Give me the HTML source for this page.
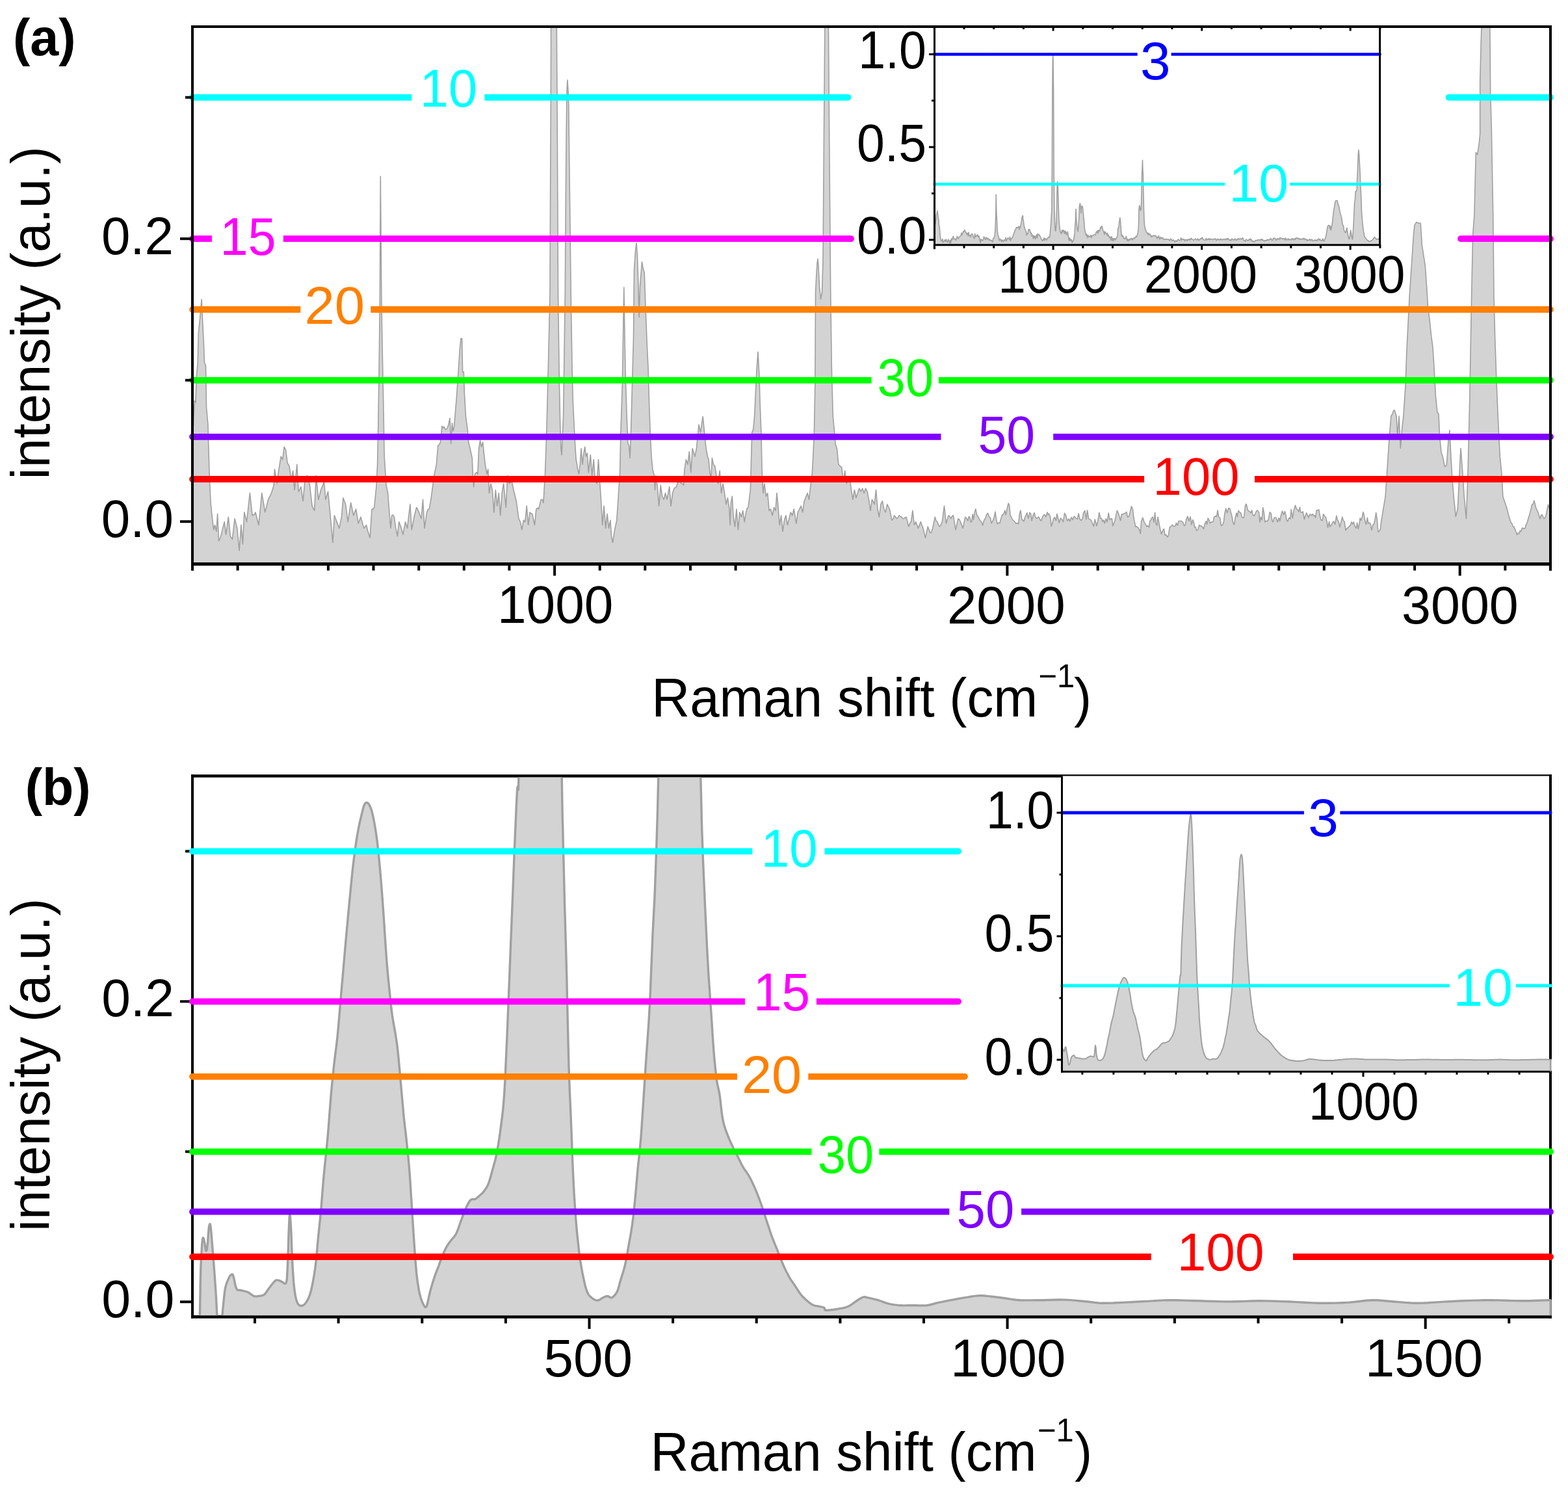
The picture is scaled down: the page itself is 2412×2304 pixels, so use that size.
<!DOCTYPE html>
<html><head><meta charset="utf-8"><title>Raman spectra</title>
<style>html,body{margin:0;padding:0;background:#fff;overflow:hidden;width:2412px;height:2304px;}svg{display:block;}</style>
</head><body>
<svg width="2412" height="2304" viewBox="0 0 2412 2304" font-family='"Liberation Sans", Arial, sans-serif'>
<defs>
<clipPath id="ca"><rect x="298" y="43" width="2085" height="822.5"/></clipPath>
<clipPath id="cai"><rect x="1439" y="42.5" width="682" height="332.8"/></clipPath>
<clipPath id="cb"><rect x="298" y="1195.5" width="2092" height="827.7"/></clipPath>
<clipPath id="cbi"><rect x="1635" y="1195.5" width="752" height="451.3"/></clipPath>
</defs>
<rect width="2412" height="2304" fill="#fff"/>
<g clip-path="url(#ca)"><path d="M297.4 655.4 L299.3 616.2 L301 618.7 L302.3 579.4 L304.2 557.3 L305.2 513.2 L307.2 493.6 L310.1 460.5 L311.6 493.6 L313.3 525.5 L314.5 557.3 L316.5 562.2 L317.5 626 L319.9 653 L320.9 689.8 L322.4 738.8 L324.3 775.6 L326.3 795.2 L328.7 814.8 L330.5 807.5 L332.9 817.3 L334.6 790.3 L336.6 832 L339 827.1 L342.7 812.4 L345.2 802.6 L347.6 822.2 L351.3 795.2 L354.3 824.7 L355.8 826.9 L357.4 829.6 L361.1 797.7 L364.8 812.4 L368 846.7 L370.9 807.5 L373.4 836.9 L375.8 787.9 L379.5 802.6 L384.4 758.4 L388.1 792.8 L389.7 791.5 L391.4 791.7 L393 787.9 L397.9 807.5 L402.8 758.4 L407.7 787.9 L412.6 768.3 L414.3 764.8 L415.9 761.8 L417.5 758.4 L421.2 746.2 L422.4 721.7 L426.1 743.7 L428.6 724.1 L432.2 702 L434.7 706.9 L437.1 687.3 L439.6 692.2 L442.1 711.8 L445 716.8 L448.2 738.8 L450.6 724.1 L453.1 753.5 L456.8 714.3 L459.2 756 L461.1 752.8 L462.9 748.6 L466.1 770.7 L469 738.8 L470.9 733.5 L472.7 731.5 L476.4 746.2 L480.1 778.1 L481.9 781.8 L483.7 785.4 L486.2 731.5 L489.9 768.3 L493.6 753.5 L498.5 741.3 L500.9 768.3 L504.6 756 L508.3 795.2 L511.9 834.5 L514.4 792.8 L518.1 802.6 L521.8 812.4 L525.4 795.2 L527.9 765.8 L531.6 775.6 L535.2 802.6 L539.7 773.2 L543.8 792.8 L547.5 783 L551.2 805 L554.9 795.2 L559.8 812.4 L561.6 810.6 L563.5 807.5 L565.9 817.3 L569.1 827.1 L572 783 L573.9 783.3 L575.7 780.5 L578.9 748.6 L580.6 714.3 L581.8 653 L583.1 567.1 L584.3 469 L585.3 271.4 L586.8 456.8 L588 530.4 L589.7 616.2 L591.2 702 L594.1 746.2 L596.6 758.4 L598.5 783 L601 812.4 L602.7 792.8 L604.5 791.9 L606.4 795.2 L608.8 812.4 L611.3 824.7 L613.7 802.6 L617.4 812.4 L619.9 822.2 L623.5 802.6 L626.5 812.4 L630.9 775.6 L633.3 814.8 L637 795.2 L640.7 780.5 L642.5 783.2 L644.4 787.9 L648.1 797.7 L650.5 768.3 L653 812.4 L656.6 787.9 L658.5 783.3 L660.3 783 L662.8 768.3 L665.2 751.1 L667.7 731.5 L671.4 714.3 L673.8 684.9 L675.7 684 L677.5 680 L679.9 655.4 L681.6 658.1 L683.2 656.3 L684.8 660.3 L686.6 660.4 L688.3 657.9 L690 653 L692 643.2 L693.7 682.4 L695.4 650.5 L696.9 662.8 L698.6 655.4 L700.3 635.8 L702.3 611.3 L704.7 577 L707.2 537.7 L709.1 520.6 L710.6 520.6 L711.6 572.1 L713.3 572.1 L714.5 606.4 L716.5 640.7 L718.2 653 L719.4 662.8 L720.7 680 L723.1 689.8 L726.3 704.5 L727.3 729 L728.7 748.6 L730.5 729 L732.9 726.6 L734.9 729 L736.6 689.8 L738.6 677.5 L740.5 687.3 L742.7 680 L744.4 697.1 L746.4 714.3 L748.9 729 L750.8 721.7 L752.5 758.4 L755 743.7 L757.4 753.5 L759.9 787.9 L762.3 753.5 L764.8 778.1 L767.3 758.4 L769.7 792.8 L772.2 758.4 L774.6 743.7 L778.3 780.5 L780.7 731.5 L783.2 743.7 L785 742.1 L786.9 738.8 L790.6 756 L794.2 770.7 L797.9 797.7 L800.4 802.6 L802.8 814.8 L805.3 800.1 L807.7 802.6 L810.2 778.1 L812.6 807.5 L815.1 787.9 L816.9 789.7 L818.8 790.3 L822.4 807.5 L824.9 783 L826.7 781.2 L828.6 783 L832.2 768.3 L834.1 768.2 L835.9 773.2 L838.4 731.5 L840.8 665.2 L843.3 567.1 L845 493.6 L846 450 L846.6 300 L847.3 150 L847.6 41 L848.2 -285.2 L849.2 -937.8 L851 -1307.5 L851.7 -1361.9 L852.7 -1307.5 L854.5 -937.8 L855.8 -285.2 L856.3 41 L857 150 L857.8 300 L858.5 450 L860.4 591.7 L861.7 653 L862.9 689.8 L864.1 699.6 L865.4 665.2 L866.6 640.7 L869.3 450 L870.3 300 L871.2 200 L872 140 L872.9 123 L874 140 L874.8 160 L875.8 250 L877 350 L878.2 450 L880.1 567.1 L881.3 616.2 L883.7 665.2 L885 689.8 L886.2 706.9 L888.7 721.7 L890.6 729 L892.3 714.3 L894 689.8 L896 714.3 L898 697.1 L899.7 687.3 L901.4 702 L903.4 697.1 L905.3 726.6 L908.3 699.6 L910.7 731.5 L913.2 706.9 L915.6 738.8 L918.1 743.7 L920.5 706.9 L922.5 738.8 L924.2 763.3 L926.7 807.5 L929.1 778.1 L931.6 812.4 L934 790.3 L936.5 812.4 L938.9 800.1 L940.6 824.7 L942.6 834.5 L945.1 817.3 L948.7 800.1 L951.2 763.3 L953.6 726.6 L954.9 665.2 L957.3 591.7 L958.5 518.1 L959.8 442.1 L961 518.1 L962.2 579.4 L964.2 640.7 L965.9 682.4 L967.6 684.9 L969.1 704.5 L970.8 655.4 L972.5 591.7 L974.5 518.1 L975.5 415 L977.5 385 L979 373.8 L980.5 395 L982 440 L983.1 488 L984.5 440 L987.5 402.9 L989 412 L991.3 420.8 L992.9 469 L995.3 530.4 L997.1 567.1 L998.5 616.2 L1000.2 665.2 L1002 702 L1003.9 721.7 L1006.4 731.5 L1007.6 753.5 L1008.8 731.5 L1011.3 748.6 L1013.7 778.1 L1016.2 746.2 L1018.6 763.3 L1021.1 768.3 L1023.5 758.4 L1026 768.3 L1029.7 748.6 L1032.1 778.1 L1034.6 758.4 L1037 751.1 L1038.9 750 L1040.7 748.6 L1042.5 742.7 L1044.4 741.3 L1046.2 740.9 L1048.1 743.7 L1049.9 743.6 L1051.7 746.2 L1053 721.7 L1055.4 706.9 L1057.9 714.3 L1060.3 694.7 L1062.8 726.6 L1065.2 689.8 L1068.9 702 L1071.4 689.8 L1075 653 L1077.5 665.2 L1081.2 640.7 L1083.6 665.2 L1086.1 689.8 L1088.5 702 L1090 706.9 L1092 726.6 L1093.7 738.8 L1095.4 704.5 L1097.4 714.3 L1099.8 716.8 L1102.3 733.9 L1104.7 743.7 L1107.2 724.1 L1109.6 758.4 L1112.1 743.7 L1114.5 758.4 L1117 775.6 L1119.4 765.8 L1121.9 783 L1123.1 807.5 L1124.3 773.2 L1126.3 763.3 L1128 792.8 L1130.5 809.9 L1132.9 783 L1135.4 814.8 L1137.8 787.9 L1140.3 795.2 L1142.7 785.4 L1145.2 802.6 L1147.6 787.9 L1149.2 781.8 L1150.8 780.5 L1152.5 768.3 L1154.3 753.5 L1155.7 702 L1156.7 665.2 L1158.7 660.3 L1160.6 640.7 L1162.3 603.9 L1164.1 567.1 L1166 541.4 L1168 579.4 L1169 616.2 L1170.9 665.2 L1172.2 726.6 L1173.9 758.4 L1175.8 743.7 L1178.3 763.3 L1180.7 758.4 L1183.2 785.4 L1185.6 783 L1188.1 792.8 L1190.6 780.5 L1193 785.4 L1195 758.4 L1196.7 775.6 L1199.1 807.5 L1201.6 792.8 L1204 817.3 L1206.5 800.1 L1208.9 792.8 L1211.4 807.5 L1213.9 797.7 L1216.3 787.9 L1218.8 792.8 L1221.2 783 L1224.9 805 L1227.3 787.9 L1229.8 783 L1232.2 778.1 L1234.7 787.9 L1237.1 770.7 L1240.1 763.3 L1242.1 758.4 L1244.5 768.3 L1247 746.2 L1249.4 726.6 L1250.6 704.5 L1252.4 665.2 L1253.8 591.7 L1254.5 450 L1256 420 L1257 405 L1258 398 L1259 410 L1260.5 440 L1262.5 460 L1264.5 450 L1266 400 L1267.5 200 L1268.8 41 L1270.2 -24.2 L1271.6 -133 L1273 -24.2 L1274.4 41 L1275.6 200 L1277.7 450 L1279.3 567.1 L1281.3 640.7 L1283.7 665.2 L1285 682.4 L1287.4 689.8 L1289.9 714.3 L1292.3 716.8 L1294.8 719.2 L1297.2 741.3 L1299.7 724.1 L1302.1 743.7 L1304.6 738.8 L1307 733.9 L1309.5 753.5 L1311.9 768.3 L1314.4 753.5 L1316.9 765.8 L1319.3 758.4 L1321.8 751.1 L1324.2 756 L1326.7 751.1 L1329.1 758.4 L1331.6 751.1 L1334 756 L1336.5 768.3 L1338.9 785.4 L1341.4 768.3 L1343.2 771.7 L1345.1 775.6 L1347.5 753.5 L1350 783 L1352.4 795.2 L1354.9 775.6 L1357.3 770.7 L1359.8 783 L1362.2 787.9 L1364.7 775.6 L1366.5 779 L1368.4 783 L1372 800.1 L1373.9 798.2 L1375.7 792.8 L1377.6 795.3 L1379.4 797.7 L1381.2 796 L1383.1 792.8 L1384.9 794 L1386.8 795.2 L1388.6 797.3 L1390.4 797.7 L1392.3 796.2 L1394.1 795.2 L1397.8 809.9 L1399.6 805.1 L1401.5 802.6 L1403.9 785.4 L1406.4 807.5 L1408.8 802.6 L1412.5 812.4 L1416.2 802.6 L1419.9 812.4 L1423.5 827.1 L1427.2 809.9 L1430.9 819.8 L1432.7 818.7 L1434.6 812.4 L1438.3 795.2 L1440.1 801.5 L1441.9 802.6 L1443.8 808 L1445.6 809.9 L1447.4 807.3 L1449.3 802.6 L1452.5 778.1 L1455.4 805 L1459.1 792.8 L1460.9 794.3 L1462.8 797.7 L1464.6 793.8 L1466.5 792.8 L1470.1 814.8 L1473.8 797.7 L1475.7 799 L1477.5 802.6 L1481.2 812.4 L1484.8 795.2 L1487 797.4 L1488.9 801.1 L1490.3 794.5 L1491.6 795.2 L1493.4 803 L1494.7 802.5 L1496.1 790.8 L1497.5 799.4 L1499 788.9 L1500.8 782.7 L1502.5 791.6 L1504.6 794.4 L1506.1 798 L1507.7 800.5 L1509.7 802.8 L1511.6 807.9 L1513.2 801.4 L1514.6 799.3 L1516.1 796 L1517.7 791.2 L1519.5 789.3 L1521.5 794.6 L1523.4 796.3 L1525.2 804.8 L1527.3 800.9 L1529.5 794.5 L1530.9 787.1 L1532.3 796.8 L1534.1 805.7 L1536.1 804.1 L1537.9 804.8 L1539.8 797.7 L1541.6 791.7 L1543.7 791 L1545.8 785 L1547.2 791.8 L1549.1 782.8 L1551.2 774 L1552.7 777.6 L1554 792.1 L1555.8 795.6 L1557.1 798.7 L1559.1 800.8 L1560.8 802.1 L1562.8 805.2 L1564.6 804.4 L1566.7 805.7 L1568.3 790.5 L1569.9 785.1 L1572.1 799.6 L1573.5 799.8 L1575.1 801.9 L1576.8 795.1 L1578.1 792.8 L1579.8 788.7 L1581.9 797.4 L1583.9 788.2 L1585.8 790.5 L1587.1 801 L1589.2 792.2 L1591.2 788.7 L1592.6 795.3 L1594.5 797.1 L1596 796.9 L1597.4 794.8 L1598.7 796.4 L1600.2 800.1 L1601.5 801 L1603.6 795.4 L1605.1 792.7 L1606.7 791.3 L1608.8 794.9 L1611 787.7 L1612.3 792 L1613.7 790.2 L1615.8 795.7 L1617.2 809.4 L1619 804.4 L1620.4 798.1 L1622.2 795.6 L1624.4 800.6 L1625.9 790.3 L1627.5 796.7 L1629.3 804 L1631.3 797 L1633.4 798.8 L1635.5 802.6 L1637.6 789.4 L1639.5 791.9 L1641.2 799.3 L1642.5 801 L1644 797.9 L1645.9 801.6 L1648.1 795.6 L1650.3 799.4 L1651.8 794.5 L1653.3 794.6 L1655.1 797.1 L1657.3 798.3 L1659.1 789.7 L1661.2 798.6 L1663.3 800.5 L1665.3 797.2 L1666.7 788.6 L1668.8 785.5 L1670.9 798.7 L1672.6 784.8 L1674.5 797.6 L1676 798.7 L1678.1 799.5 L1680.1 804.4 L1682.3 809.4 L1684.2 798.9 L1685.6 803.7 L1686.9 808.9 L1688.7 801.7 L1690.9 788.4 L1692.9 797.3 L1694.4 797.2 L1695.9 802.2 L1697.7 799.7 L1699.1 805 L1701.3 797.7 L1703.1 803 L1705.2 789 L1707 799.5 L1708.7 797.8 L1710.4 797.9 L1711.9 808.9 L1713.4 804.5 L1715.1 800.8 L1716.7 792.4 L1718.4 785.5 L1719.8 788 L1721.6 793.1 L1723.6 800.8 L1725.4 790.9 L1727.5 791 L1729.2 789.6 L1731 789.6 L1732.9 787.3 L1734.6 795.3 L1736.8 793.8 L1738.9 785.2 L1740.5 778.8 L1742.5 783.5 L1743.9 796 L1745.3 802.8 L1746.8 810 L1748.8 810.1 L1750.9 811.6 L1752.8 815 L1754.3 820.7 L1755.7 801.6 L1757.9 796.3 L1760.1 803.1 L1762.1 806.1 L1763.9 809.9 L1765.5 808.4 L1767.5 811 L1768.8 801.4 L1770.1 800.2 L1771.7 796.7 L1773.1 795 L1775.2 803.1 L1776.6 788.2 L1778.2 805.8 L1779.7 808.1 L1781.1 795.2 L1783.2 806.2 L1784.7 814 L1786.5 821.4 L1788.4 816.5 L1790.4 813.3 L1792.1 823.3 L1793.9 822.5 L1795.9 826.1 L1797.3 823.8 L1799.4 810.6 L1801.2 809.9 L1803.3 807.2 L1805.1 809.1 L1806.6 809.5 L1807.9 809.1 L1809.4 804.4 L1811.4 808.1 L1813 801.5 L1814.6 801.4 L1815.9 801.2 L1817.9 801.7 L1819.7 803.6 L1821.8 808.6 L1823.2 807.7 L1824.9 798.7 L1827 794 L1828.9 801.4 L1831.1 794.8 L1833 806.9 L1834.9 799.5 L1836.3 803.1 L1837.7 810.9 L1839.2 810.5 L1840.6 816 L1842.7 814.9 L1844.6 807.6 L1846.2 808.8 L1847.9 808.7 L1849.4 810.5 L1851.6 813.5 L1853.1 806.4 L1855.3 801.7 L1856.6 806.5 L1858.2 796.8 L1859.7 799.6 L1861.5 804.8 L1862.9 803 L1864.5 803.2 L1866.1 802.3 L1867.6 795.2 L1869.6 793.9 L1871.5 794.3 L1873.1 784.9 L1874.7 795 L1876.7 796.7 L1878.5 808.7 L1880.6 807.3 L1882.5 802.2 L1883.9 789.6 L1885.7 782 L1887.7 788.7 L1889.8 781.6 L1891.7 782.1 L1893.6 788.8 L1895 793.8 L1896.7 803.9 L1898.5 807.2 L1900.3 795.6 L1902.1 789 L1903.4 794.7 L1905.1 785.2 L1906.9 788.1 L1908.9 788.9 L1910.4 795.4 L1912.4 796.7 L1913.8 794.1 L1915.6 777.3 L1917.2 775.2 L1919.2 784.1 L1921.1 786.2 L1922.5 786.9 L1924 788.8 L1925.8 784.8 L1927.2 792.2 L1929.1 793.5 L1931 790.1 L1932.7 785.9 L1934.5 785.1 L1936.6 788.1 L1938 803 L1939.4 795.3 L1941.1 799.6 L1942.8 780.9 L1944.3 788.4 L1945.8 802.9 L1947.6 801.3 L1949.8 801.5 L1951.2 798.9 L1953.3 787.8 L1955.2 789.6 L1957 801.7 L1958.3 802.6 L1960 796.2 L1961.6 796 L1963.2 796.8 L1965.2 803 L1967.3 796.6 L1968.7 801.5 L1970.8 791.5 L1972.4 786.1 L1974.6 791.7 L1976.4 786.4 L1977.9 792.5 L1979.3 800.1 L1980.8 802 L1983 796.3 L1984.7 797.9 L1986.2 783.6 L1988.3 797 L1990.3 784.7 L1992.5 777.3 L1994.3 782.6 L1996.2 784 L1997.9 787.1 L1999.5 780.1 L2000.8 787.9 L2002.6 788.1 L2004.2 786.8 L2006.4 798.7 L2007.9 793.1 L2009.7 788.8 L2011.3 792.6 L2012.8 796.1 L2014.9 790.9 L2017.1 792.6 L2019.3 790.5 L2020.7 793.6 L2022.1 792.9 L2023.6 796.3 L2025.2 784.8 L2027.1 784.7 L2028.8 783.8 L2030.4 793.5 L2032.1 799.7 L2034.2 800.6 L2035.6 790.8 L2037.7 793.9 L2039.2 795.2 L2040.9 801.1 L2042.6 811.2 L2044.7 802.4 L2046 810.1 L2048.1 807.2 L2049.8 803.7 L2051.5 801.9 L2053.6 806.5 L2055.8 793.3 L2057.3 799.2 L2059.1 802.2 L2061 810.6 L2062.9 803 L2064.8 795.1 L2066.2 800.1 L2068.2 802.4 L2070.1 815.8 L2071.6 813 L2073.5 811.7 L2075.4 809.5 L2077.2 808.2 L2079 802.8 L2080.9 806 L2082.2 802.9 L2084.4 809.8 L2086.2 812.4 L2087.7 804.2 L2089.3 813.3 L2090.8 806.9 L2092.2 796.8 L2093.8 800.3 L2095.4 795.3 L2096.9 787.6 L2098.2 791.9 L2100.1 802.9 L2101.6 806.5 L2103.4 796.2 L2104.8 805.1 L2106.9 803.9 L2108.4 806.1 L2109.9 815.4 L2112.1 806.8 L2113.6 806 L2115.3 798.1 L2116.7 788.5 L2118.4 799.6 L2119.8 817.8 L2121.1 817.6 L2123.3 814.2 L2124.9 800.8 L2128 782.2 L2131.1 763.7 L2134.2 717.3 L2137.3 670.9 L2139.8 640 L2141.9 636.9 L2143.5 631.6 L2145 630.8 L2148.1 640 L2149.7 670.9 L2152.1 640 L2154.3 689.5 L2156.5 661.7 L2158.9 640 L2162 593.7 L2163.6 547.3 L2165.1 516.4 L2168.2 454.6 L2171.3 408.2 L2174.4 361.8 L2175.9 346.4 L2179 341.7 L2182.1 343.3 L2185.2 343.3 L2187.4 377.3 L2189.8 392.7 L2192.3 408.2 L2194.5 439.1 L2196.6 473.1 L2199.1 491.7 L2201.6 516.4 L2203.8 531.8 L2205.9 562.8 L2208.4 609.1 L2210.9 633.8 L2213 636.9 L2214.6 670.9 L2217 695.7 L2219.2 701.9 L2222.3 717.3 L2223.8 717.1 L2225.4 714.2 L2228.5 670.9 L2230 661.7 L2231.6 695.7 L2233.7 732.8 L2236.2 763.7 L2239.3 794.6 L2242.4 782.2 L2245.5 717.3 L2247 689.5 L2249.2 717.3 L2252.3 763.7 L2255.4 797.7 L2257.9 732.8 L2259.4 670.9 L2260.9 609.1 L2262.5 516.4 L2264 439.1 L2265.6 361.8 L2267.9 330 L2270.3 234.6 L2272.7 237.8 L2275.1 221.8 L2276.7 205.9 L2276.7 126 L2278.3 62 L2279 41 L2280.5 -67.8 L2282.6 -198.2 L2284.4 -252.6 L2286.5 -198.2 L2288.9 -89.5 L2291.9 41 L2292.7 142 L2294.3 197.9 L2295.9 285.8 L2296.7 330 L2298 454.6 L2299.6 516.4 L2301.7 578.2 L2304.2 640 L2305.8 670.9 L2307.3 701.9 L2309.8 726.6 L2311.9 763.7 L2315 773 L2318.1 782.2 L2321.2 794.6 L2324.3 803.9 L2325.9 805.4 L2327.4 809.8 L2328.9 810 L2333.6 822.4 L2335.1 819.8 L2336.7 820.7 L2338.2 816.2 L2339.8 817.3 L2341.3 812.1 L2342.9 812.4 L2344.4 813.1 L2346 812.2 L2347.5 806.8 L2349 803.9 L2353.7 788.4 L2356.8 776 L2358.3 775.4 L2359.9 769.9 L2363 782.2 L2364.5 784.8 L2366 788.4 L2369.1 797.7 L2370.7 792.4 L2372.2 791.5 L2373.8 795.3 L2375.3 797.7 L2376.9 796 L2378.4 791.5 L2381.5 776 L2383 782.2 L2383 900 L297.4 900 Z" fill="#d3d3d3"/><path d="M297.4 655.4 L299.3 616.2 L301 618.7 L302.3 579.4 L304.2 557.3 L305.2 513.2 L307.2 493.6 L310.1 460.5 L311.6 493.6 L313.3 525.5 L314.5 557.3 L316.5 562.2 L317.5 626 L319.9 653 L320.9 689.8 L322.4 738.8 L324.3 775.6 L326.3 795.2 L328.7 814.8 L330.5 807.5 L332.9 817.3 L334.6 790.3 L336.6 832 L339 827.1 L342.7 812.4 L345.2 802.6 L347.6 822.2 L351.3 795.2 L354.3 824.7 L355.8 826.9 L357.4 829.6 L361.1 797.7 L364.8 812.4 L368 846.7 L370.9 807.5 L373.4 836.9 L375.8 787.9 L379.5 802.6 L384.4 758.4 L388.1 792.8 L389.7 791.5 L391.4 791.7 L393 787.9 L397.9 807.5 L402.8 758.4 L407.7 787.9 L412.6 768.3 L414.3 764.8 L415.9 761.8 L417.5 758.4 L421.2 746.2 L422.4 721.7 L426.1 743.7 L428.6 724.1 L432.2 702 L434.7 706.9 L437.1 687.3 L439.6 692.2 L442.1 711.8 L445 716.8 L448.2 738.8 L450.6 724.1 L453.1 753.5 L456.8 714.3 L459.2 756 L461.1 752.8 L462.9 748.6 L466.1 770.7 L469 738.8 L470.9 733.5 L472.7 731.5 L476.4 746.2 L480.1 778.1 L481.9 781.8 L483.7 785.4 L486.2 731.5 L489.9 768.3 L493.6 753.5 L498.5 741.3 L500.9 768.3 L504.6 756 L508.3 795.2 L511.9 834.5 L514.4 792.8 L518.1 802.6 L521.8 812.4 L525.4 795.2 L527.9 765.8 L531.6 775.6 L535.2 802.6 L539.7 773.2 L543.8 792.8 L547.5 783 L551.2 805 L554.9 795.2 L559.8 812.4 L561.6 810.6 L563.5 807.5 L565.9 817.3 L569.1 827.1 L572 783 L573.9 783.3 L575.7 780.5 L578.9 748.6 L580.6 714.3 L581.8 653 L583.1 567.1 L584.3 469 L585.3 271.4 L586.8 456.8 L588 530.4 L589.7 616.2 L591.2 702 L594.1 746.2 L596.6 758.4 L598.5 783 L601 812.4 L602.7 792.8 L604.5 791.9 L606.4 795.2 L608.8 812.4 L611.3 824.7 L613.7 802.6 L617.4 812.4 L619.9 822.2 L623.5 802.6 L626.5 812.4 L630.9 775.6 L633.3 814.8 L637 795.2 L640.7 780.5 L642.5 783.2 L644.4 787.9 L648.1 797.7 L650.5 768.3 L653 812.4 L656.6 787.9 L658.5 783.3 L660.3 783 L662.8 768.3 L665.2 751.1 L667.7 731.5 L671.4 714.3 L673.8 684.9 L675.7 684 L677.5 680 L679.9 655.4 L681.6 658.1 L683.2 656.3 L684.8 660.3 L686.6 660.4 L688.3 657.9 L690 653 L692 643.2 L693.7 682.4 L695.4 650.5 L696.9 662.8 L698.6 655.4 L700.3 635.8 L702.3 611.3 L704.7 577 L707.2 537.7 L709.1 520.6 L710.6 520.6 L711.6 572.1 L713.3 572.1 L714.5 606.4 L716.5 640.7 L718.2 653 L719.4 662.8 L720.7 680 L723.1 689.8 L726.3 704.5 L727.3 729 L728.7 748.6 L730.5 729 L732.9 726.6 L734.9 729 L736.6 689.8 L738.6 677.5 L740.5 687.3 L742.7 680 L744.4 697.1 L746.4 714.3 L748.9 729 L750.8 721.7 L752.5 758.4 L755 743.7 L757.4 753.5 L759.9 787.9 L762.3 753.5 L764.8 778.1 L767.3 758.4 L769.7 792.8 L772.2 758.4 L774.6 743.7 L778.3 780.5 L780.7 731.5 L783.2 743.7 L785 742.1 L786.9 738.8 L790.6 756 L794.2 770.7 L797.9 797.7 L800.4 802.6 L802.8 814.8 L805.3 800.1 L807.7 802.6 L810.2 778.1 L812.6 807.5 L815.1 787.9 L816.9 789.7 L818.8 790.3 L822.4 807.5 L824.9 783 L826.7 781.2 L828.6 783 L832.2 768.3 L834.1 768.2 L835.9 773.2 L838.4 731.5 L840.8 665.2 L843.3 567.1 L845 493.6 L846 450 L846.6 300 L847.3 150 L847.6 41 L848.2 -285.2 L849.2 -937.8 L851 -1307.5 L851.7 -1361.9 L852.7 -1307.5 L854.5 -937.8 L855.8 -285.2 L856.3 41 L857 150 L857.8 300 L858.5 450 L860.4 591.7 L861.7 653 L862.9 689.8 L864.1 699.6 L865.4 665.2 L866.6 640.7 L869.3 450 L870.3 300 L871.2 200 L872 140 L872.9 123 L874 140 L874.8 160 L875.8 250 L877 350 L878.2 450 L880.1 567.1 L881.3 616.2 L883.7 665.2 L885 689.8 L886.2 706.9 L888.7 721.7 L890.6 729 L892.3 714.3 L894 689.8 L896 714.3 L898 697.1 L899.7 687.3 L901.4 702 L903.4 697.1 L905.3 726.6 L908.3 699.6 L910.7 731.5 L913.2 706.9 L915.6 738.8 L918.1 743.7 L920.5 706.9 L922.5 738.8 L924.2 763.3 L926.7 807.5 L929.1 778.1 L931.6 812.4 L934 790.3 L936.5 812.4 L938.9 800.1 L940.6 824.7 L942.6 834.5 L945.1 817.3 L948.7 800.1 L951.2 763.3 L953.6 726.6 L954.9 665.2 L957.3 591.7 L958.5 518.1 L959.8 442.1 L961 518.1 L962.2 579.4 L964.2 640.7 L965.9 682.4 L967.6 684.9 L969.1 704.5 L970.8 655.4 L972.5 591.7 L974.5 518.1 L975.5 415 L977.5 385 L979 373.8 L980.5 395 L982 440 L983.1 488 L984.5 440 L987.5 402.9 L989 412 L991.3 420.8 L992.9 469 L995.3 530.4 L997.1 567.1 L998.5 616.2 L1000.2 665.2 L1002 702 L1003.9 721.7 L1006.4 731.5 L1007.6 753.5 L1008.8 731.5 L1011.3 748.6 L1013.7 778.1 L1016.2 746.2 L1018.6 763.3 L1021.1 768.3 L1023.5 758.4 L1026 768.3 L1029.7 748.6 L1032.1 778.1 L1034.6 758.4 L1037 751.1 L1038.9 750 L1040.7 748.6 L1042.5 742.7 L1044.4 741.3 L1046.2 740.9 L1048.1 743.7 L1049.9 743.6 L1051.7 746.2 L1053 721.7 L1055.4 706.9 L1057.9 714.3 L1060.3 694.7 L1062.8 726.6 L1065.2 689.8 L1068.9 702 L1071.4 689.8 L1075 653 L1077.5 665.2 L1081.2 640.7 L1083.6 665.2 L1086.1 689.8 L1088.5 702 L1090 706.9 L1092 726.6 L1093.7 738.8 L1095.4 704.5 L1097.4 714.3 L1099.8 716.8 L1102.3 733.9 L1104.7 743.7 L1107.2 724.1 L1109.6 758.4 L1112.1 743.7 L1114.5 758.4 L1117 775.6 L1119.4 765.8 L1121.9 783 L1123.1 807.5 L1124.3 773.2 L1126.3 763.3 L1128 792.8 L1130.5 809.9 L1132.9 783 L1135.4 814.8 L1137.8 787.9 L1140.3 795.2 L1142.7 785.4 L1145.2 802.6 L1147.6 787.9 L1149.2 781.8 L1150.8 780.5 L1152.5 768.3 L1154.3 753.5 L1155.7 702 L1156.7 665.2 L1158.7 660.3 L1160.6 640.7 L1162.3 603.9 L1164.1 567.1 L1166 541.4 L1168 579.4 L1169 616.2 L1170.9 665.2 L1172.2 726.6 L1173.9 758.4 L1175.8 743.7 L1178.3 763.3 L1180.7 758.4 L1183.2 785.4 L1185.6 783 L1188.1 792.8 L1190.6 780.5 L1193 785.4 L1195 758.4 L1196.7 775.6 L1199.1 807.5 L1201.6 792.8 L1204 817.3 L1206.5 800.1 L1208.9 792.8 L1211.4 807.5 L1213.9 797.7 L1216.3 787.9 L1218.8 792.8 L1221.2 783 L1224.9 805 L1227.3 787.9 L1229.8 783 L1232.2 778.1 L1234.7 787.9 L1237.1 770.7 L1240.1 763.3 L1242.1 758.4 L1244.5 768.3 L1247 746.2 L1249.4 726.6 L1250.6 704.5 L1252.4 665.2 L1253.8 591.7 L1254.5 450 L1256 420 L1257 405 L1258 398 L1259 410 L1260.5 440 L1262.5 460 L1264.5 450 L1266 400 L1267.5 200 L1268.8 41 L1270.2 -24.2 L1271.6 -133 L1273 -24.2 L1274.4 41 L1275.6 200 L1277.7 450 L1279.3 567.1 L1281.3 640.7 L1283.7 665.2 L1285 682.4 L1287.4 689.8 L1289.9 714.3 L1292.3 716.8 L1294.8 719.2 L1297.2 741.3 L1299.7 724.1 L1302.1 743.7 L1304.6 738.8 L1307 733.9 L1309.5 753.5 L1311.9 768.3 L1314.4 753.5 L1316.9 765.8 L1319.3 758.4 L1321.8 751.1 L1324.2 756 L1326.7 751.1 L1329.1 758.4 L1331.6 751.1 L1334 756 L1336.5 768.3 L1338.9 785.4 L1341.4 768.3 L1343.2 771.7 L1345.1 775.6 L1347.5 753.5 L1350 783 L1352.4 795.2 L1354.9 775.6 L1357.3 770.7 L1359.8 783 L1362.2 787.9 L1364.7 775.6 L1366.5 779 L1368.4 783 L1372 800.1 L1373.9 798.2 L1375.7 792.8 L1377.6 795.3 L1379.4 797.7 L1381.2 796 L1383.1 792.8 L1384.9 794 L1386.8 795.2 L1388.6 797.3 L1390.4 797.7 L1392.3 796.2 L1394.1 795.2 L1397.8 809.9 L1399.6 805.1 L1401.5 802.6 L1403.9 785.4 L1406.4 807.5 L1408.8 802.6 L1412.5 812.4 L1416.2 802.6 L1419.9 812.4 L1423.5 827.1 L1427.2 809.9 L1430.9 819.8 L1432.7 818.7 L1434.6 812.4 L1438.3 795.2 L1440.1 801.5 L1441.9 802.6 L1443.8 808 L1445.6 809.9 L1447.4 807.3 L1449.3 802.6 L1452.5 778.1 L1455.4 805 L1459.1 792.8 L1460.9 794.3 L1462.8 797.7 L1464.6 793.8 L1466.5 792.8 L1470.1 814.8 L1473.8 797.7 L1475.7 799 L1477.5 802.6 L1481.2 812.4 L1484.8 795.2 L1487 797.4 L1488.9 801.1 L1490.3 794.5 L1491.6 795.2 L1493.4 803 L1494.7 802.5 L1496.1 790.8 L1497.5 799.4 L1499 788.9 L1500.8 782.7 L1502.5 791.6 L1504.6 794.4 L1506.1 798 L1507.7 800.5 L1509.7 802.8 L1511.6 807.9 L1513.2 801.4 L1514.6 799.3 L1516.1 796 L1517.7 791.2 L1519.5 789.3 L1521.5 794.6 L1523.4 796.3 L1525.2 804.8 L1527.3 800.9 L1529.5 794.5 L1530.9 787.1 L1532.3 796.8 L1534.1 805.7 L1536.1 804.1 L1537.9 804.8 L1539.8 797.7 L1541.6 791.7 L1543.7 791 L1545.8 785 L1547.2 791.8 L1549.1 782.8 L1551.2 774 L1552.7 777.6 L1554 792.1 L1555.8 795.6 L1557.1 798.7 L1559.1 800.8 L1560.8 802.1 L1562.8 805.2 L1564.6 804.4 L1566.7 805.7 L1568.3 790.5 L1569.9 785.1 L1572.1 799.6 L1573.5 799.8 L1575.1 801.9 L1576.8 795.1 L1578.1 792.8 L1579.8 788.7 L1581.9 797.4 L1583.9 788.2 L1585.8 790.5 L1587.1 801 L1589.2 792.2 L1591.2 788.7 L1592.6 795.3 L1594.5 797.1 L1596 796.9 L1597.4 794.8 L1598.7 796.4 L1600.2 800.1 L1601.5 801 L1603.6 795.4 L1605.1 792.7 L1606.7 791.3 L1608.8 794.9 L1611 787.7 L1612.3 792 L1613.7 790.2 L1615.8 795.7 L1617.2 809.4 L1619 804.4 L1620.4 798.1 L1622.2 795.6 L1624.4 800.6 L1625.9 790.3 L1627.5 796.7 L1629.3 804 L1631.3 797 L1633.4 798.8 L1635.5 802.6 L1637.6 789.4 L1639.5 791.9 L1641.2 799.3 L1642.5 801 L1644 797.9 L1645.9 801.6 L1648.1 795.6 L1650.3 799.4 L1651.8 794.5 L1653.3 794.6 L1655.1 797.1 L1657.3 798.3 L1659.1 789.7 L1661.2 798.6 L1663.3 800.5 L1665.3 797.2 L1666.7 788.6 L1668.8 785.5 L1670.9 798.7 L1672.6 784.8 L1674.5 797.6 L1676 798.7 L1678.1 799.5 L1680.1 804.4 L1682.3 809.4 L1684.2 798.9 L1685.6 803.7 L1686.9 808.9 L1688.7 801.7 L1690.9 788.4 L1692.9 797.3 L1694.4 797.2 L1695.9 802.2 L1697.7 799.7 L1699.1 805 L1701.3 797.7 L1703.1 803 L1705.2 789 L1707 799.5 L1708.7 797.8 L1710.4 797.9 L1711.9 808.9 L1713.4 804.5 L1715.1 800.8 L1716.7 792.4 L1718.4 785.5 L1719.8 788 L1721.6 793.1 L1723.6 800.8 L1725.4 790.9 L1727.5 791 L1729.2 789.6 L1731 789.6 L1732.9 787.3 L1734.6 795.3 L1736.8 793.8 L1738.9 785.2 L1740.5 778.8 L1742.5 783.5 L1743.9 796 L1745.3 802.8 L1746.8 810 L1748.8 810.1 L1750.9 811.6 L1752.8 815 L1754.3 820.7 L1755.7 801.6 L1757.9 796.3 L1760.1 803.1 L1762.1 806.1 L1763.9 809.9 L1765.5 808.4 L1767.5 811 L1768.8 801.4 L1770.1 800.2 L1771.7 796.7 L1773.1 795 L1775.2 803.1 L1776.6 788.2 L1778.2 805.8 L1779.7 808.1 L1781.1 795.2 L1783.2 806.2 L1784.7 814 L1786.5 821.4 L1788.4 816.5 L1790.4 813.3 L1792.1 823.3 L1793.9 822.5 L1795.9 826.1 L1797.3 823.8 L1799.4 810.6 L1801.2 809.9 L1803.3 807.2 L1805.1 809.1 L1806.6 809.5 L1807.9 809.1 L1809.4 804.4 L1811.4 808.1 L1813 801.5 L1814.6 801.4 L1815.9 801.2 L1817.9 801.7 L1819.7 803.6 L1821.8 808.6 L1823.2 807.7 L1824.9 798.7 L1827 794 L1828.9 801.4 L1831.1 794.8 L1833 806.9 L1834.9 799.5 L1836.3 803.1 L1837.7 810.9 L1839.2 810.5 L1840.6 816 L1842.7 814.9 L1844.6 807.6 L1846.2 808.8 L1847.9 808.7 L1849.4 810.5 L1851.6 813.5 L1853.1 806.4 L1855.3 801.7 L1856.6 806.5 L1858.2 796.8 L1859.7 799.6 L1861.5 804.8 L1862.9 803 L1864.5 803.2 L1866.1 802.3 L1867.6 795.2 L1869.6 793.9 L1871.5 794.3 L1873.1 784.9 L1874.7 795 L1876.7 796.7 L1878.5 808.7 L1880.6 807.3 L1882.5 802.2 L1883.9 789.6 L1885.7 782 L1887.7 788.7 L1889.8 781.6 L1891.7 782.1 L1893.6 788.8 L1895 793.8 L1896.7 803.9 L1898.5 807.2 L1900.3 795.6 L1902.1 789 L1903.4 794.7 L1905.1 785.2 L1906.9 788.1 L1908.9 788.9 L1910.4 795.4 L1912.4 796.7 L1913.8 794.1 L1915.6 777.3 L1917.2 775.2 L1919.2 784.1 L1921.1 786.2 L1922.5 786.9 L1924 788.8 L1925.8 784.8 L1927.2 792.2 L1929.1 793.5 L1931 790.1 L1932.7 785.9 L1934.5 785.1 L1936.6 788.1 L1938 803 L1939.4 795.3 L1941.1 799.6 L1942.8 780.9 L1944.3 788.4 L1945.8 802.9 L1947.6 801.3 L1949.8 801.5 L1951.2 798.9 L1953.3 787.8 L1955.2 789.6 L1957 801.7 L1958.3 802.6 L1960 796.2 L1961.6 796 L1963.2 796.8 L1965.2 803 L1967.3 796.6 L1968.7 801.5 L1970.8 791.5 L1972.4 786.1 L1974.6 791.7 L1976.4 786.4 L1977.9 792.5 L1979.3 800.1 L1980.8 802 L1983 796.3 L1984.7 797.9 L1986.2 783.6 L1988.3 797 L1990.3 784.7 L1992.5 777.3 L1994.3 782.6 L1996.2 784 L1997.9 787.1 L1999.5 780.1 L2000.8 787.9 L2002.6 788.1 L2004.2 786.8 L2006.4 798.7 L2007.9 793.1 L2009.7 788.8 L2011.3 792.6 L2012.8 796.1 L2014.9 790.9 L2017.1 792.6 L2019.3 790.5 L2020.7 793.6 L2022.1 792.9 L2023.6 796.3 L2025.2 784.8 L2027.1 784.7 L2028.8 783.8 L2030.4 793.5 L2032.1 799.7 L2034.2 800.6 L2035.6 790.8 L2037.7 793.9 L2039.2 795.2 L2040.9 801.1 L2042.6 811.2 L2044.7 802.4 L2046 810.1 L2048.1 807.2 L2049.8 803.7 L2051.5 801.9 L2053.6 806.5 L2055.8 793.3 L2057.3 799.2 L2059.1 802.2 L2061 810.6 L2062.9 803 L2064.8 795.1 L2066.2 800.1 L2068.2 802.4 L2070.1 815.8 L2071.6 813 L2073.5 811.7 L2075.4 809.5 L2077.2 808.2 L2079 802.8 L2080.9 806 L2082.2 802.9 L2084.4 809.8 L2086.2 812.4 L2087.7 804.2 L2089.3 813.3 L2090.8 806.9 L2092.2 796.8 L2093.8 800.3 L2095.4 795.3 L2096.9 787.6 L2098.2 791.9 L2100.1 802.9 L2101.6 806.5 L2103.4 796.2 L2104.8 805.1 L2106.9 803.9 L2108.4 806.1 L2109.9 815.4 L2112.1 806.8 L2113.6 806 L2115.3 798.1 L2116.7 788.5 L2118.4 799.6 L2119.8 817.8 L2121.1 817.6 L2123.3 814.2 L2124.9 800.8 L2128 782.2 L2131.1 763.7 L2134.2 717.3 L2137.3 670.9 L2139.8 640 L2141.9 636.9 L2143.5 631.6 L2145 630.8 L2148.1 640 L2149.7 670.9 L2152.1 640 L2154.3 689.5 L2156.5 661.7 L2158.9 640 L2162 593.7 L2163.6 547.3 L2165.1 516.4 L2168.2 454.6 L2171.3 408.2 L2174.4 361.8 L2175.9 346.4 L2179 341.7 L2182.1 343.3 L2185.2 343.3 L2187.4 377.3 L2189.8 392.7 L2192.3 408.2 L2194.5 439.1 L2196.6 473.1 L2199.1 491.7 L2201.6 516.4 L2203.8 531.8 L2205.9 562.8 L2208.4 609.1 L2210.9 633.8 L2213 636.9 L2214.6 670.9 L2217 695.7 L2219.2 701.9 L2222.3 717.3 L2223.8 717.1 L2225.4 714.2 L2228.5 670.9 L2230 661.7 L2231.6 695.7 L2233.7 732.8 L2236.2 763.7 L2239.3 794.6 L2242.4 782.2 L2245.5 717.3 L2247 689.5 L2249.2 717.3 L2252.3 763.7 L2255.4 797.7 L2257.9 732.8 L2259.4 670.9 L2260.9 609.1 L2262.5 516.4 L2264 439.1 L2265.6 361.8 L2267.9 330 L2270.3 234.6 L2272.7 237.8 L2275.1 221.8 L2276.7 205.9 L2276.7 126 L2278.3 62 L2279 41 L2280.5 -67.8 L2282.6 -198.2 L2284.4 -252.6 L2286.5 -198.2 L2288.9 -89.5 L2291.9 41 L2292.7 142 L2294.3 197.9 L2295.9 285.8 L2296.7 330 L2298 454.6 L2299.6 516.4 L2301.7 578.2 L2304.2 640 L2305.8 670.9 L2307.3 701.9 L2309.8 726.6 L2311.9 763.7 L2315 773 L2318.1 782.2 L2321.2 794.6 L2324.3 803.9 L2325.9 805.4 L2327.4 809.8 L2328.9 810 L2333.6 822.4 L2335.1 819.8 L2336.7 820.7 L2338.2 816.2 L2339.8 817.3 L2341.3 812.1 L2342.9 812.4 L2344.4 813.1 L2346 812.2 L2347.5 806.8 L2349 803.9 L2353.7 788.4 L2356.8 776 L2358.3 775.4 L2359.9 769.9 L2363 782.2 L2364.5 784.8 L2366 788.4 L2369.1 797.7 L2370.7 792.4 L2372.2 791.5 L2373.8 795.3 L2375.3 797.7 L2376.9 796 L2378.4 791.5 L2381.5 776 L2383 782.2" fill="none" stroke="#a0a0a0" stroke-width="1.6" stroke-linejoin="round"/></g>
<line x1="296" y1="149.8" x2="1304.5" y2="149.8" stroke="#00ffff" stroke-width="9.8" stroke-linecap="round"/>
<line x1="2228.6" y1="149.8" x2="2385" y2="149.8" stroke="#00ffff" stroke-width="9.8" stroke-linecap="round"/>
<line x1="296" y1="367.2" x2="1309" y2="367.2" stroke="#ff00ff" stroke-width="9.8" stroke-linecap="round"/>
<line x1="2247" y1="367.2" x2="2385" y2="367.2" stroke="#ff00ff" stroke-width="9.8" stroke-linecap="round"/>
<line x1="296" y1="476" x2="2385" y2="476" stroke="#ff8000" stroke-width="9.8" stroke-linecap="round"/>
<line x1="296" y1="584.8" x2="2385" y2="584.8" stroke="#00ff00" stroke-width="9.8" stroke-linecap="round"/>
<line x1="296" y1="671.8" x2="2385" y2="671.8" stroke="#8000ff" stroke-width="9.8" stroke-linecap="round"/>
<line x1="296" y1="737" x2="2385" y2="737" stroke="#ff0000" stroke-width="9.8" stroke-linecap="round"/>
<rect x="633.4" y="142.8" width="112" height="14" fill="#fff"/>
<rect x="325.9" y="360.2" width="109.9" height="14" fill="#fff"/>
<rect x="462.3" y="469" width="108" height="14" fill="#fff"/>
<rect x="1340.6" y="577.8" width="103.3" height="14" fill="#fff"/>
<rect x="1447.5" y="664.8" width="172.7" height="14" fill="#fff"/>
<rect x="1760.1" y="730" width="169.9" height="14" fill="#fff"/>
<text transform="translate(645.7,164) scale(0.9938,1.03)" font-size="80" text-anchor="start" fill="#00ffff">10</text>
<text transform="translate(338.4,392) scale(0.9675,1.03)" font-size="80" text-anchor="start" fill="#ff00ff">15</text>
<text transform="translate(468.5,497.8) scale(1.0402,1.03)" font-size="80" text-anchor="start" fill="#ff8000">20</text>
<text transform="translate(1349.5,609) scale(0.9747,1.03)" font-size="80" text-anchor="start" fill="#00ff00">30</text>
<text transform="translate(1504.4,696.8) scale(0.9843,1.03)" font-size="80" text-anchor="start" fill="#8000ff">50</text>
<text transform="translate(1773.6,761.2) scale(0.996,1.03)" font-size="80" text-anchor="start" fill="#ff0000">100</text>
<g clip-path="url(#cai)"><path d="M1437.7 349.6 L1438.4 344.5 L1439 344.8 L1439.4 339.7 L1440 336.8 L1440.3 331 L1441 328.4 L1441.9 324.1 L1442.4 328.4 L1443 332.6 L1443.4 336.8 L1444 337.4 L1444.3 345.8 L1445.2 349.3 L1445.5 354.1 L1446 360.6 L1446.6 365.4 L1447.2 368 L1448 370.6 L1448.6 369.6 L1449.4 370.9 L1450 367.3 L1450.6 372.8 L1451.4 372.2 L1452.6 370.2 L1453.4 368.9 L1454.2 371.5 L1455.5 368 L1456.4 371.8 L1456.9 372.1 L1457.5 372.5 L1458.7 368.3 L1459.9 370.2 L1460.9 374.7 L1461.9 369.6 L1462.7 373.4 L1463.5 367 L1464.7 368.9 L1466.3 363.2 L1467.5 367.7 L1468.1 367.5 L1468.6 367.5 L1469.1 367 L1470.7 369.6 L1472.4 363.2 L1474 367 L1475.6 364.4 L1476.1 364 L1476.6 363.6 L1477.2 363.2 L1478.4 361.5 L1478.8 358.3 L1480 361.2 L1480.8 358.6 L1482 355.8 L1482.8 356.4 L1483.6 353.8 L1484.4 354.5 L1485.2 357 L1486.2 357.7 L1487.2 360.6 L1488.1 358.6 L1488.9 362.5 L1490.1 357.4 L1490.9 362.8 L1491.5 362.4 L1492.1 361.9 L1493.1 364.8 L1494.1 360.6 L1494.7 359.9 L1495.3 359.6 L1496.5 361.5 L1497.7 365.7 L1498.3 366.2 L1498.9 366.7 L1499.7 359.6 L1500.9 364.4 L1502.1 362.5 L1503.7 360.9 L1504.6 364.4 L1505.8 362.8 L1507 368 L1508.2 373.1 L1509 367.7 L1510.2 368.9 L1511.4 370.2 L1512.6 368 L1513.4 364.1 L1514.6 365.4 L1515.8 368.9 L1517.3 365.1 L1518.6 367.7 L1519.8 366.4 L1521.1 369.3 L1522.3 368 L1523.9 370.2 L1524.5 370 L1525.1 369.6 L1525.9 370.9 L1526.9 372.2 L1527.9 366.4 L1528.5 366.4 L1529.1 366 L1530.1 361.9 L1530.7 357.4 L1531.1 349.3 L1531.5 338.1 L1531.9 325.2 L1532.2 299.2 L1532.7 323.6 L1533.1 333.2 L1533.7 344.5 L1534.2 355.8 L1535.1 361.5 L1535.9 363.2 L1536.6 366.4 L1537.4 370.2 L1538 367.7 L1538.6 367.5 L1539.2 368 L1540 370.2 L1540.8 371.8 L1541.6 368.9 L1542.8 370.2 L1543.6 371.5 L1544.8 368.9 L1545.8 370.2 L1547.2 365.4 L1548 370.6 L1549.2 368 L1550.4 366 L1551 366.4 L1551.6 367 L1552.8 368.3 L1553.6 364.4 L1554.5 370.2 L1555.7 367 L1556.3 366.4 L1556.9 366.4 L1557.7 364.4 L1558.5 362.2 L1559.3 359.6 L1560.5 357.4 L1561.3 353.5 L1561.9 353.4 L1562.5 352.9 L1563.3 349.6 L1563.8 350 L1564.4 349.8 L1564.9 350.3 L1565.5 350.3 L1566 350 L1566.6 349.3 L1567.3 348 L1567.8 353.2 L1568.4 349 L1568.9 350.6 L1569.4 349.6 L1570 347.1 L1570.6 343.8 L1571.4 339.3 L1572.2 334.2 L1572.9 331.9 L1573.4 331.9 L1573.7 338.7 L1574.3 338.7 L1574.7 343.2 L1575.3 347.7 L1575.9 349.3 L1576.3 350.6 L1576.7 352.9 L1577.5 354.1 L1578.5 356.1 L1578.8 359.3 L1579.3 361.9 L1579.9 359.3 L1580.7 359 L1581.3 359.3 L1581.9 354.1 L1582.5 352.5 L1583.2 353.8 L1583.9 352.9 L1584.5 355.1 L1585.1 357.4 L1585.9 359.3 L1586.6 358.3 L1587.1 363.2 L1587.9 361.2 L1588.7 362.5 L1589.5 367 L1590.4 362.5 L1591.2 365.7 L1592 363.2 L1592.8 367.7 L1593.6 363.2 L1594.4 361.2 L1595.6 366 L1596.4 359.6 L1597.2 361.2 L1597.8 361 L1598.4 360.6 L1599.6 362.8 L1600.8 364.8 L1602 368.3 L1602.8 368.9 L1603.6 370.6 L1604.4 368.6 L1605.2 368.9 L1606 365.7 L1606.9 369.6 L1607.7 367 L1608.3 367.3 L1608.9 367.3 L1610.1 369.6 L1610.9 366.4 L1611.5 366.1 L1612.1 366.4 L1613.3 364.4 L1613.9 364.4 L1614.5 365.1 L1615.3 359.6 L1616.1 350.9 L1616.9 338.1 L1617.5 328.4 L1617.8 322.7 L1618 303 L1618.2 283.3 L1618.3 269 L1618.5 226.2 L1618.9 140.6 L1619.4 92.1 L1619.7 84.9 L1620 92.1 L1620.6 140.6 L1621 226.2 L1621.2 269 L1621.4 283.3 L1621.7 303 L1621.9 322.7 L1622.5 341.3 L1622.9 349.3 L1623.4 354.1 L1623.8 355.4 L1624.2 350.9 L1624.6 347.7 L1625.5 322.7 L1625.8 303 L1626.1 289.9 L1626.3 282 L1626.6 279.8 L1627 282 L1627.3 284.6 L1627.6 296.4 L1628 309.6 L1628.4 322.7 L1629 338.1 L1629.4 344.5 L1630.2 350.9 L1630.6 354.1 L1631 356.4 L1631.8 358.3 L1632.4 359.3 L1633 357.4 L1633.6 354.1 L1634.2 357.4 L1634.9 355.1 L1635.4 353.8 L1636 355.8 L1636.6 355.1 L1637.3 359 L1638.2 355.4 L1639 359.6 L1639.9 356.4 L1640.7 360.6 L1641.5 361.2 L1642.3 356.4 L1642.9 360.6 L1643.5 363.8 L1644.3 369.6 L1645.1 365.7 L1645.9 370.2 L1646.7 367.3 L1647.5 370.2 L1648.3 368.6 L1648.9 371.8 L1649.5 373.1 L1650.3 370.9 L1651.5 368.6 L1652.3 363.8 L1653.1 359 L1653.5 350.9 L1654.3 341.3 L1654.7 331.6 L1655.1 321.6 L1655.5 331.6 L1655.9 339.7 L1656.6 347.7 L1657.2 353.2 L1657.7 353.5 L1658.2 356.1 L1658.8 349.6 L1659.3 341.3 L1660 331.6 L1660.3 318.1 L1661 314.1 L1661.5 312.7 L1661.9 315.5 L1662.4 321.4 L1662.8 327.7 L1663.3 321.4 L1664.2 316.5 L1664.7 317.7 L1665.5 318.8 L1666 325.2 L1666.8 333.2 L1667.4 338.1 L1667.9 344.5 L1668.4 350.9 L1669 355.8 L1669.6 358.3 L1670.4 359.6 L1670.8 362.5 L1671.2 359.6 L1672 361.9 L1672.9 365.7 L1673.7 361.5 L1674.5 363.8 L1675.3 364.4 L1676.1 363.2 L1676.9 364.4 L1678.1 361.9 L1678.9 365.7 L1679.7 363.2 L1680.5 362.2 L1681.1 362 L1681.7 361.9 L1682.3 361.1 L1682.9 360.9 L1683.5 360.8 L1684.1 361.2 L1684.7 361.2 L1685.3 361.5 L1685.7 358.3 L1686.5 356.4 L1687.3 357.4 L1688.1 354.8 L1689 359 L1689.8 354.1 L1691 355.8 L1691.8 354.1 L1693 349.3 L1693.8 350.9 L1695 347.7 L1695.8 350.9 L1696.6 354.1 L1697.4 355.8 L1697.9 356.4 L1698.5 359 L1699.1 360.6 L1699.7 356.1 L1700.3 357.4 L1701.1 357.7 L1701.9 359.9 L1702.7 361.2 L1703.5 358.6 L1704.3 363.2 L1705.1 361.2 L1705.9 363.2 L1706.7 365.4 L1707.5 364.1 L1708.3 366.4 L1708.8 369.6 L1709.2 365.1 L1709.8 363.8 L1710.4 367.7 L1711.2 369.9 L1712 366.4 L1712.8 370.6 L1713.6 367 L1714.4 368 L1715.2 366.7 L1716 368.9 L1716.8 367 L1717.3 366.2 L1717.8 366 L1718.4 364.4 L1719 362.5 L1719.5 355.8 L1719.8 350.9 L1720.4 350.3 L1721.1 347.7 L1721.6 342.9 L1722.2 338.1 L1722.8 334.7 L1723.5 339.7 L1723.8 344.5 L1724.4 350.9 L1724.8 359 L1725.4 363.2 L1726.1 361.2 L1726.9 363.8 L1727.7 363.2 L1728.5 366.7 L1729.3 366.4 L1730.1 367.7 L1730.9 366 L1731.7 366.7 L1732.3 363.2 L1732.9 365.4 L1733.7 369.6 L1734.5 367.7 L1735.3 370.9 L1736.1 368.6 L1736.9 367.7 L1737.7 369.6 L1738.5 368.3 L1739.3 367 L1740.1 367.7 L1740.9 366.4 L1742.2 369.3 L1743 367 L1743.8 366.4 L1744.6 365.7 L1745.4 367 L1746.2 364.8 L1747.1 363.8 L1747.8 363.2 L1748.6 364.4 L1749.4 361.5 L1750.2 359 L1750.6 356.1 L1751.2 350.9 L1751.7 341.3 L1751.9 322.7 L1752.4 318.7 L1752.7 316.8 L1753 315.9 L1753.3 317.4 L1753.8 321.4 L1754.5 324 L1755.2 322.7 L1755.6 316.1 L1756.1 289.9 L1756.6 269 L1757 260.4 L1757.5 246.2 L1757.9 260.4 L1758.4 269 L1758.8 289.9 L1759.5 322.7 L1760 338.1 L1760.7 347.7 L1761.5 350.9 L1761.9 353.2 L1762.7 354.1 L1763.5 357.4 L1764.3 357.7 L1765.1 358 L1765.9 360.9 L1766.7 358.6 L1767.5 361.2 L1768.3 360.6 L1769.1 359.9 L1769.9 362.5 L1770.7 364.4 L1771.5 362.5 L1772.3 364.1 L1773.1 363.2 L1773.9 362.2 L1774.8 362.8 L1775.6 362.2 L1776.4 363.2 L1777.2 362.2 L1778 362.8 L1778.8 364.4 L1779.6 366.7 L1780.4 364.4 L1781 364.9 L1781.6 365.4 L1782.4 362.5 L1783.2 366.4 L1784 368 L1784.8 365.4 L1785.6 364.8 L1786.4 366.4 L1787.2 367 L1788 365.4 L1788.6 365.8 L1789.2 366.4 L1790.4 368.6 L1791.1 368.4 L1791.7 367.7 L1792.3 368 L1792.9 368.3 L1793.5 368.1 L1794.1 367.7 L1794.7 367.8 L1795.3 368 L1795.9 368.3 L1796.5 368.3 L1797.1 368.1 L1797.7 368 L1798.9 369.9 L1799.5 369.3 L1800.1 368.9 L1800.9 366.7 L1801.7 369.6 L1802.5 368.9 L1803.7 370.2 L1804.9 368.9 L1806.1 370.2 L1807.3 372.2 L1808.6 369.9 L1809.8 371.2 L1810.4 371.1 L1811 370.2 L1812.2 368 L1812.8 368.8 L1813.4 368.9 L1814 369.7 L1814.6 369.9 L1815.2 369.6 L1815.8 368.9 L1816.8 365.7 L1817.8 369.3 L1819 367.7 L1819.6 367.9 L1820.2 368.3 L1820.8 367.8 L1821.4 367.7 L1822.6 370.6 L1823.8 368.3 L1824.5 368.5 L1825.1 368.9 L1826.3 370.2 L1827.5 368 L1828.2 368.3 L1828.8 368.8 L1829.2 367.9 L1829.7 368 L1830.3 369 L1830.7 368.9 L1831.2 367.4 L1831.6 368.5 L1832.1 367.1 L1832.7 366.3 L1833.3 367.5 L1833.9 367.9 L1834.5 368.3 L1835 368.7 L1835.6 369 L1836.3 369.6 L1836.8 368.8 L1837.2 368.5 L1837.7 368.1 L1838.2 367.4 L1838.8 367.2 L1839.5 367.9 L1840.1 368.1 L1840.7 369.2 L1841.4 368.7 L1842.1 367.9 L1842.6 366.9 L1843.1 368.2 L1843.6 369.4 L1844.3 369.1 L1844.9 369.2 L1845.5 368.3 L1846.1 367.5 L1846.8 367.4 L1847.5 366.6 L1847.9 367.5 L1848.6 366.3 L1849.2 365.2 L1849.7 365.7 L1850.2 367.6 L1850.7 368 L1851.2 368.4 L1851.8 368.7 L1852.4 368.9 L1853.1 369.3 L1853.7 369.2 L1854.3 369.4 L1854.9 367.4 L1855.4 366.6 L1856.1 368.6 L1856.6 368.6 L1857.1 368.9 L1857.6 368 L1858.1 367.7 L1858.6 367.1 L1859.3 368.3 L1860 367.1 L1860.6 367.4 L1861 368.7 L1861.7 367.6 L1862.4 367.1 L1862.8 368 L1863.5 368.2 L1863.9 368.2 L1864.4 367.9 L1864.8 368.1 L1865.3 368.6 L1865.7 368.7 L1866.4 368 L1866.9 367.6 L1867.5 367.5 L1868.1 367.9 L1868.9 367 L1869.3 367.5 L1869.8 367.3 L1870.4 368 L1870.9 369.8 L1871.5 369.2 L1872 368.4 L1872.5 368 L1873.3 368.7 L1873.8 367.3 L1874.3 368.2 L1874.9 369.1 L1875.5 368.2 L1876.2 368.5 L1876.9 368.9 L1877.6 367.2 L1878.2 367.5 L1878.8 368.5 L1879.2 368.7 L1879.7 368.3 L1880.3 368.8 L1881 368 L1881.8 368.5 L1882.3 367.9 L1882.8 367.9 L1883.4 368.2 L1884.1 368.4 L1884.7 367.3 L1885.3 368.4 L1886 368.7 L1886.7 368.2 L1887.2 367.1 L1887.8 366.7 L1888.5 368.4 L1889.1 366.6 L1889.7 368.3 L1890.2 368.4 L1890.9 368.5 L1891.6 369.2 L1892.3 369.8 L1892.9 368.5 L1893.4 369.1 L1893.8 369.8 L1894.4 368.8 L1895.1 367.1 L1895.8 368.3 L1896.2 368.2 L1896.7 368.9 L1897.3 368.6 L1897.8 369.3 L1898.5 368.3 L1899.1 369 L1899.8 367.2 L1900.4 368.5 L1900.9 368.3 L1901.5 368.3 L1902 369.8 L1902.5 369.2 L1903 368.7 L1903.6 367.6 L1904.1 366.7 L1904.6 367 L1905.2 367.7 L1905.8 368.7 L1906.4 367.4 L1907.1 367.4 L1907.7 367.2 L1908.2 367.2 L1908.9 366.9 L1909.4 368 L1910.2 367.8 L1910.9 366.7 L1911.4 365.8 L1912 366.4 L1912.5 368.1 L1912.9 369 L1913.4 369.9 L1914.1 369.9 L1914.8 370.1 L1915.4 370.6 L1915.9 371.3 L1916.4 368.8 L1917.1 368.1 L1917.8 369 L1918.5 369.4 L1919.1 369.9 L1919.6 369.7 L1920.2 370.1 L1920.7 368.8 L1921.1 368.6 L1921.6 368.2 L1922.1 367.9 L1922.8 369 L1923.2 367.1 L1923.7 369.4 L1924.2 369.7 L1924.7 368 L1925.4 369.4 L1925.9 370.4 L1926.5 371.4 L1927.1 370.8 L1927.7 370.4 L1928.3 371.7 L1928.9 371.6 L1929.6 372 L1930 371.7 L1930.7 370 L1931.3 369.9 L1932 369.6 L1932.6 369.8 L1933.1 369.9 L1933.5 369.8 L1934 369.2 L1934.6 369.7 L1935.2 368.8 L1935.7 368.8 L1936.1 368.8 L1936.8 368.8 L1937.4 369.1 L1938.1 369.7 L1938.5 369.6 L1939.1 368.4 L1939.8 367.8 L1940.4 368.8 L1941.1 367.9 L1941.7 369.5 L1942.4 368.5 L1942.8 369 L1943.3 370 L1943.8 370 L1944.2 370.7 L1944.9 370.6 L1945.5 369.6 L1946.1 369.8 L1946.6 369.7 L1947.1 370 L1947.8 370.4 L1948.3 369.4 L1949 368.8 L1949.5 369.5 L1950 368.2 L1950.5 368.6 L1951.1 369.2 L1951.5 369 L1952.1 369 L1952.6 368.9 L1953.1 368 L1953.7 367.8 L1954.4 367.9 L1954.9 366.6 L1955.4 367.9 L1956.1 368.2 L1956.7 369.8 L1957.4 369.6 L1958 368.9 L1958.4 367.2 L1959 366.2 L1959.7 367.1 L1960.4 366.2 L1961 366.3 L1961.6 367.1 L1962.1 367.8 L1962.6 369.1 L1963.2 369.6 L1963.8 368 L1964.4 367.2 L1964.8 367.9 L1965.4 366.7 L1966 367 L1966.6 367.2 L1967.1 368 L1967.8 368.2 L1968.3 367.8 L1968.8 365.6 L1969.4 365.4 L1970 366.5 L1970.6 366.8 L1971.1 366.9 L1971.6 367.1 L1972.2 366.6 L1972.6 367.6 L1973.3 367.7 L1973.9 367.3 L1974.5 366.8 L1975 366.6 L1975.7 367 L1976.2 369 L1976.6 368 L1977.2 368.5 L1977.8 366.1 L1978.3 367.1 L1978.8 369 L1979.4 368.8 L1980.1 368.8 L1980.5 368.5 L1981.2 367 L1981.9 367.2 L1982.4 368.8 L1982.9 368.9 L1983.4 368.1 L1983.9 368.1 L1984.5 368.2 L1985.1 369 L1985.8 368.2 L1986.3 368.8 L1987 367.5 L1987.5 366.8 L1988.2 367.5 L1988.8 366.8 L1989.3 367.6 L1989.7 368.6 L1990.2 368.9 L1991 368.1 L1991.5 368.3 L1992 366.5 L1992.7 368.2 L1993.4 366.6 L1994.1 365.6 L1994.7 366.3 L1995.3 366.5 L1995.9 366.9 L1996.4 366 L1996.8 367 L1997.4 367 L1997.9 366.9 L1998.6 368.4 L1999.1 367.7 L1999.7 367.1 L2000.3 367.6 L2000.8 368.1 L2001.4 367.4 L2002.1 367.6 L2002.9 367.4 L2003.3 367.8 L2003.8 367.7 L2004.3 368.1 L2004.8 366.6 L2005.4 366.6 L2006 366.5 L2006.5 367.8 L2007.1 368.6 L2007.8 368.7 L2008.2 367.4 L2008.9 367.8 L2009.4 368 L2010 368.8 L2010.5 370.1 L2011.2 368.9 L2011.6 369.9 L2012.3 369.5 L2012.9 369.1 L2013.4 368.9 L2014.1 369.5 L2014.8 367.7 L2015.3 368.5 L2015.9 368.9 L2016.6 370 L2017.2 369 L2017.8 368 L2018.3 368.6 L2018.9 368.9 L2019.5 370.7 L2020.1 370.3 L2020.7 370.1 L2021.3 369.9 L2021.9 369.7 L2022.5 369 L2023.1 369.4 L2023.5 369 L2024.2 369.9 L2024.8 370.2 L2025.3 369.2 L2025.8 370.3 L2026.4 369.5 L2026.8 368.2 L2027.3 368.6 L2027.8 368 L2028.3 367 L2028.8 367.5 L2029.4 369 L2029.9 369.5 L2030.5 368.1 L2030.9 369.3 L2031.6 369.1 L2032.1 369.4 L2032.6 370.6 L2033.3 369.5 L2033.8 369.4 L2034.4 368.3 L2034.8 367.1 L2035.4 368.6 L2035.9 370.9 L2036.3 370.9 L2037 370.5 L2037.5 368.7 L2038.6 366.3 L2039.6 363.8 L2040.6 357.8 L2041.6 351.7 L2042.4 347.6 L2043.1 347.2 L2043.6 346.5 L2044.1 346.4 L2045.1 347.6 L2045.7 351.7 L2046.5 347.6 L2047.2 354.1 L2047.9 350.5 L2048.7 347.6 L2049.7 341.5 L2050.2 335.4 L2050.7 331.4 L2051.7 323.3 L2052.8 317.2 L2053.8 311.1 L2054.3 309.1 L2055.3 308.5 L2056.3 308.7 L2057.3 308.7 L2058 313.1 L2058.8 315.2 L2059.7 317.2 L2060.4 321.2 L2061.1 325.7 L2061.9 328.1 L2062.7 331.4 L2063.4 333.4 L2064.1 337.5 L2064.9 343.6 L2065.7 346.8 L2066.5 347.2 L2067 351.7 L2067.8 354.9 L2068.5 355.7 L2069.5 357.8 L2070 357.7 L2070.5 357.3 L2071.5 351.7 L2072 350.5 L2072.5 354.9 L2073.3 359.8 L2074.1 363.8 L2075.1 367.9 L2076.1 366.3 L2077.1 357.8 L2077.6 354.1 L2078.3 357.8 L2079.3 363.8 L2080.4 368.3 L2081.2 359.8 L2081.7 351.7 L2082.2 343.6 L2082.7 331.4 L2083.2 321.2 L2083.7 311.1 L2084.5 306.9 L2085.2 294.4 L2086 294.8 L2086.8 292.7 L2087.4 290.6 L2087.4 280.2 L2087.9 271.8 L2088.1 269 L2088.6 254.7 L2089.3 237.6 L2089.9 230.5 L2090.6 237.6 L2091.4 251.9 L2092.3 269 L2092.6 282.3 L2093.1 289.6 L2093.7 301.1 L2093.9 306.9 L2094.4 323.3 L2094.9 331.4 L2095.6 339.5 L2096.4 347.6 L2096.9 351.7 L2097.4 355.7 L2098.2 359 L2098.9 363.8 L2099.9 365.1 L2100.9 366.3 L2102 367.9 L2103 369.1 L2103.5 369.3 L2104 369.9 L2104.5 369.9 L2106 371.5 L2106.5 371.2 L2107 371.3 L2107.5 370.7 L2108 370.9 L2108.6 370.2 L2109.1 370.2 L2109.6 370.3 L2110.1 370.2 L2110.6 369.5 L2111.1 369.1 L2112.6 367.1 L2113.6 365.5 L2114.1 365.4 L2114.6 364.6 L2115.7 366.3 L2116.2 366.6 L2116.7 367.1 L2117.7 368.3 L2118.2 367.6 L2118.7 367.5 L2119.2 368 L2119.7 368.3 L2120.2 368.1 L2120.7 367.5 L2121.7 365.5 L2122.3 366.3 L2122.3 390 L1437.7 390 Z" fill="#d3d3d3"/><path d="M1437.7 349.6 L1438.4 344.5 L1439 344.8 L1439.4 339.7 L1440 336.8 L1440.3 331 L1441 328.4 L1441.9 324.1 L1442.4 328.4 L1443 332.6 L1443.4 336.8 L1444 337.4 L1444.3 345.8 L1445.2 349.3 L1445.5 354.1 L1446 360.6 L1446.6 365.4 L1447.2 368 L1448 370.6 L1448.6 369.6 L1449.4 370.9 L1450 367.3 L1450.6 372.8 L1451.4 372.2 L1452.6 370.2 L1453.4 368.9 L1454.2 371.5 L1455.5 368 L1456.4 371.8 L1456.9 372.1 L1457.5 372.5 L1458.7 368.3 L1459.9 370.2 L1460.9 374.7 L1461.9 369.6 L1462.7 373.4 L1463.5 367 L1464.7 368.9 L1466.3 363.2 L1467.5 367.7 L1468.1 367.5 L1468.6 367.5 L1469.1 367 L1470.7 369.6 L1472.4 363.2 L1474 367 L1475.6 364.4 L1476.1 364 L1476.6 363.6 L1477.2 363.2 L1478.4 361.5 L1478.8 358.3 L1480 361.2 L1480.8 358.6 L1482 355.8 L1482.8 356.4 L1483.6 353.8 L1484.4 354.5 L1485.2 357 L1486.2 357.7 L1487.2 360.6 L1488.1 358.6 L1488.9 362.5 L1490.1 357.4 L1490.9 362.8 L1491.5 362.4 L1492.1 361.9 L1493.1 364.8 L1494.1 360.6 L1494.7 359.9 L1495.3 359.6 L1496.5 361.5 L1497.7 365.7 L1498.3 366.2 L1498.9 366.7 L1499.7 359.6 L1500.9 364.4 L1502.1 362.5 L1503.7 360.9 L1504.6 364.4 L1505.8 362.8 L1507 368 L1508.2 373.1 L1509 367.7 L1510.2 368.9 L1511.4 370.2 L1512.6 368 L1513.4 364.1 L1514.6 365.4 L1515.8 368.9 L1517.3 365.1 L1518.6 367.7 L1519.8 366.4 L1521.1 369.3 L1522.3 368 L1523.9 370.2 L1524.5 370 L1525.1 369.6 L1525.9 370.9 L1526.9 372.2 L1527.9 366.4 L1528.5 366.4 L1529.1 366 L1530.1 361.9 L1530.7 357.4 L1531.1 349.3 L1531.5 338.1 L1531.9 325.2 L1532.2 299.2 L1532.7 323.6 L1533.1 333.2 L1533.7 344.5 L1534.2 355.8 L1535.1 361.5 L1535.9 363.2 L1536.6 366.4 L1537.4 370.2 L1538 367.7 L1538.6 367.5 L1539.2 368 L1540 370.2 L1540.8 371.8 L1541.6 368.9 L1542.8 370.2 L1543.6 371.5 L1544.8 368.9 L1545.8 370.2 L1547.2 365.4 L1548 370.6 L1549.2 368 L1550.4 366 L1551 366.4 L1551.6 367 L1552.8 368.3 L1553.6 364.4 L1554.5 370.2 L1555.7 367 L1556.3 366.4 L1556.9 366.4 L1557.7 364.4 L1558.5 362.2 L1559.3 359.6 L1560.5 357.4 L1561.3 353.5 L1561.9 353.4 L1562.5 352.9 L1563.3 349.6 L1563.8 350 L1564.4 349.8 L1564.9 350.3 L1565.5 350.3 L1566 350 L1566.6 349.3 L1567.3 348 L1567.8 353.2 L1568.4 349 L1568.9 350.6 L1569.4 349.6 L1570 347.1 L1570.6 343.8 L1571.4 339.3 L1572.2 334.2 L1572.9 331.9 L1573.4 331.9 L1573.7 338.7 L1574.3 338.7 L1574.7 343.2 L1575.3 347.7 L1575.9 349.3 L1576.3 350.6 L1576.7 352.9 L1577.5 354.1 L1578.5 356.1 L1578.8 359.3 L1579.3 361.9 L1579.9 359.3 L1580.7 359 L1581.3 359.3 L1581.9 354.1 L1582.5 352.5 L1583.2 353.8 L1583.9 352.9 L1584.5 355.1 L1585.1 357.4 L1585.9 359.3 L1586.6 358.3 L1587.1 363.2 L1587.9 361.2 L1588.7 362.5 L1589.5 367 L1590.4 362.5 L1591.2 365.7 L1592 363.2 L1592.8 367.7 L1593.6 363.2 L1594.4 361.2 L1595.6 366 L1596.4 359.6 L1597.2 361.2 L1597.8 361 L1598.4 360.6 L1599.6 362.8 L1600.8 364.8 L1602 368.3 L1602.8 368.9 L1603.6 370.6 L1604.4 368.6 L1605.2 368.9 L1606 365.7 L1606.9 369.6 L1607.7 367 L1608.3 367.3 L1608.9 367.3 L1610.1 369.6 L1610.9 366.4 L1611.5 366.1 L1612.1 366.4 L1613.3 364.4 L1613.9 364.4 L1614.5 365.1 L1615.3 359.6 L1616.1 350.9 L1616.9 338.1 L1617.5 328.4 L1617.8 322.7 L1618 303 L1618.2 283.3 L1618.3 269 L1618.5 226.2 L1618.9 140.6 L1619.4 92.1 L1619.7 84.9 L1620 92.1 L1620.6 140.6 L1621 226.2 L1621.2 269 L1621.4 283.3 L1621.7 303 L1621.9 322.7 L1622.5 341.3 L1622.9 349.3 L1623.4 354.1 L1623.8 355.4 L1624.2 350.9 L1624.6 347.7 L1625.5 322.7 L1625.8 303 L1626.1 289.9 L1626.3 282 L1626.6 279.8 L1627 282 L1627.3 284.6 L1627.6 296.4 L1628 309.6 L1628.4 322.7 L1629 338.1 L1629.4 344.5 L1630.2 350.9 L1630.6 354.1 L1631 356.4 L1631.8 358.3 L1632.4 359.3 L1633 357.4 L1633.6 354.1 L1634.2 357.4 L1634.9 355.1 L1635.4 353.8 L1636 355.8 L1636.6 355.1 L1637.3 359 L1638.2 355.4 L1639 359.6 L1639.9 356.4 L1640.7 360.6 L1641.5 361.2 L1642.3 356.4 L1642.9 360.6 L1643.5 363.8 L1644.3 369.6 L1645.1 365.7 L1645.9 370.2 L1646.7 367.3 L1647.5 370.2 L1648.3 368.6 L1648.9 371.8 L1649.5 373.1 L1650.3 370.9 L1651.5 368.6 L1652.3 363.8 L1653.1 359 L1653.5 350.9 L1654.3 341.3 L1654.7 331.6 L1655.1 321.6 L1655.5 331.6 L1655.9 339.7 L1656.6 347.7 L1657.2 353.2 L1657.7 353.5 L1658.2 356.1 L1658.8 349.6 L1659.3 341.3 L1660 331.6 L1660.3 318.1 L1661 314.1 L1661.5 312.7 L1661.9 315.5 L1662.4 321.4 L1662.8 327.7 L1663.3 321.4 L1664.2 316.5 L1664.7 317.7 L1665.5 318.8 L1666 325.2 L1666.8 333.2 L1667.4 338.1 L1667.9 344.5 L1668.4 350.9 L1669 355.8 L1669.6 358.3 L1670.4 359.6 L1670.8 362.5 L1671.2 359.6 L1672 361.9 L1672.9 365.7 L1673.7 361.5 L1674.5 363.8 L1675.3 364.4 L1676.1 363.2 L1676.9 364.4 L1678.1 361.9 L1678.9 365.7 L1679.7 363.2 L1680.5 362.2 L1681.1 362 L1681.7 361.9 L1682.3 361.1 L1682.9 360.9 L1683.5 360.8 L1684.1 361.2 L1684.7 361.2 L1685.3 361.5 L1685.7 358.3 L1686.5 356.4 L1687.3 357.4 L1688.1 354.8 L1689 359 L1689.8 354.1 L1691 355.8 L1691.8 354.1 L1693 349.3 L1693.8 350.9 L1695 347.7 L1695.8 350.9 L1696.6 354.1 L1697.4 355.8 L1697.9 356.4 L1698.5 359 L1699.1 360.6 L1699.7 356.1 L1700.3 357.4 L1701.1 357.7 L1701.9 359.9 L1702.7 361.2 L1703.5 358.6 L1704.3 363.2 L1705.1 361.2 L1705.9 363.2 L1706.7 365.4 L1707.5 364.1 L1708.3 366.4 L1708.8 369.6 L1709.2 365.1 L1709.8 363.8 L1710.4 367.7 L1711.2 369.9 L1712 366.4 L1712.8 370.6 L1713.6 367 L1714.4 368 L1715.2 366.7 L1716 368.9 L1716.8 367 L1717.3 366.2 L1717.8 366 L1718.4 364.4 L1719 362.5 L1719.5 355.8 L1719.8 350.9 L1720.4 350.3 L1721.1 347.7 L1721.6 342.9 L1722.2 338.1 L1722.8 334.7 L1723.5 339.7 L1723.8 344.5 L1724.4 350.9 L1724.8 359 L1725.4 363.2 L1726.1 361.2 L1726.9 363.8 L1727.7 363.2 L1728.5 366.7 L1729.3 366.4 L1730.1 367.7 L1730.9 366 L1731.7 366.7 L1732.3 363.2 L1732.9 365.4 L1733.7 369.6 L1734.5 367.7 L1735.3 370.9 L1736.1 368.6 L1736.9 367.7 L1737.7 369.6 L1738.5 368.3 L1739.3 367 L1740.1 367.7 L1740.9 366.4 L1742.2 369.3 L1743 367 L1743.8 366.4 L1744.6 365.7 L1745.4 367 L1746.2 364.8 L1747.1 363.8 L1747.8 363.2 L1748.6 364.4 L1749.4 361.5 L1750.2 359 L1750.6 356.1 L1751.2 350.9 L1751.7 341.3 L1751.9 322.7 L1752.4 318.7 L1752.7 316.8 L1753 315.9 L1753.3 317.4 L1753.8 321.4 L1754.5 324 L1755.2 322.7 L1755.6 316.1 L1756.1 289.9 L1756.6 269 L1757 260.4 L1757.5 246.2 L1757.9 260.4 L1758.4 269 L1758.8 289.9 L1759.5 322.7 L1760 338.1 L1760.7 347.7 L1761.5 350.9 L1761.9 353.2 L1762.7 354.1 L1763.5 357.4 L1764.3 357.7 L1765.1 358 L1765.9 360.9 L1766.7 358.6 L1767.5 361.2 L1768.3 360.6 L1769.1 359.9 L1769.9 362.5 L1770.7 364.4 L1771.5 362.5 L1772.3 364.1 L1773.1 363.2 L1773.9 362.2 L1774.8 362.8 L1775.6 362.2 L1776.4 363.2 L1777.2 362.2 L1778 362.8 L1778.8 364.4 L1779.6 366.7 L1780.4 364.4 L1781 364.9 L1781.6 365.4 L1782.4 362.5 L1783.2 366.4 L1784 368 L1784.8 365.4 L1785.6 364.8 L1786.4 366.4 L1787.2 367 L1788 365.4 L1788.6 365.8 L1789.2 366.4 L1790.4 368.6 L1791.1 368.4 L1791.7 367.7 L1792.3 368 L1792.9 368.3 L1793.5 368.1 L1794.1 367.7 L1794.7 367.8 L1795.3 368 L1795.9 368.3 L1796.5 368.3 L1797.1 368.1 L1797.7 368 L1798.9 369.9 L1799.5 369.3 L1800.1 368.9 L1800.9 366.7 L1801.7 369.6 L1802.5 368.9 L1803.7 370.2 L1804.9 368.9 L1806.1 370.2 L1807.3 372.2 L1808.6 369.9 L1809.8 371.2 L1810.4 371.1 L1811 370.2 L1812.2 368 L1812.8 368.8 L1813.4 368.9 L1814 369.7 L1814.6 369.9 L1815.2 369.6 L1815.8 368.9 L1816.8 365.7 L1817.8 369.3 L1819 367.7 L1819.6 367.9 L1820.2 368.3 L1820.8 367.8 L1821.4 367.7 L1822.6 370.6 L1823.8 368.3 L1824.5 368.5 L1825.1 368.9 L1826.3 370.2 L1827.5 368 L1828.2 368.3 L1828.8 368.8 L1829.2 367.9 L1829.7 368 L1830.3 369 L1830.7 368.9 L1831.2 367.4 L1831.6 368.5 L1832.1 367.1 L1832.7 366.3 L1833.3 367.5 L1833.9 367.9 L1834.5 368.3 L1835 368.7 L1835.6 369 L1836.3 369.6 L1836.8 368.8 L1837.2 368.5 L1837.7 368.1 L1838.2 367.4 L1838.8 367.2 L1839.5 367.9 L1840.1 368.1 L1840.7 369.2 L1841.4 368.7 L1842.1 367.9 L1842.6 366.9 L1843.1 368.2 L1843.6 369.4 L1844.3 369.1 L1844.9 369.2 L1845.5 368.3 L1846.1 367.5 L1846.8 367.4 L1847.5 366.6 L1847.9 367.5 L1848.6 366.3 L1849.2 365.2 L1849.7 365.7 L1850.2 367.6 L1850.7 368 L1851.2 368.4 L1851.8 368.7 L1852.4 368.9 L1853.1 369.3 L1853.7 369.2 L1854.3 369.4 L1854.9 367.4 L1855.4 366.6 L1856.1 368.6 L1856.6 368.6 L1857.1 368.9 L1857.6 368 L1858.1 367.7 L1858.6 367.1 L1859.3 368.3 L1860 367.1 L1860.6 367.4 L1861 368.7 L1861.7 367.6 L1862.4 367.1 L1862.8 368 L1863.5 368.2 L1863.9 368.2 L1864.4 367.9 L1864.8 368.1 L1865.3 368.6 L1865.7 368.7 L1866.4 368 L1866.9 367.6 L1867.5 367.5 L1868.1 367.9 L1868.9 367 L1869.3 367.5 L1869.8 367.3 L1870.4 368 L1870.9 369.8 L1871.5 369.2 L1872 368.4 L1872.5 368 L1873.3 368.7 L1873.8 367.3 L1874.3 368.2 L1874.9 369.1 L1875.5 368.2 L1876.2 368.5 L1876.9 368.9 L1877.6 367.2 L1878.2 367.5 L1878.8 368.5 L1879.2 368.7 L1879.7 368.3 L1880.3 368.8 L1881 368 L1881.8 368.5 L1882.3 367.9 L1882.8 367.9 L1883.4 368.2 L1884.1 368.4 L1884.7 367.3 L1885.3 368.4 L1886 368.7 L1886.7 368.2 L1887.2 367.1 L1887.8 366.7 L1888.5 368.4 L1889.1 366.6 L1889.7 368.3 L1890.2 368.4 L1890.9 368.5 L1891.6 369.2 L1892.3 369.8 L1892.9 368.5 L1893.4 369.1 L1893.8 369.8 L1894.4 368.8 L1895.1 367.1 L1895.8 368.3 L1896.2 368.2 L1896.7 368.9 L1897.3 368.6 L1897.8 369.3 L1898.5 368.3 L1899.1 369 L1899.8 367.2 L1900.4 368.5 L1900.9 368.3 L1901.5 368.3 L1902 369.8 L1902.5 369.2 L1903 368.7 L1903.6 367.6 L1904.1 366.7 L1904.6 367 L1905.2 367.7 L1905.8 368.7 L1906.4 367.4 L1907.1 367.4 L1907.7 367.2 L1908.2 367.2 L1908.9 366.9 L1909.4 368 L1910.2 367.8 L1910.9 366.7 L1911.4 365.8 L1912 366.4 L1912.5 368.1 L1912.9 369 L1913.4 369.9 L1914.1 369.9 L1914.8 370.1 L1915.4 370.6 L1915.9 371.3 L1916.4 368.8 L1917.1 368.1 L1917.8 369 L1918.5 369.4 L1919.1 369.9 L1919.6 369.7 L1920.2 370.1 L1920.7 368.8 L1921.1 368.6 L1921.6 368.2 L1922.1 367.9 L1922.8 369 L1923.2 367.1 L1923.7 369.4 L1924.2 369.7 L1924.7 368 L1925.4 369.4 L1925.9 370.4 L1926.5 371.4 L1927.1 370.8 L1927.7 370.4 L1928.3 371.7 L1928.9 371.6 L1929.6 372 L1930 371.7 L1930.7 370 L1931.3 369.9 L1932 369.6 L1932.6 369.8 L1933.1 369.9 L1933.5 369.8 L1934 369.2 L1934.6 369.7 L1935.2 368.8 L1935.7 368.8 L1936.1 368.8 L1936.8 368.8 L1937.4 369.1 L1938.1 369.7 L1938.5 369.6 L1939.1 368.4 L1939.8 367.8 L1940.4 368.8 L1941.1 367.9 L1941.7 369.5 L1942.4 368.5 L1942.8 369 L1943.3 370 L1943.8 370 L1944.2 370.7 L1944.9 370.6 L1945.5 369.6 L1946.1 369.8 L1946.6 369.7 L1947.1 370 L1947.8 370.4 L1948.3 369.4 L1949 368.8 L1949.5 369.5 L1950 368.2 L1950.5 368.6 L1951.1 369.2 L1951.5 369 L1952.1 369 L1952.6 368.9 L1953.1 368 L1953.7 367.8 L1954.4 367.9 L1954.9 366.6 L1955.4 367.9 L1956.1 368.2 L1956.7 369.8 L1957.4 369.6 L1958 368.9 L1958.4 367.2 L1959 366.2 L1959.7 367.1 L1960.4 366.2 L1961 366.3 L1961.6 367.1 L1962.1 367.8 L1962.6 369.1 L1963.2 369.6 L1963.8 368 L1964.4 367.2 L1964.8 367.9 L1965.4 366.7 L1966 367 L1966.6 367.2 L1967.1 368 L1967.8 368.2 L1968.3 367.8 L1968.8 365.6 L1969.4 365.4 L1970 366.5 L1970.6 366.8 L1971.1 366.9 L1971.6 367.1 L1972.2 366.6 L1972.6 367.6 L1973.3 367.7 L1973.9 367.3 L1974.5 366.8 L1975 366.6 L1975.7 367 L1976.2 369 L1976.6 368 L1977.2 368.5 L1977.8 366.1 L1978.3 367.1 L1978.8 369 L1979.4 368.8 L1980.1 368.8 L1980.5 368.5 L1981.2 367 L1981.9 367.2 L1982.4 368.8 L1982.9 368.9 L1983.4 368.1 L1983.9 368.1 L1984.5 368.2 L1985.1 369 L1985.8 368.2 L1986.3 368.8 L1987 367.5 L1987.5 366.8 L1988.2 367.5 L1988.8 366.8 L1989.3 367.6 L1989.7 368.6 L1990.2 368.9 L1991 368.1 L1991.5 368.3 L1992 366.5 L1992.7 368.2 L1993.4 366.6 L1994.1 365.6 L1994.7 366.3 L1995.3 366.5 L1995.9 366.9 L1996.4 366 L1996.8 367 L1997.4 367 L1997.9 366.9 L1998.6 368.4 L1999.1 367.7 L1999.7 367.1 L2000.3 367.6 L2000.8 368.1 L2001.4 367.4 L2002.1 367.6 L2002.9 367.4 L2003.3 367.8 L2003.8 367.7 L2004.3 368.1 L2004.8 366.6 L2005.4 366.6 L2006 366.5 L2006.5 367.8 L2007.1 368.6 L2007.8 368.7 L2008.2 367.4 L2008.9 367.8 L2009.4 368 L2010 368.8 L2010.5 370.1 L2011.2 368.9 L2011.6 369.9 L2012.3 369.5 L2012.9 369.1 L2013.4 368.9 L2014.1 369.5 L2014.8 367.7 L2015.3 368.5 L2015.9 368.9 L2016.6 370 L2017.2 369 L2017.8 368 L2018.3 368.6 L2018.9 368.9 L2019.5 370.7 L2020.1 370.3 L2020.7 370.1 L2021.3 369.9 L2021.9 369.7 L2022.5 369 L2023.1 369.4 L2023.5 369 L2024.2 369.9 L2024.8 370.2 L2025.3 369.2 L2025.8 370.3 L2026.4 369.5 L2026.8 368.2 L2027.3 368.6 L2027.8 368 L2028.3 367 L2028.8 367.5 L2029.4 369 L2029.9 369.5 L2030.5 368.1 L2030.9 369.3 L2031.6 369.1 L2032.1 369.4 L2032.6 370.6 L2033.3 369.5 L2033.8 369.4 L2034.4 368.3 L2034.8 367.1 L2035.4 368.6 L2035.9 370.9 L2036.3 370.9 L2037 370.5 L2037.5 368.7 L2038.6 366.3 L2039.6 363.8 L2040.6 357.8 L2041.6 351.7 L2042.4 347.6 L2043.1 347.2 L2043.6 346.5 L2044.1 346.4 L2045.1 347.6 L2045.7 351.7 L2046.5 347.6 L2047.2 354.1 L2047.9 350.5 L2048.7 347.6 L2049.7 341.5 L2050.2 335.4 L2050.7 331.4 L2051.7 323.3 L2052.8 317.2 L2053.8 311.1 L2054.3 309.1 L2055.3 308.5 L2056.3 308.7 L2057.3 308.7 L2058 313.1 L2058.8 315.2 L2059.7 317.2 L2060.4 321.2 L2061.1 325.7 L2061.9 328.1 L2062.7 331.4 L2063.4 333.4 L2064.1 337.5 L2064.9 343.6 L2065.7 346.8 L2066.5 347.2 L2067 351.7 L2067.8 354.9 L2068.5 355.7 L2069.5 357.8 L2070 357.7 L2070.5 357.3 L2071.5 351.7 L2072 350.5 L2072.5 354.9 L2073.3 359.8 L2074.1 363.8 L2075.1 367.9 L2076.1 366.3 L2077.1 357.8 L2077.6 354.1 L2078.3 357.8 L2079.3 363.8 L2080.4 368.3 L2081.2 359.8 L2081.7 351.7 L2082.2 343.6 L2082.7 331.4 L2083.2 321.2 L2083.7 311.1 L2084.5 306.9 L2085.2 294.4 L2086 294.8 L2086.8 292.7 L2087.4 290.6 L2087.4 280.2 L2087.9 271.8 L2088.1 269 L2088.6 254.7 L2089.3 237.6 L2089.9 230.5 L2090.6 237.6 L2091.4 251.9 L2092.3 269 L2092.6 282.3 L2093.1 289.6 L2093.7 301.1 L2093.9 306.9 L2094.4 323.3 L2094.9 331.4 L2095.6 339.5 L2096.4 347.6 L2096.9 351.7 L2097.4 355.7 L2098.2 359 L2098.9 363.8 L2099.9 365.1 L2100.9 366.3 L2102 367.9 L2103 369.1 L2103.5 369.3 L2104 369.9 L2104.5 369.9 L2106 371.5 L2106.5 371.2 L2107 371.3 L2107.5 370.7 L2108 370.9 L2108.6 370.2 L2109.1 370.2 L2109.6 370.3 L2110.1 370.2 L2110.6 369.5 L2111.1 369.1 L2112.6 367.1 L2113.6 365.5 L2114.1 365.4 L2114.6 364.6 L2115.7 366.3 L2116.2 366.6 L2116.7 367.1 L2117.7 368.3 L2118.2 367.6 L2118.7 367.5 L2119.2 368 L2119.7 368.3 L2120.2 368.1 L2120.7 367.5 L2121.7 365.5 L2122.3 366.3" fill="none" stroke="#a0a0a0" stroke-width="1.6" stroke-linejoin="round"/></g>
<line x1="1437.5" y1="83.5" x2="2122.6" y2="83.5" stroke="#0000ff" stroke-width="4.6" stroke-linecap="round"/>
<line x1="1437.5" y1="283.3" x2="2122.6" y2="283.3" stroke="#00ffff" stroke-width="4.6" stroke-linecap="round"/>
<rect x="1749.7" y="79.5" width="51.9" height="8" fill="#fff"/>
<rect x="1884" y="279.3" width="100.3" height="8" fill="#fff"/>
<text transform="translate(1754.1,121.6) scale(1.0474,1.03)" font-size="80" text-anchor="start" fill="#0000ff">3</text>
<text transform="translate(1890.6,310) scale(1.0237,1.03)" font-size="80" text-anchor="start" fill="#00ffff">10</text>
<line x1="1437.5" y1="41" x2="1437.5" y2="383.3" stroke="#000" stroke-width="3" stroke-linecap="butt"/>
<line x1="2122.6" y1="41" x2="2122.6" y2="378.3" stroke="#000" stroke-width="3" stroke-linecap="butt"/>
<line x1="1436" y1="376.8" x2="2124.1" y2="376.8" stroke="#000" stroke-width="3" stroke-linecap="butt"/>
<line x1="1437.3" y1="376.8" x2="1437.3" y2="381.8" stroke="#000" stroke-width="3" stroke-linecap="butt"/>
<line x1="1437.3" y1="41" x2="1437.3" y2="45" stroke="#000" stroke-width="3" stroke-linecap="butt"/>
<line x1="1483" y1="376.8" x2="1483" y2="381.8" stroke="#000" stroke-width="3" stroke-linecap="butt"/>
<line x1="1483" y1="41" x2="1483" y2="45" stroke="#000" stroke-width="3" stroke-linecap="butt"/>
<line x1="1528.7" y1="376.8" x2="1528.7" y2="381.8" stroke="#000" stroke-width="3" stroke-linecap="butt"/>
<line x1="1528.7" y1="41" x2="1528.7" y2="45" stroke="#000" stroke-width="3" stroke-linecap="butt"/>
<line x1="1574.4" y1="376.8" x2="1574.4" y2="381.8" stroke="#000" stroke-width="3" stroke-linecap="butt"/>
<line x1="1574.4" y1="41" x2="1574.4" y2="45" stroke="#000" stroke-width="3" stroke-linecap="butt"/>
<line x1="1620.1" y1="376.8" x2="1620.1" y2="384.3" stroke="#000" stroke-width="3" stroke-linecap="butt"/>
<line x1="1620.1" y1="41" x2="1620.1" y2="47.5" stroke="#000" stroke-width="3" stroke-linecap="butt"/>
<line x1="1665.8" y1="376.8" x2="1665.8" y2="381.8" stroke="#000" stroke-width="3" stroke-linecap="butt"/>
<line x1="1665.8" y1="41" x2="1665.8" y2="45" stroke="#000" stroke-width="3" stroke-linecap="butt"/>
<line x1="1711.5" y1="376.8" x2="1711.5" y2="381.8" stroke="#000" stroke-width="3" stroke-linecap="butt"/>
<line x1="1711.5" y1="41" x2="1711.5" y2="45" stroke="#000" stroke-width="3" stroke-linecap="butt"/>
<line x1="1757.2" y1="376.8" x2="1757.2" y2="381.8" stroke="#000" stroke-width="3" stroke-linecap="butt"/>
<line x1="1757.2" y1="41" x2="1757.2" y2="45" stroke="#000" stroke-width="3" stroke-linecap="butt"/>
<line x1="1802.9" y1="376.8" x2="1802.9" y2="381.8" stroke="#000" stroke-width="3" stroke-linecap="butt"/>
<line x1="1802.9" y1="41" x2="1802.9" y2="45" stroke="#000" stroke-width="3" stroke-linecap="butt"/>
<line x1="1848.7" y1="376.8" x2="1848.7" y2="384.3" stroke="#000" stroke-width="3" stroke-linecap="butt"/>
<line x1="1848.7" y1="41" x2="1848.7" y2="47.5" stroke="#000" stroke-width="3" stroke-linecap="butt"/>
<line x1="1894.4" y1="376.8" x2="1894.4" y2="381.8" stroke="#000" stroke-width="3" stroke-linecap="butt"/>
<line x1="1894.4" y1="41" x2="1894.4" y2="45" stroke="#000" stroke-width="3" stroke-linecap="butt"/>
<line x1="1940.1" y1="376.8" x2="1940.1" y2="381.8" stroke="#000" stroke-width="3" stroke-linecap="butt"/>
<line x1="1940.1" y1="41" x2="1940.1" y2="45" stroke="#000" stroke-width="3" stroke-linecap="butt"/>
<line x1="1985.8" y1="376.8" x2="1985.8" y2="381.8" stroke="#000" stroke-width="3" stroke-linecap="butt"/>
<line x1="1985.8" y1="41" x2="1985.8" y2="45" stroke="#000" stroke-width="3" stroke-linecap="butt"/>
<line x1="2031.5" y1="376.8" x2="2031.5" y2="381.8" stroke="#000" stroke-width="3" stroke-linecap="butt"/>
<line x1="2031.5" y1="41" x2="2031.5" y2="45" stroke="#000" stroke-width="3" stroke-linecap="butt"/>
<line x1="2077.2" y1="376.8" x2="2077.2" y2="384.3" stroke="#000" stroke-width="3" stroke-linecap="butt"/>
<line x1="2077.2" y1="41" x2="2077.2" y2="47.5" stroke="#000" stroke-width="3" stroke-linecap="butt"/>
<line x1="2122.9" y1="376.8" x2="2122.9" y2="381.8" stroke="#000" stroke-width="3" stroke-linecap="butt"/>
<line x1="2122.9" y1="41" x2="2122.9" y2="45" stroke="#000" stroke-width="3" stroke-linecap="butt"/>
<line x1="1429" y1="368.9" x2="1437.5" y2="368.9" stroke="#000" stroke-width="3" stroke-linecap="butt"/>
<line x1="1433" y1="297.5" x2="1437.5" y2="297.5" stroke="#000" stroke-width="3" stroke-linecap="butt"/>
<line x1="1429" y1="226.2" x2="1437.5" y2="226.2" stroke="#000" stroke-width="3" stroke-linecap="butt"/>
<line x1="1433" y1="154.8" x2="1437.5" y2="154.8" stroke="#000" stroke-width="3" stroke-linecap="butt"/>
<line x1="1429" y1="83.5" x2="1437.5" y2="83.5" stroke="#000" stroke-width="3" stroke-linecap="butt"/>
<text transform="translate(1320.2,104.8) scale(0.9422,1.03)" font-size="80" text-anchor="start" fill="#000">1.0</text>
<text transform="translate(1318,247.6) scale(0.9629,1.03)" font-size="80" text-anchor="start" fill="#000">0.5</text>
<text transform="translate(1318,390.3) scale(0.9629,1.03)" font-size="80" text-anchor="start" fill="#000">0.0</text>
<text transform="translate(1535.2,449.9) scale(0.9592,1.03)" font-size="80" text-anchor="start" fill="#000">1000</text>
<text transform="translate(1759.8,449.9) scale(0.9795,1.03)" font-size="80" text-anchor="start" fill="#000">2000</text>
<text transform="translate(1990.7,449.9) scale(0.9593,1.03)" font-size="80" text-anchor="start" fill="#000">3000</text>
<line x1="296" y1="39" x2="296" y2="877.5" stroke="#000" stroke-width="4" stroke-linecap="butt"/>
<line x1="2385" y1="39" x2="2385" y2="877.5" stroke="#000" stroke-width="4" stroke-linecap="butt"/>
<line x1="294" y1="41" x2="2387" y2="41" stroke="#000" stroke-width="4.2" stroke-linecap="butt"/>
<line x1="294" y1="867.5" x2="2387" y2="867.5" stroke="#000" stroke-width="4.8" stroke-linecap="butt"/>
<line x1="296" y1="867.5" x2="296" y2="877.5" stroke="#000" stroke-width="4" stroke-linecap="butt"/>
<line x1="365.6" y1="867.5" x2="365.6" y2="877.5" stroke="#000" stroke-width="4" stroke-linecap="butt"/>
<line x1="435.3" y1="867.5" x2="435.3" y2="877.5" stroke="#000" stroke-width="4" stroke-linecap="butt"/>
<line x1="504.9" y1="867.5" x2="504.9" y2="877.5" stroke="#000" stroke-width="4" stroke-linecap="butt"/>
<line x1="574.5" y1="867.5" x2="574.5" y2="877.5" stroke="#000" stroke-width="4" stroke-linecap="butt"/>
<line x1="644.2" y1="867.5" x2="644.2" y2="877.5" stroke="#000" stroke-width="4" stroke-linecap="butt"/>
<line x1="713.8" y1="867.5" x2="713.8" y2="877.5" stroke="#000" stroke-width="4" stroke-linecap="butt"/>
<line x1="783.4" y1="867.5" x2="783.4" y2="877.5" stroke="#000" stroke-width="4" stroke-linecap="butt"/>
<line x1="853.1" y1="867.5" x2="853.1" y2="885.5" stroke="#000" stroke-width="4" stroke-linecap="butt"/>
<line x1="922.7" y1="867.5" x2="922.7" y2="877.5" stroke="#000" stroke-width="4" stroke-linecap="butt"/>
<line x1="992.3" y1="867.5" x2="992.3" y2="877.5" stroke="#000" stroke-width="4" stroke-linecap="butt"/>
<line x1="1062" y1="867.5" x2="1062" y2="877.5" stroke="#000" stroke-width="4" stroke-linecap="butt"/>
<line x1="1131.6" y1="867.5" x2="1131.6" y2="877.5" stroke="#000" stroke-width="4" stroke-linecap="butt"/>
<line x1="1201.2" y1="867.5" x2="1201.2" y2="877.5" stroke="#000" stroke-width="4" stroke-linecap="butt"/>
<line x1="1270.9" y1="867.5" x2="1270.9" y2="877.5" stroke="#000" stroke-width="4" stroke-linecap="butt"/>
<line x1="1340.5" y1="867.5" x2="1340.5" y2="877.5" stroke="#000" stroke-width="4" stroke-linecap="butt"/>
<line x1="1410.1" y1="867.5" x2="1410.1" y2="877.5" stroke="#000" stroke-width="4" stroke-linecap="butt"/>
<line x1="1479.8" y1="867.5" x2="1479.8" y2="877.5" stroke="#000" stroke-width="4" stroke-linecap="butt"/>
<line x1="1549.4" y1="867.5" x2="1549.4" y2="885.5" stroke="#000" stroke-width="4" stroke-linecap="butt"/>
<line x1="1619" y1="867.5" x2="1619" y2="877.5" stroke="#000" stroke-width="4" stroke-linecap="butt"/>
<line x1="1688.7" y1="867.5" x2="1688.7" y2="877.5" stroke="#000" stroke-width="4" stroke-linecap="butt"/>
<line x1="1758.3" y1="867.5" x2="1758.3" y2="877.5" stroke="#000" stroke-width="4" stroke-linecap="butt"/>
<line x1="1827.9" y1="867.5" x2="1827.9" y2="877.5" stroke="#000" stroke-width="4" stroke-linecap="butt"/>
<line x1="1897.6" y1="867.5" x2="1897.6" y2="877.5" stroke="#000" stroke-width="4" stroke-linecap="butt"/>
<line x1="1967.2" y1="867.5" x2="1967.2" y2="877.5" stroke="#000" stroke-width="4" stroke-linecap="butt"/>
<line x1="2036.8" y1="867.5" x2="2036.8" y2="877.5" stroke="#000" stroke-width="4" stroke-linecap="butt"/>
<line x1="2106.5" y1="867.5" x2="2106.5" y2="877.5" stroke="#000" stroke-width="4" stroke-linecap="butt"/>
<line x1="2176.1" y1="867.5" x2="2176.1" y2="877.5" stroke="#000" stroke-width="4" stroke-linecap="butt"/>
<line x1="2245.7" y1="867.5" x2="2245.7" y2="885.5" stroke="#000" stroke-width="4" stroke-linecap="butt"/>
<line x1="2315.4" y1="867.5" x2="2315.4" y2="877.5" stroke="#000" stroke-width="4" stroke-linecap="butt"/>
<line x1="2385" y1="867.5" x2="2385" y2="877.5" stroke="#000" stroke-width="4" stroke-linecap="butt"/>
<line x1="277" y1="802.2" x2="296" y2="802.2" stroke="#000" stroke-width="4" stroke-linecap="butt"/>
<line x1="285" y1="584.8" x2="296" y2="584.8" stroke="#000" stroke-width="4" stroke-linecap="butt"/>
<line x1="277" y1="367.2" x2="296" y2="367.2" stroke="#000" stroke-width="4" stroke-linecap="butt"/>
<line x1="285" y1="149.8" x2="296" y2="149.8" stroke="#000" stroke-width="4" stroke-linecap="butt"/>
<text transform="translate(155.8,825.7) scale(0.999,1.03)" font-size="80" text-anchor="start" fill="#000">0.0</text>
<text transform="translate(155.9,390.9) scale(0.9981,1.03)" font-size="80" text-anchor="start" fill="#000">0.2</text>
<text transform="translate(765,958.4) scale(1.0024,1.03)" font-size="80" text-anchor="start" fill="#000">1000</text>
<text transform="translate(1456.9,958.9) scale(1.0222,1.03)" font-size="80" text-anchor="start" fill="#000">2000</text>
<text transform="translate(2156,958.9) scale(1.0105,1.03)" font-size="80" text-anchor="start" fill="#000">3000</text>
<text transform="translate(19.9,85) scale(1.0,1.0)" font-size="79" text-anchor="start" fill="#000" font-weight="bold">(a)</text>
<text transform="translate(76,481.3) rotate(-90) scale(1,1.03)" font-size="81.6" text-anchor="middle">intensity (a.u.)</text>
<text transform="translate(1002.2,1101.8) scale(1.0,1.03)" font-size="81.6" text-anchor="start" fill="#000">Raman shift (cm</text>
<text transform="translate(1597.5,1056.9) scale(1.0,1.03)" font-size="49" text-anchor="start" fill="#000">−1</text>
<text transform="translate(1652,1101.8) scale(1.0,1.03)" font-size="81.6" text-anchor="start" fill="#000">)</text>
<line x1="296" y1="1191.5" x2="296" y2="2027.4" stroke="#000" stroke-width="4" stroke-linecap="butt"/>
<line x1="2385" y1="1191.5" x2="2385" y2="2027.4" stroke="#000" stroke-width="4" stroke-linecap="butt"/>
<line x1="294" y1="1193.5" x2="2387" y2="1193.5" stroke="#000" stroke-width="4.7" stroke-linecap="butt"/>
<line x1="294" y1="2025.4" x2="2387" y2="2025.4" stroke="#000" stroke-width="4.7" stroke-linecap="butt"/>
<line x1="392" y1="2025.4" x2="392" y2="2035.4" stroke="#000" stroke-width="4" stroke-linecap="butt"/>
<line x1="520.6" y1="2025.4" x2="520.6" y2="2035.4" stroke="#000" stroke-width="4" stroke-linecap="butt"/>
<line x1="649.3" y1="2025.4" x2="649.3" y2="2035.4" stroke="#000" stroke-width="4" stroke-linecap="butt"/>
<line x1="777.9" y1="2025.4" x2="777.9" y2="2035.4" stroke="#000" stroke-width="4" stroke-linecap="butt"/>
<line x1="906.5" y1="2025.4" x2="906.5" y2="2043.9" stroke="#000" stroke-width="4" stroke-linecap="butt"/>
<line x1="1035.1" y1="2025.4" x2="1035.1" y2="2035.4" stroke="#000" stroke-width="4" stroke-linecap="butt"/>
<line x1="1163.7" y1="2025.4" x2="1163.7" y2="2035.4" stroke="#000" stroke-width="4" stroke-linecap="butt"/>
<line x1="1292.4" y1="2025.4" x2="1292.4" y2="2035.4" stroke="#000" stroke-width="4" stroke-linecap="butt"/>
<line x1="1421" y1="2025.4" x2="1421" y2="2035.4" stroke="#000" stroke-width="4" stroke-linecap="butt"/>
<line x1="1549.6" y1="2025.4" x2="1549.6" y2="2043.9" stroke="#000" stroke-width="4" stroke-linecap="butt"/>
<line x1="1678.2" y1="2025.4" x2="1678.2" y2="2035.4" stroke="#000" stroke-width="4" stroke-linecap="butt"/>
<line x1="1806.9" y1="2025.4" x2="1806.9" y2="2035.4" stroke="#000" stroke-width="4" stroke-linecap="butt"/>
<line x1="1935.5" y1="2025.4" x2="1935.5" y2="2035.4" stroke="#000" stroke-width="4" stroke-linecap="butt"/>
<line x1="2064.1" y1="2025.4" x2="2064.1" y2="2035.4" stroke="#000" stroke-width="4" stroke-linecap="butt"/>
<line x1="2192.7" y1="2025.4" x2="2192.7" y2="2043.9" stroke="#000" stroke-width="4" stroke-linecap="butt"/>
<line x1="2321.3" y1="2025.4" x2="2321.3" y2="2035.4" stroke="#000" stroke-width="4" stroke-linecap="butt"/>
<line x1="277" y1="2002.3" x2="296" y2="2002.3" stroke="#000" stroke-width="4" stroke-linecap="butt"/>
<line x1="285" y1="1771.3" x2="296" y2="1771.3" stroke="#000" stroke-width="4" stroke-linecap="butt"/>
<line x1="277" y1="1540.3" x2="296" y2="1540.3" stroke="#000" stroke-width="4" stroke-linecap="butt"/>
<line x1="285" y1="1309.3" x2="296" y2="1309.3" stroke="#000" stroke-width="4" stroke-linecap="butt"/>
<g clip-path="url(#cb)"><path d="M307 2040.5 L307.2 2032.4 L307.4 2020.9 L307.7 2008 L307.9 1995.7 L308.1 1984.5 L308.2 1973.3 L308.5 1962.2 L308.8 1951 L309.3 1938.6 L310 1925.5 L310.7 1913.9 L311.5 1906.2 L312.3 1903.7 L313.1 1904.8 L313.9 1907.8 L314.6 1910.7 L315.2 1913.9 L315.8 1918.2 L316.3 1922.1 L316.9 1924.1 L317.4 1923.9 L318 1922.2 L318.5 1919.2 L319.1 1915.2 L319.7 1909.2 L320.2 1901.4 L320.8 1893.9 L321.3 1888.3 L321.9 1885 L322.5 1883 L323 1882.5 L323.6 1883.8 L324.1 1887 L324.6 1891.9 L325.2 1898.4 L325.8 1906.2 L326.6 1915.8 L327.5 1927.2 L328.5 1939.3 L329.4 1951 L330.2 1962.2 L331 1973.3 L331.8 1984.5 L332.5 1995.7 L333.1 2007.8 L333.7 2020.3 L334.2 2031.8 L334.8 2040.5 L335.3 2045.7 L335.8 2048.3 L336.4 2049.3 L337 2049.4 L337.7 2048.9 L338.5 2047.2 L339.4 2044.4 L340.1 2040.5 L340.8 2034.9 L341.5 2027.9 L342.2 2020.5 L342.8 2013.6 L343.4 2007.5 L344 2001.6 L344.5 1996.1 L345.1 1991.3 L345.5 1987.3 L346 1984 L346.5 1981 L347.3 1977.8 L348.4 1974.3 L349.8 1970.6 L351.3 1967.1 L352.7 1964.4 L353.9 1962.4 L355.1 1961 L356.2 1960.2 L357.1 1959.9 L357.8 1960.1 L358.3 1960.8 L358.7 1962.1 L359.4 1964.4 L360.3 1968.3 L361.3 1973.5 L362.5 1978.6 L363.9 1982.3 L365.3 1984 L366.9 1984.4 L368.7 1984.3 L370.6 1984.5 L372.8 1985.1 L375.2 1985.7 L377.5 1986.2 L379.5 1986.8 L380.9 1987.3 L381.9 1987.8 L382.8 1988.3 L384 1989 L385.5 1990.1 L387.2 1991.4 L389 1992.6 L390.7 1993.5 L392.3 1993.9 L393.9 1993.9 L395.6 1993.8 L397.4 1993.5 L399.6 1993.2 L401.9 1992.9 L404.2 1992.3 L406.4 1991.3 L408.2 1989.5 L409.7 1987.3 L411.3 1984.9 L413.1 1982.3 L415.3 1979.5 L417.7 1976.3 L420.1 1973.3 L422.1 1971.1 L423.4 1969.8 L424.4 1969.2 L425.4 1968.9 L426.5 1968.9 L428 1969.1 L429.7 1969.7 L431.5 1970.4 L433.2 1971.1 L435 1972.2 L436.9 1973.8 L438.6 1974.5 L440 1973.3 L440.8 1970.4 L441.4 1966.2 L441.7 1960 L442.2 1951 L442.8 1937.1 L443.4 1919.5 L443.9 1901.9 L444.4 1888.3 L444.8 1879.3 L445.1 1873.1 L445.4 1869.4 L445.8 1868.2 L446.2 1869.4 L446.6 1873.1 L447 1879.3 L447.6 1888.3 L448.2 1901.6 L448.8 1918.7 L449.5 1936.2 L450.3 1951 L451 1962.2 L451.7 1971.7 L452.5 1979.7 L453.4 1986.8 L454.4 1992.8 L455.4 1997.7 L456.6 2001.6 L457.9 2004.7 L459.4 2006.8 L461.1 2008 L462.8 2008.4 L464.6 2008.3 L466.3 2007.7 L467.9 2006.6 L469.6 2004.8 L471.3 2002.4 L473 1999.7 L474.6 1996.5 L476.3 1992.3 L478 1986.8 L479.7 1979.5 L481.5 1970.7 L483.2 1961 L484.7 1951 L486 1940.4 L487.1 1929.1 L488.1 1917.6 L489.2 1906.2 L490.3 1895.2 L491.4 1884.4 L492.6 1873.3 L493.7 1861.4 L494.8 1848.7 L495.8 1835.4 L496.9 1821.7 L498.1 1807.7 L499.5 1793.7 L501 1779.5 L502.5 1764.8 L504 1749.5 L505.4 1732.9 L506.7 1715.1 L508.1 1697.8 L509.3 1682.4 L510.5 1669.6 L511.6 1658.6 L512.7 1648.3 L513.8 1637.6 L515.1 1627 L516.4 1616.6 L517.8 1605.6 L519.2 1592.9 L520.6 1577.9 L522 1561.3 L523.5 1543.7 L525 1525.7 L526.7 1506.9 L528.4 1487.1 L530.1 1467.6 L531.7 1449.6 L533.1 1433.8 L534.5 1419.4 L535.7 1405.6 L537.1 1391.4 L538.5 1376.7 L539.9 1361.8 L541.4 1347.2 L542.9 1333.2 L544.5 1319.9 L546.2 1306.9 L547.9 1294.8 L549.6 1284 L551.4 1274.5 L553.1 1266.2 L554.8 1259 L556.3 1252.7 L557.6 1247.3 L558.7 1243 L559.7 1239.6 L560.8 1237 L561.9 1235.3 L563.1 1234.5 L564.2 1234.4 L565.3 1234.8 L566.4 1235.6 L567.5 1237 L568.6 1239 L569.8 1241.5 L570.9 1244.3 L571.9 1247.5 L573 1251.6 L574.2 1257.1 L575.6 1264.3 L577.1 1272.7 L578.6 1282.3 L580.1 1293 L581.5 1305 L582.8 1318.4 L584.2 1332.5 L585.4 1346.7 L586.6 1360.7 L587.7 1374.9 L588.8 1389.6 L589.9 1404.9 L591 1421.4 L592.1 1439 L593.3 1456.3 L594.4 1472 L595.5 1485.8 L596.6 1498.3 L597.7 1510 L598.9 1521.2 L600 1532.2 L601 1542.5 L602.2 1552.3 L603.3 1561.5 L604.7 1570.1 L606.1 1578 L607.5 1585.6 L608.7 1592.9 L609.7 1599.4 L610.6 1605.2 L611.4 1611.5 L612.3 1619.7 L613.3 1630.5 L614.5 1642.9 L615.6 1656.1 L616.8 1669 L617.9 1681.7 L619.1 1694.7 L620.2 1707.1 L621.2 1718.2 L622.2 1727 L623 1734.1 L623.9 1741.2 L624.8 1749.5 L625.9 1759.8 L627.1 1771.1 L628.3 1782.8 L629.3 1794.3 L630.2 1805.7 L631 1817.2 L631.7 1828.5 L632.4 1839.1 L633 1848.2 L633.5 1856.4 L634 1864.9 L634.7 1874.9 L635.5 1887.5 L636.4 1901.7 L637.4 1916 L638.3 1928.6 L639 1939 L639.8 1948.2 L640.5 1956.5 L641.4 1964.4 L642.4 1972 L643.5 1979.1 L644.6 1985.5 L645.9 1991.3 L647.3 1996.3 L648.8 2000.6 L650.3 2004.2 L651.7 2006.9 L652.9 2009 L653.9 2010.4 L655 2010.6 L656.2 2009.2 L657.4 2005.3 L658.7 1999.5 L660.1 1992.9 L661.5 1986.8 L663.1 1981.1 L664.8 1975.3 L666.5 1969.7 L668.2 1964.4 L669.9 1959.6 L671.6 1955.2 L673.3 1950.9 L675 1946.5 L676.6 1941.9 L678.3 1937.3 L680 1932.7 L681.7 1928.6 L683.4 1924.8 L685 1921.3 L686.7 1918.1 L688.4 1915.2 L690.1 1912.6 L691.7 1910.4 L693.4 1908.3 L695.1 1906.2 L696.8 1904.2 L698.5 1902.3 L700.1 1900.1 L701.8 1897.3 L703.5 1893.4 L705.2 1888.9 L706.9 1884 L708.5 1879.3 L710.2 1874.8 L711.9 1870.1 L713.6 1865.6 L715.2 1861.4 L717 1857.5 L718.7 1853.8 L720.4 1850.6 L722 1848 L723.2 1846.3 L724.3 1845.4 L725.4 1844.8 L726.4 1844.4 L727.5 1844.3 L728.5 1844.5 L729.6 1844.7 L730.9 1844.4 L732.4 1843.5 L734.1 1842.2 L735.9 1840.6 L737.6 1839.1 L739.3 1837.6 L741 1836.1 L742.7 1834.4 L744.3 1832.3 L746 1830.1 L747.7 1827.7 L749.4 1824.8 L751.1 1821.2 L752.7 1816.5 L754.4 1810.9 L756.1 1804.9 L757.8 1798.8 L759.4 1792.8 L761.1 1786.7 L762.8 1780 L764.5 1771.9 L766.2 1762 L768 1750.7 L769.7 1738.8 L771.2 1727.2 L772.5 1717 L773.6 1707.6 L774.6 1696.7 L775.7 1682.4 L776.8 1663.7 L777.8 1641.8 L778.9 1617.9 L780 1592.9 L781.1 1566.5 L782.2 1538.3 L783.4 1509.5 L784.5 1481 L785.6 1452.5 L786.8 1423.6 L787.9 1395.5 L789 1369.1 L789.9 1344.6 L790.8 1321.5 L791.7 1299.8 L792.5 1279.5 L793.4 1260 L794.2 1241.5 L795 1225.2 L795.7 1212.4 L796.3 1210.1 L796.8 1215.4 L797.3 1214.5 L797.9 1193.6 L798.5 1149 L799.1 1088.1 L800 1013.6 L801.4 928.1 L803.7 826.8 L806.5 710 L809.6 588.5 L812.6 473.1 L815.6 361.2 L818.7 248.9 L821.6 144.7 L824.1 57.3 L825.9 -8.7 L827.3 -58.7 L828.6 -99.1 L829.8 -136.8 L831.2 -172.4 L832.6 -202.7 L833.9 -228.4 L835.1 -250 L836.1 -267.9 L836.9 -281.7 L837.7 -290.7 L838.5 -293.8 L839.2 -292.8 L840 -287.3 L840.7 -274.2 L841.6 -250 L842.5 -211.7 L843.6 -161.9 L844.7 -105.3 L845.8 -46.7 L846.8 13.1 L847.9 76.3 L848.9 143.4 L849.9 214.4 L850.9 292.3 L851.8 376.1 L852.8 459.8 L853.8 537.8 L854.8 604.3 L856 663.8 L857.1 725.6 L858.4 798.8 L859.9 895.3 L861.5 1007.1 L863 1113.5 L864.2 1193.6 L864.9 1236.2 L865.2 1254.2 L865.5 1263.5 L865.9 1279.5 L866.5 1305.7 L867.2 1333.9 L867.9 1362.8 L868.6 1391.4 L869.4 1418.9 L870.2 1446 L871 1473.8 L871.8 1503.3 L872.5 1536.4 L873.3 1571.9 L874.1 1606.7 L874.9 1637.6 L875.8 1663.2 L876.7 1685.2 L877.6 1705.8 L878.5 1727.2 L879.4 1750.1 L880.2 1773.3 L881.1 1795.9 L882.1 1816.7 L883.1 1835.5 L884.2 1852.8 L885.3 1868.8 L886.5 1883.8 L887.8 1897.8 L889.2 1910.7 L890.5 1922.4 L891.9 1933.1 L893.2 1942.4 L894.6 1950.4 L895.9 1957.6 L897.3 1964.4 L898.7 1970.9 L900.1 1977 L901.6 1982.3 L903.1 1986.8 L904.7 1990.1 L906.3 1992.4 L908 1994.1 L909.8 1995.7 L911.9 1997.4 L914.1 1998.8 L916.5 1999.8 L918.8 2000.2 L921.1 1999.7 L923.4 1998.4 L925.6 1996.9 L927.7 1995.7 L929.6 1994.9 L931.2 1994.2 L932.8 1993.7 L934.4 1993.5 L936.1 1994 L937.7 1995 L939.4 1995.9 L941.1 1995.7 L943.1 1994.5 L945.3 1992.5 L947.3 1989.9 L949.2 1986.8 L950.7 1983 L952 1978.7 L953.2 1973.9 L954.6 1968.9 L956.2 1963.8 L957.9 1958.5 L959.6 1952.8 L961.3 1946.5 L962.8 1939.3 L964.3 1931.4 L965.7 1923.2 L967.1 1915.2 L968.5 1907.5 L969.9 1900 L971.2 1892.3 L972.5 1883.8 L973.7 1874.6 L974.8 1864.8 L975.9 1854.4 L977 1843.5 L978.1 1831.8 L979.2 1819.2 L980.3 1806.5 L981.4 1794.3 L982.6 1783.3 L983.7 1773 L984.8 1762.2 L985.9 1749.5 L987 1734.3 L988.1 1717.4 L989.3 1699.7 L990.4 1682.4 L991.5 1665.6 L992.6 1648.8 L993.7 1632 L994.9 1615.2 L996 1599.4 L997.1 1584.2 L998.2 1567.7 L999.3 1548.1 L1000.5 1523.2 L1001.6 1494.7 L1002.8 1466 L1003.8 1440.7 L1004.8 1420.7 L1005.7 1403.7 L1006.6 1387.4 L1007.4 1369.1 L1008.2 1347.8 L1009 1325.2 L1009.8 1302.1 L1010.5 1279.5 L1011.1 1260.1 L1011.6 1242.5 L1012.1 1221.9 L1012.8 1193.6 L1013.6 1154.4 L1014.5 1107.5 L1015.5 1057.5 L1016.5 1009 L1017.6 960.6 L1018.8 910.8 L1019.9 863.9 L1021 824.2 L1021.8 797 L1022.4 778.6 L1023.1 759.9 L1024.1 731.8 L1025.3 690.4 L1026.8 641.1 L1028.4 588.7 L1029.9 537.8 L1031.3 489.3 L1032.7 440.9 L1034.1 392.4 L1035.5 343.7 L1037 291.3 L1038.5 236.3 L1039.9 186 L1041.2 147.4 L1042.1 124.6 L1042.8 113.2 L1043.5 107.3 L1044.1 101.2 L1044.9 93.9 L1045.6 88.3 L1046.3 84.5 L1047 82.7 L1047.6 83.1 L1048.1 85.6 L1048.7 89.5 L1049.3 94.2 L1049.8 97.1 L1050.3 99.1 L1050.9 105.7 L1051.6 122 L1052.4 149.2 L1053.4 184.8 L1054.4 227.6 L1055.6 276.7 L1056.9 334.5 L1058.3 400.6 L1059.8 470 L1061.2 537.8 L1062.6 603.1 L1064.1 668.4 L1065.5 733.7 L1066.9 798.8 L1068.4 866.5 L1069.8 936 L1071.3 1001.5 L1072.7 1057.5 L1074.1 1101.3 L1075.4 1136.3 L1076.6 1166 L1077.7 1193.6 L1078.4 1218.5 L1078.9 1239.5 L1079.3 1259 L1079.9 1279.5 L1080.7 1301.1 L1081.5 1322.7 L1082.4 1345 L1083.5 1369.1 L1084.7 1396.5 L1086.1 1426.4 L1087.5 1455.6 L1088.9 1481 L1090 1500.9 L1091.2 1517.3 L1092.2 1532.4 L1093.3 1548.1 L1094.5 1565.4 L1095.6 1583.1 L1096.7 1600 L1097.8 1615.2 L1098.9 1628.5 L1100.1 1640.4 L1101.2 1650.9 L1102.3 1660 L1103.4 1666.9 L1104.5 1671.8 L1105.6 1676.4 L1106.8 1682.4 L1107.9 1690.8 L1109 1700.6 L1110.1 1710.2 L1111.2 1718.2 L1112.3 1723.8 L1113.2 1728 L1114.3 1731.7 L1115.7 1736.1 L1117.6 1741.5 L1119.9 1747.3 L1122.3 1753.1 L1124.7 1758.5 L1126.9 1763.3 L1129.1 1767.7 L1131.4 1772 L1133.6 1776.4 L1135.9 1781 L1138.1 1785.6 L1140.3 1790.1 L1142.6 1794.3 L1144.8 1797.9 L1147.1 1801 L1149.3 1804.2 L1151.5 1807.7 L1153.8 1811.8 L1156 1816.1 L1158.2 1820.7 L1160.5 1825.6 L1162.7 1830.8 L1165 1836.3 L1167.2 1842 L1169.4 1848 L1171.7 1854.4 L1173.9 1861.2 L1176.2 1868.1 L1178.4 1874.9 L1180.6 1881.7 L1182.9 1888.6 L1185.1 1895.3 L1187.3 1901.7 L1189.6 1907.6 L1191.8 1913.2 L1194.1 1918.6 L1196.3 1924.1 L1198.5 1929.8 L1200.8 1935.6 L1203 1941.2 L1205.2 1946.5 L1207.5 1951.4 L1209.7 1956 L1212 1960.3 L1214.2 1964.4 L1216.4 1968.1 L1218.7 1971.4 L1220.9 1974.6 L1223.2 1977.8 L1225.4 1981.3 L1227.6 1984.8 L1229.9 1988.2 L1232.1 1991.3 L1234.3 1993.9 L1236.6 1996.1 L1238.8 1998.2 L1241.1 2000.2 L1243.3 2002.1 L1245.5 2004 L1247.8 2005.6 L1250 2006.9 L1252.2 2007.8 L1254.5 2008.3 L1256.7 2008.7 L1259 2009.2 L1261.4 2009.7 L1263.9 2010.2 L1266.2 2010.7 L1267.9 2011.4 L1268.6 2012.4 L1268.6 2014.6 L1270 2015.2 L1273.2 2015.2 L1277.7 2014.8 L1282.6 2014.2 L1287.3 2013.5 L1291.7 2012.7 L1296.3 2011.8 L1300.6 2010.8 L1304.5 2009.5 L1307.8 2007.8 L1310.6 2005.9 L1313.3 2003.9 L1316 2002 L1319 2000 L1322 1998 L1324.9 1996.2 L1327.5 1995.1 L1329.8 1994.7 L1331.7 1995 L1333.7 1995.6 L1336.2 1996.2 L1339.3 1996.9 L1342.8 1997.7 L1346.6 1998.6 L1350.6 1999.7 L1354.7 2001 L1359 2002.6 L1363.4 2004.2 L1367.8 2005.4 L1372.1 2006.3 L1376.4 2006.9 L1380.8 2007.4 L1385.1 2007.7 L1389.3 2007.9 L1393.3 2007.9 L1397.6 2007.8 L1402.3 2007.7 L1407.8 2007.8 L1413.8 2008 L1419.9 2008 L1425.4 2007.7 L1429.9 2007 L1434 2006 L1438 2004.8 L1442.6 2003.7 L1448 2002.6 L1453.8 2001.4 L1459.7 2000.2 L1465.6 1999.1 L1471.5 1998 L1477.5 1996.9 L1483.3 1995.9 L1488.6 1995.1 L1493.4 1994.3 L1497.6 1993.6 L1501.7 1993.1 L1505.9 1992.8 L1510.1 1992.8 L1514.2 1993 L1518.4 1993.4 L1523.2 1993.9 L1528.5 1994.5 L1534.3 1995.3 L1540.3 1996 L1546.2 1996.8 L1551.7 1997.6 L1557 1998.4 L1562.6 1999.2 L1569.2 1999.7 L1577 1999.9 L1585.7 1999.9 L1594.8 1999.8 L1603.7 1999.7 L1612.3 1999.5 L1621 1999.2 L1629.6 1999 L1638.2 1999.1 L1647.1 1999.6 L1656.2 2000.4 L1664.9 2001.2 L1672.8 2002 L1679.1 2002.7 L1684.3 2003.4 L1689.5 2004 L1695.8 2004.3 L1703.6 2004.2 L1712.3 2004 L1721.4 2003.5 L1730.3 2003.1 L1738.9 2002.7 L1747.6 2002.3 L1756.2 2001.8 L1764.8 2001.4 L1773.2 2000.9 L1781.4 2000.4 L1789.9 1999.9 L1799.3 1999.7 L1810 1999.8 L1821.6 2000.1 L1833.6 2000.5 L1845.4 2000.8 L1856.9 2001.2 L1868.4 2001.5 L1879.9 2001.9 L1891.4 2002 L1902.9 2001.8 L1914.4 2001.4 L1925.9 2001 L1937.4 2000.8 L1948.9 2000.9 L1960.4 2001.2 L1972 2001.6 L1983.5 2002 L1995 2002.6 L2006.5 2003.3 L2018 2003.9 L2029.5 2004.3 L2041.3 2004.3 L2053.2 2004.1 L2064.8 2003.7 L2075.5 2003.1 L2085 2002.3 L2093.5 2001.2 L2101.7 2000.2 L2110 1999.7 L2118.7 1999.8 L2127.3 2000.5 L2135.9 2001.3 L2144.6 2002 L2153.2 2002.6 L2161.8 2003.4 L2170.5 2004 L2179.1 2004.3 L2187.7 2004.1 L2196.4 2003.7 L2205 2003.1 L2213.6 2002.6 L2222 2002.1 L2230.2 2001.7 L2238.7 2001.2 L2248.1 2000.8 L2258.8 2000.4 L2270.4 2000.1 L2282.4 1999.8 L2294.2 1999.7 L2305.7 1999.9 L2317.3 2000.3 L2328.8 2000.6 L2340.2 2000.8 L2352.5 2000.7 L2365.5 2000.3 L2377 1999.9 L2385.1 1999.7 L2385.1 2040 L307 2040 Z" fill="#d3d3d3"/><path d="M307 2040.5 L307.2 2032.4 L307.4 2020.9 L307.7 2008 L307.9 1995.7 L308.1 1984.5 L308.2 1973.3 L308.5 1962.2 L308.8 1951 L309.3 1938.6 L310 1925.5 L310.7 1913.9 L311.5 1906.2 L312.3 1903.7 L313.1 1904.8 L313.9 1907.8 L314.6 1910.7 L315.2 1913.9 L315.8 1918.2 L316.3 1922.1 L316.9 1924.1 L317.4 1923.9 L318 1922.2 L318.5 1919.2 L319.1 1915.2 L319.7 1909.2 L320.2 1901.4 L320.8 1893.9 L321.3 1888.3 L321.9 1885 L322.5 1883 L323 1882.5 L323.6 1883.8 L324.1 1887 L324.6 1891.9 L325.2 1898.4 L325.8 1906.2 L326.6 1915.8 L327.5 1927.2 L328.5 1939.3 L329.4 1951 L330.2 1962.2 L331 1973.3 L331.8 1984.5 L332.5 1995.7 L333.1 2007.8 L333.7 2020.3 L334.2 2031.8 L334.8 2040.5 L335.3 2045.7 L335.8 2048.3 L336.4 2049.3 L337 2049.4 L337.7 2048.9 L338.5 2047.2 L339.4 2044.4 L340.1 2040.5 L340.8 2034.9 L341.5 2027.9 L342.2 2020.5 L342.8 2013.6 L343.4 2007.5 L344 2001.6 L344.5 1996.1 L345.1 1991.3 L345.5 1987.3 L346 1984 L346.5 1981 L347.3 1977.8 L348.4 1974.3 L349.8 1970.6 L351.3 1967.1 L352.7 1964.4 L353.9 1962.4 L355.1 1961 L356.2 1960.2 L357.1 1959.9 L357.8 1960.1 L358.3 1960.8 L358.7 1962.1 L359.4 1964.4 L360.3 1968.3 L361.3 1973.5 L362.5 1978.6 L363.9 1982.3 L365.3 1984 L366.9 1984.4 L368.7 1984.3 L370.6 1984.5 L372.8 1985.1 L375.2 1985.7 L377.5 1986.2 L379.5 1986.8 L380.9 1987.3 L381.9 1987.8 L382.8 1988.3 L384 1989 L385.5 1990.1 L387.2 1991.4 L389 1992.6 L390.7 1993.5 L392.3 1993.9 L393.9 1993.9 L395.6 1993.8 L397.4 1993.5 L399.6 1993.2 L401.9 1992.9 L404.2 1992.3 L406.4 1991.3 L408.2 1989.5 L409.7 1987.3 L411.3 1984.9 L413.1 1982.3 L415.3 1979.5 L417.7 1976.3 L420.1 1973.3 L422.1 1971.1 L423.4 1969.8 L424.4 1969.2 L425.4 1968.9 L426.5 1968.9 L428 1969.1 L429.7 1969.7 L431.5 1970.4 L433.2 1971.1 L435 1972.2 L436.9 1973.8 L438.6 1974.5 L440 1973.3 L440.8 1970.4 L441.4 1966.2 L441.7 1960 L442.2 1951 L442.8 1937.1 L443.4 1919.5 L443.9 1901.9 L444.4 1888.3 L444.8 1879.3 L445.1 1873.1 L445.4 1869.4 L445.8 1868.2 L446.2 1869.4 L446.6 1873.1 L447 1879.3 L447.6 1888.3 L448.2 1901.6 L448.8 1918.7 L449.5 1936.2 L450.3 1951 L451 1962.2 L451.7 1971.7 L452.5 1979.7 L453.4 1986.8 L454.4 1992.8 L455.4 1997.7 L456.6 2001.6 L457.9 2004.7 L459.4 2006.8 L461.1 2008 L462.8 2008.4 L464.6 2008.3 L466.3 2007.7 L467.9 2006.6 L469.6 2004.8 L471.3 2002.4 L473 1999.7 L474.6 1996.5 L476.3 1992.3 L478 1986.8 L479.7 1979.5 L481.5 1970.7 L483.2 1961 L484.7 1951 L486 1940.4 L487.1 1929.1 L488.1 1917.6 L489.2 1906.2 L490.3 1895.2 L491.4 1884.4 L492.6 1873.3 L493.7 1861.4 L494.8 1848.7 L495.8 1835.4 L496.9 1821.7 L498.1 1807.7 L499.5 1793.7 L501 1779.5 L502.5 1764.8 L504 1749.5 L505.4 1732.9 L506.7 1715.1 L508.1 1697.8 L509.3 1682.4 L510.5 1669.6 L511.6 1658.6 L512.7 1648.3 L513.8 1637.6 L515.1 1627 L516.4 1616.6 L517.8 1605.6 L519.2 1592.9 L520.6 1577.9 L522 1561.3 L523.5 1543.7 L525 1525.7 L526.7 1506.9 L528.4 1487.1 L530.1 1467.6 L531.7 1449.6 L533.1 1433.8 L534.5 1419.4 L535.7 1405.6 L537.1 1391.4 L538.5 1376.7 L539.9 1361.8 L541.4 1347.2 L542.9 1333.2 L544.5 1319.9 L546.2 1306.9 L547.9 1294.8 L549.6 1284 L551.4 1274.5 L553.1 1266.2 L554.8 1259 L556.3 1252.7 L557.6 1247.3 L558.7 1243 L559.7 1239.6 L560.8 1237 L561.9 1235.3 L563.1 1234.5 L564.2 1234.4 L565.3 1234.8 L566.4 1235.6 L567.5 1237 L568.6 1239 L569.8 1241.5 L570.9 1244.3 L571.9 1247.5 L573 1251.6 L574.2 1257.1 L575.6 1264.3 L577.1 1272.7 L578.6 1282.3 L580.1 1293 L581.5 1305 L582.8 1318.4 L584.2 1332.5 L585.4 1346.7 L586.6 1360.7 L587.7 1374.9 L588.8 1389.6 L589.9 1404.9 L591 1421.4 L592.1 1439 L593.3 1456.3 L594.4 1472 L595.5 1485.8 L596.6 1498.3 L597.7 1510 L598.9 1521.2 L600 1532.2 L601 1542.5 L602.2 1552.3 L603.3 1561.5 L604.7 1570.1 L606.1 1578 L607.5 1585.6 L608.7 1592.9 L609.7 1599.4 L610.6 1605.2 L611.4 1611.5 L612.3 1619.7 L613.3 1630.5 L614.5 1642.9 L615.6 1656.1 L616.8 1669 L617.9 1681.7 L619.1 1694.7 L620.2 1707.1 L621.2 1718.2 L622.2 1727 L623 1734.1 L623.9 1741.2 L624.8 1749.5 L625.9 1759.8 L627.1 1771.1 L628.3 1782.8 L629.3 1794.3 L630.2 1805.7 L631 1817.2 L631.7 1828.5 L632.4 1839.1 L633 1848.2 L633.5 1856.4 L634 1864.9 L634.7 1874.9 L635.5 1887.5 L636.4 1901.7 L637.4 1916 L638.3 1928.6 L639 1939 L639.8 1948.2 L640.5 1956.5 L641.4 1964.4 L642.4 1972 L643.5 1979.1 L644.6 1985.5 L645.9 1991.3 L647.3 1996.3 L648.8 2000.6 L650.3 2004.2 L651.7 2006.9 L652.9 2009 L653.9 2010.4 L655 2010.6 L656.2 2009.2 L657.4 2005.3 L658.7 1999.5 L660.1 1992.9 L661.5 1986.8 L663.1 1981.1 L664.8 1975.3 L666.5 1969.7 L668.2 1964.4 L669.9 1959.6 L671.6 1955.2 L673.3 1950.9 L675 1946.5 L676.6 1941.9 L678.3 1937.3 L680 1932.7 L681.7 1928.6 L683.4 1924.8 L685 1921.3 L686.7 1918.1 L688.4 1915.2 L690.1 1912.6 L691.7 1910.4 L693.4 1908.3 L695.1 1906.2 L696.8 1904.2 L698.5 1902.3 L700.1 1900.1 L701.8 1897.3 L703.5 1893.4 L705.2 1888.9 L706.9 1884 L708.5 1879.3 L710.2 1874.8 L711.9 1870.1 L713.6 1865.6 L715.2 1861.4 L717 1857.5 L718.7 1853.8 L720.4 1850.6 L722 1848 L723.2 1846.3 L724.3 1845.4 L725.4 1844.8 L726.4 1844.4 L727.5 1844.3 L728.5 1844.5 L729.6 1844.7 L730.9 1844.4 L732.4 1843.5 L734.1 1842.2 L735.9 1840.6 L737.6 1839.1 L739.3 1837.6 L741 1836.1 L742.7 1834.4 L744.3 1832.3 L746 1830.1 L747.7 1827.7 L749.4 1824.8 L751.1 1821.2 L752.7 1816.5 L754.4 1810.9 L756.1 1804.9 L757.8 1798.8 L759.4 1792.8 L761.1 1786.7 L762.8 1780 L764.5 1771.9 L766.2 1762 L768 1750.7 L769.7 1738.8 L771.2 1727.2 L772.5 1717 L773.6 1707.6 L774.6 1696.7 L775.7 1682.4 L776.8 1663.7 L777.8 1641.8 L778.9 1617.9 L780 1592.9 L781.1 1566.5 L782.2 1538.3 L783.4 1509.5 L784.5 1481 L785.6 1452.5 L786.8 1423.6 L787.9 1395.5 L789 1369.1 L789.9 1344.6 L790.8 1321.5 L791.7 1299.8 L792.5 1279.5 L793.4 1260 L794.2 1241.5 L795 1225.2 L795.7 1212.4 L796.3 1210.1 L796.8 1215.4 L797.3 1214.5 L797.9 1193.6 L798.5 1149 L799.1 1088.1 L800 1013.6 L801.4 928.1 L803.7 826.8 L806.5 710 L809.6 588.5 L812.6 473.1 L815.6 361.2 L818.7 248.9 L821.6 144.7 L824.1 57.3 L825.9 -8.7 L827.3 -58.7 L828.6 -99.1 L829.8 -136.8 L831.2 -172.4 L832.6 -202.7 L833.9 -228.4 L835.1 -250 L836.1 -267.9 L836.9 -281.7 L837.7 -290.7 L838.5 -293.8 L839.2 -292.8 L840 -287.3 L840.7 -274.2 L841.6 -250 L842.5 -211.7 L843.6 -161.9 L844.7 -105.3 L845.8 -46.7 L846.8 13.1 L847.9 76.3 L848.9 143.4 L849.9 214.4 L850.9 292.3 L851.8 376.1 L852.8 459.8 L853.8 537.8 L854.8 604.3 L856 663.8 L857.1 725.6 L858.4 798.8 L859.9 895.3 L861.5 1007.1 L863 1113.5 L864.2 1193.6 L864.9 1236.2 L865.2 1254.2 L865.5 1263.5 L865.9 1279.5 L866.5 1305.7 L867.2 1333.9 L867.9 1362.8 L868.6 1391.4 L869.4 1418.9 L870.2 1446 L871 1473.8 L871.8 1503.3 L872.5 1536.4 L873.3 1571.9 L874.1 1606.7 L874.9 1637.6 L875.8 1663.2 L876.7 1685.2 L877.6 1705.8 L878.5 1727.2 L879.4 1750.1 L880.2 1773.3 L881.1 1795.9 L882.1 1816.7 L883.1 1835.5 L884.2 1852.8 L885.3 1868.8 L886.5 1883.8 L887.8 1897.8 L889.2 1910.7 L890.5 1922.4 L891.9 1933.1 L893.2 1942.4 L894.6 1950.4 L895.9 1957.6 L897.3 1964.4 L898.7 1970.9 L900.1 1977 L901.6 1982.3 L903.1 1986.8 L904.7 1990.1 L906.3 1992.4 L908 1994.1 L909.8 1995.7 L911.9 1997.4 L914.1 1998.8 L916.5 1999.8 L918.8 2000.2 L921.1 1999.7 L923.4 1998.4 L925.6 1996.9 L927.7 1995.7 L929.6 1994.9 L931.2 1994.2 L932.8 1993.7 L934.4 1993.5 L936.1 1994 L937.7 1995 L939.4 1995.9 L941.1 1995.7 L943.1 1994.5 L945.3 1992.5 L947.3 1989.9 L949.2 1986.8 L950.7 1983 L952 1978.7 L953.2 1973.9 L954.6 1968.9 L956.2 1963.8 L957.9 1958.5 L959.6 1952.8 L961.3 1946.5 L962.8 1939.3 L964.3 1931.4 L965.7 1923.2 L967.1 1915.2 L968.5 1907.5 L969.9 1900 L971.2 1892.3 L972.5 1883.8 L973.7 1874.6 L974.8 1864.8 L975.9 1854.4 L977 1843.5 L978.1 1831.8 L979.2 1819.2 L980.3 1806.5 L981.4 1794.3 L982.6 1783.3 L983.7 1773 L984.8 1762.2 L985.9 1749.5 L987 1734.3 L988.1 1717.4 L989.3 1699.7 L990.4 1682.4 L991.5 1665.6 L992.6 1648.8 L993.7 1632 L994.9 1615.2 L996 1599.4 L997.1 1584.2 L998.2 1567.7 L999.3 1548.1 L1000.5 1523.2 L1001.6 1494.7 L1002.8 1466 L1003.8 1440.7 L1004.8 1420.7 L1005.7 1403.7 L1006.6 1387.4 L1007.4 1369.1 L1008.2 1347.8 L1009 1325.2 L1009.8 1302.1 L1010.5 1279.5 L1011.1 1260.1 L1011.6 1242.5 L1012.1 1221.9 L1012.8 1193.6 L1013.6 1154.4 L1014.5 1107.5 L1015.5 1057.5 L1016.5 1009 L1017.6 960.6 L1018.8 910.8 L1019.9 863.9 L1021 824.2 L1021.8 797 L1022.4 778.6 L1023.1 759.9 L1024.1 731.8 L1025.3 690.4 L1026.8 641.1 L1028.4 588.7 L1029.9 537.8 L1031.3 489.3 L1032.7 440.9 L1034.1 392.4 L1035.5 343.7 L1037 291.3 L1038.5 236.3 L1039.9 186 L1041.2 147.4 L1042.1 124.6 L1042.8 113.2 L1043.5 107.3 L1044.1 101.2 L1044.9 93.9 L1045.6 88.3 L1046.3 84.5 L1047 82.7 L1047.6 83.1 L1048.1 85.6 L1048.7 89.5 L1049.3 94.2 L1049.8 97.1 L1050.3 99.1 L1050.9 105.7 L1051.6 122 L1052.4 149.2 L1053.4 184.8 L1054.4 227.6 L1055.6 276.7 L1056.9 334.5 L1058.3 400.6 L1059.8 470 L1061.2 537.8 L1062.6 603.1 L1064.1 668.4 L1065.5 733.7 L1066.9 798.8 L1068.4 866.5 L1069.8 936 L1071.3 1001.5 L1072.7 1057.5 L1074.1 1101.3 L1075.4 1136.3 L1076.6 1166 L1077.7 1193.6 L1078.4 1218.5 L1078.9 1239.5 L1079.3 1259 L1079.9 1279.5 L1080.7 1301.1 L1081.5 1322.7 L1082.4 1345 L1083.5 1369.1 L1084.7 1396.5 L1086.1 1426.4 L1087.5 1455.6 L1088.9 1481 L1090 1500.9 L1091.2 1517.3 L1092.2 1532.4 L1093.3 1548.1 L1094.5 1565.4 L1095.6 1583.1 L1096.7 1600 L1097.8 1615.2 L1098.9 1628.5 L1100.1 1640.4 L1101.2 1650.9 L1102.3 1660 L1103.4 1666.9 L1104.5 1671.8 L1105.6 1676.4 L1106.8 1682.4 L1107.9 1690.8 L1109 1700.6 L1110.1 1710.2 L1111.2 1718.2 L1112.3 1723.8 L1113.2 1728 L1114.3 1731.7 L1115.7 1736.1 L1117.6 1741.5 L1119.9 1747.3 L1122.3 1753.1 L1124.7 1758.5 L1126.9 1763.3 L1129.1 1767.7 L1131.4 1772 L1133.6 1776.4 L1135.9 1781 L1138.1 1785.6 L1140.3 1790.1 L1142.6 1794.3 L1144.8 1797.9 L1147.1 1801 L1149.3 1804.2 L1151.5 1807.7 L1153.8 1811.8 L1156 1816.1 L1158.2 1820.7 L1160.5 1825.6 L1162.7 1830.8 L1165 1836.3 L1167.2 1842 L1169.4 1848 L1171.7 1854.4 L1173.9 1861.2 L1176.2 1868.1 L1178.4 1874.9 L1180.6 1881.7 L1182.9 1888.6 L1185.1 1895.3 L1187.3 1901.7 L1189.6 1907.6 L1191.8 1913.2 L1194.1 1918.6 L1196.3 1924.1 L1198.5 1929.8 L1200.8 1935.6 L1203 1941.2 L1205.2 1946.5 L1207.5 1951.4 L1209.7 1956 L1212 1960.3 L1214.2 1964.4 L1216.4 1968.1 L1218.7 1971.4 L1220.9 1974.6 L1223.2 1977.8 L1225.4 1981.3 L1227.6 1984.8 L1229.9 1988.2 L1232.1 1991.3 L1234.3 1993.9 L1236.6 1996.1 L1238.8 1998.2 L1241.1 2000.2 L1243.3 2002.1 L1245.5 2004 L1247.8 2005.6 L1250 2006.9 L1252.2 2007.8 L1254.5 2008.3 L1256.7 2008.7 L1259 2009.2 L1261.4 2009.7 L1263.9 2010.2 L1266.2 2010.7 L1267.9 2011.4 L1268.6 2012.4 L1268.6 2014.6 L1270 2015.2 L1273.2 2015.2 L1277.7 2014.8 L1282.6 2014.2 L1287.3 2013.5 L1291.7 2012.7 L1296.3 2011.8 L1300.6 2010.8 L1304.5 2009.5 L1307.8 2007.8 L1310.6 2005.9 L1313.3 2003.9 L1316 2002 L1319 2000 L1322 1998 L1324.9 1996.2 L1327.5 1995.1 L1329.8 1994.7 L1331.7 1995 L1333.7 1995.6 L1336.2 1996.2 L1339.3 1996.9 L1342.8 1997.7 L1346.6 1998.6 L1350.6 1999.7 L1354.7 2001 L1359 2002.6 L1363.4 2004.2 L1367.8 2005.4 L1372.1 2006.3 L1376.4 2006.9 L1380.8 2007.4 L1385.1 2007.7 L1389.3 2007.9 L1393.3 2007.9 L1397.6 2007.8 L1402.3 2007.7 L1407.8 2007.8 L1413.8 2008 L1419.9 2008 L1425.4 2007.7 L1429.9 2007 L1434 2006 L1438 2004.8 L1442.6 2003.7 L1448 2002.6 L1453.8 2001.4 L1459.7 2000.2 L1465.6 1999.1 L1471.5 1998 L1477.5 1996.9 L1483.3 1995.9 L1488.6 1995.1 L1493.4 1994.3 L1497.6 1993.6 L1501.7 1993.1 L1505.9 1992.8 L1510.1 1992.8 L1514.2 1993 L1518.4 1993.4 L1523.2 1993.9 L1528.5 1994.5 L1534.3 1995.3 L1540.3 1996 L1546.2 1996.8 L1551.7 1997.6 L1557 1998.4 L1562.6 1999.2 L1569.2 1999.7 L1577 1999.9 L1585.7 1999.9 L1594.8 1999.8 L1603.7 1999.7 L1612.3 1999.5 L1621 1999.2 L1629.6 1999 L1638.2 1999.1 L1647.1 1999.6 L1656.2 2000.4 L1664.9 2001.2 L1672.8 2002 L1679.1 2002.7 L1684.3 2003.4 L1689.5 2004 L1695.8 2004.3 L1703.6 2004.2 L1712.3 2004 L1721.4 2003.5 L1730.3 2003.1 L1738.9 2002.7 L1747.6 2002.3 L1756.2 2001.8 L1764.8 2001.4 L1773.2 2000.9 L1781.4 2000.4 L1789.9 1999.9 L1799.3 1999.7 L1810 1999.8 L1821.6 2000.1 L1833.6 2000.5 L1845.4 2000.8 L1856.9 2001.2 L1868.4 2001.5 L1879.9 2001.9 L1891.4 2002 L1902.9 2001.8 L1914.4 2001.4 L1925.9 2001 L1937.4 2000.8 L1948.9 2000.9 L1960.4 2001.2 L1972 2001.6 L1983.5 2002 L1995 2002.6 L2006.5 2003.3 L2018 2003.9 L2029.5 2004.3 L2041.3 2004.3 L2053.2 2004.1 L2064.8 2003.7 L2075.5 2003.1 L2085 2002.3 L2093.5 2001.2 L2101.7 2000.2 L2110 1999.7 L2118.7 1999.8 L2127.3 2000.5 L2135.9 2001.3 L2144.6 2002 L2153.2 2002.6 L2161.8 2003.4 L2170.5 2004 L2179.1 2004.3 L2187.7 2004.1 L2196.4 2003.7 L2205 2003.1 L2213.6 2002.6 L2222 2002.1 L2230.2 2001.7 L2238.7 2001.2 L2248.1 2000.8 L2258.8 2000.4 L2270.4 2000.1 L2282.4 1999.8 L2294.2 1999.7 L2305.7 1999.9 L2317.3 2000.3 L2328.8 2000.6 L2340.2 2000.8 L2352.5 2000.7 L2365.5 2000.3 L2377 1999.9 L2385.1 1999.7 L2385.1 2040" fill="none" stroke="#a0a0a0" stroke-width="3.4" stroke-linejoin="round"/></g>
<line x1="296" y1="1309.3" x2="1474" y2="1309.3" stroke="#00ffff" stroke-width="9.8" stroke-linecap="round"/>
<line x1="296" y1="1540.3" x2="1474" y2="1540.3" stroke="#ff00ff" stroke-width="9.8" stroke-linecap="round"/>
<line x1="296" y1="1655.8" x2="1484" y2="1655.8" stroke="#ff8000" stroke-width="9.8" stroke-linecap="round"/>
<line x1="296" y1="1771.3" x2="2385" y2="1771.3" stroke="#00ff00" stroke-width="9.8" stroke-linecap="round"/>
<line x1="296" y1="1863.7" x2="2385" y2="1863.7" stroke="#8000ff" stroke-width="9.8" stroke-linecap="round"/>
<line x1="296" y1="1933" x2="2385" y2="1933" stroke="#ff0000" stroke-width="9.8" stroke-linecap="round"/>
<rect x="1157.3" y="1302.3" width="111.2" height="14" fill="#fff"/>
<rect x="1145.9" y="1533.3" width="110" height="14" fill="#fff"/>
<rect x="1133.9" y="1648.8" width="109.4" height="14" fill="#fff"/>
<rect x="1248.5" y="1764.3" width="103.9" height="14" fill="#fff"/>
<rect x="1460.3" y="1856.7" width="110.8" height="14" fill="#fff"/>
<rect x="1770.7" y="1926" width="218.3" height="14" fill="#fff"/>
<text transform="translate(1171,1332.7) scale(0.9738,1.03)" font-size="80" text-anchor="start" fill="#00ffff">10</text>
<text transform="translate(1159,1554) scale(0.98,1.03)" font-size="80" text-anchor="start" fill="#ff00ff">15</text>
<text transform="translate(1141,1680.8) scale(1.0366,1.03)" font-size="80" text-anchor="start" fill="#ff8000">20</text>
<text transform="translate(1257.8,1803.5) scale(0.9723,1.03)" font-size="80" text-anchor="start" fill="#00ff00">30</text>
<text transform="translate(1471.6,1887.9) scale(0.9964,1.03)" font-size="80" text-anchor="start" fill="#8000ff">50</text>
<text transform="translate(1810.7,1953.8) scale(1.0024,1.03)" font-size="80" text-anchor="start" fill="#ff0000">100</text>
<rect x="1633.5" y="1193.5" width="749.5" height="454.7" fill="#fff"/>
<g clip-path="url(#cbi)"><path d="M1633.2 1636.3 L1633.2 1635 L1633.3 1633.1 L1633.4 1630.9 L1633.5 1628.9 L1633.6 1627.1 L1633.6 1625.2 L1633.7 1623.4 L1633.8 1621.6 L1634 1619.5 L1634.3 1617.4 L1634.6 1615.5 L1634.8 1614.2 L1635.1 1613.8 L1635.4 1614 L1635.7 1614.5 L1636 1614.9 L1636.3 1615.5 L1636.5 1616.2 L1636.7 1616.8 L1636.9 1617.1 L1637.1 1617.1 L1637.3 1616.8 L1637.5 1616.3 L1637.7 1615.7 L1637.9 1614.7 L1638.1 1613.4 L1638.3 1612.2 L1638.5 1611.2 L1638.7 1610.7 L1638.9 1610.4 L1639.2 1610.3 L1639.4 1610.5 L1639.6 1611 L1639.7 1611.8 L1640 1612.9 L1640.2 1614.2 L1640.5 1615.8 L1640.8 1617.6 L1641.2 1619.6 L1641.5 1621.6 L1641.8 1623.4 L1642.1 1625.2 L1642.4 1627.1 L1642.7 1628.9 L1642.9 1630.9 L1643.1 1633 L1643.3 1634.9 L1643.5 1636.3 L1643.7 1637.1 L1643.9 1637.6 L1644.1 1637.7 L1644.4 1637.8 L1644.6 1637.7 L1644.9 1637.4 L1645.3 1636.9 L1645.5 1636.3 L1645.8 1635.4 L1646.1 1634.2 L1646.3 1633 L1646.5 1631.9 L1646.8 1630.9 L1647 1629.9 L1647.2 1629 L1647.4 1628.2 L1647.6 1627.5 L1647.7 1627 L1647.9 1626.5 L1648.2 1626 L1648.6 1625.4 L1649.2 1624.8 L1649.7 1624.2 L1650.2 1623.8 L1650.7 1623.4 L1651.1 1623.2 L1651.5 1623.1 L1651.9 1623 L1652.1 1623.1 L1652.3 1623.2 L1652.5 1623.4 L1652.7 1623.8 L1653.1 1624.4 L1653.5 1625.3 L1653.9 1626.1 L1654.4 1626.7 L1654.9 1627 L1655.5 1627.1 L1656.2 1627 L1656.9 1627.1 L1657.7 1627.2 L1658.6 1627.3 L1659.5 1627.4 L1660.2 1627.4 L1660.8 1627.5 L1661.1 1627.6 L1661.5 1627.7 L1661.9 1627.8 L1662.5 1628 L1663.1 1628.2 L1663.8 1628.4 L1664.4 1628.6 L1665 1628.6 L1665.6 1628.6 L1666.2 1628.6 L1666.9 1628.6 L1667.7 1628.5 L1668.6 1628.5 L1669.5 1628.4 L1670.3 1628.2 L1670.9 1627.9 L1671.5 1627.5 L1672.1 1627.1 L1672.8 1626.7 L1673.6 1626.2 L1674.5 1625.7 L1675.4 1625.2 L1676.1 1624.9 L1676.6 1624.7 L1677 1624.5 L1677.4 1624.5 L1677.8 1624.5 L1678.4 1624.5 L1679 1624.6 L1679.6 1624.8 L1680.3 1624.9 L1681 1625.1 L1681.7 1625.3 L1682.3 1625.4 L1682.8 1625.2 L1683.1 1624.8 L1683.3 1624.1 L1683.5 1623 L1683.6 1621.6 L1683.9 1619.3 L1684.1 1616.4 L1684.3 1613.5 L1684.5 1611.2 L1684.6 1609.8 L1684.7 1608.7 L1684.8 1608.1 L1685 1607.9 L1685.1 1608.1 L1685.3 1608.7 L1685.4 1609.8 L1685.6 1611.2 L1685.9 1613.4 L1686.1 1616.2 L1686.4 1619.1 L1686.6 1621.6 L1686.9 1623.4 L1687.2 1625 L1687.5 1626.3 L1687.8 1627.4 L1688.2 1628.4 L1688.6 1629.3 L1689 1629.9 L1689.5 1630.4 L1690.1 1630.7 L1690.7 1630.9 L1691.3 1631 L1692 1631 L1692.6 1630.9 L1693.2 1630.7 L1693.9 1630.4 L1694.5 1630 L1695.1 1629.6 L1695.8 1629 L1696.4 1628.4 L1697 1627.4 L1697.7 1626.2 L1698.3 1624.8 L1698.9 1623.2 L1699.5 1621.6 L1700 1619.8 L1700.4 1618 L1700.8 1616.1 L1701.2 1614.2 L1701.6 1612.4 L1702 1610.6 L1702.4 1608.8 L1702.9 1606.8 L1703.3 1604.7 L1703.7 1602.5 L1704.1 1600.3 L1704.5 1598 L1705 1595.7 L1705.6 1593.3 L1706.2 1590.9 L1706.7 1588.4 L1707.2 1585.7 L1707.7 1582.8 L1708.2 1579.9 L1708.7 1577.4 L1709.1 1575.3 L1709.5 1573.5 L1709.9 1571.8 L1710.4 1570 L1710.8 1568.3 L1711.3 1566.6 L1711.9 1564.7 L1712.4 1562.6 L1712.9 1560.2 L1713.4 1557.4 L1714 1554.6 L1714.5 1551.6 L1715.2 1548.5 L1715.8 1545.3 L1716.5 1542 L1717.1 1539.1 L1717.6 1536.5 L1718.1 1534.1 L1718.6 1531.8 L1719.1 1529.5 L1719.6 1527.1 L1720.1 1524.6 L1720.7 1522.2 L1721.2 1519.9 L1721.8 1517.7 L1722.5 1515.6 L1723.1 1513.6 L1723.7 1511.8 L1724.4 1510.3 L1725 1508.9 L1725.7 1507.7 L1726.2 1506.7 L1726.7 1505.8 L1727.1 1505.1 L1727.5 1504.5 L1727.9 1504.1 L1728.3 1503.8 L1728.8 1503.7 L1729.2 1503.7 L1729.6 1503.7 L1730 1503.9 L1730.4 1504.1 L1730.8 1504.4 L1731.3 1504.8 L1731.7 1505.3 L1732.1 1505.8 L1732.5 1506.5 L1732.9 1507.4 L1733.4 1508.6 L1734 1510 L1734.6 1511.6 L1735.1 1513.3 L1735.6 1515.3 L1736.1 1517.5 L1736.6 1519.8 L1737.1 1522.1 L1737.5 1524.5 L1738 1526.8 L1738.4 1529.2 L1738.8 1531.7 L1739.2 1534.4 L1739.6 1537.3 L1740 1540.2 L1740.4 1542.8 L1740.9 1545 L1741.3 1547.1 L1741.7 1549 L1742.1 1550.9 L1742.5 1552.7 L1742.9 1554.4 L1743.3 1556 L1743.8 1557.5 L1744.3 1558.9 L1744.8 1560.2 L1745.3 1561.4 L1745.8 1562.6 L1746.2 1563.7 L1746.5 1564.7 L1746.8 1565.7 L1747.1 1567.1 L1747.5 1568.8 L1747.9 1570.9 L1748.4 1573.1 L1748.8 1575.2 L1749.2 1577.3 L1749.7 1579.4 L1750.1 1581.4 L1750.5 1583.3 L1750.8 1584.7 L1751.1 1585.9 L1751.5 1587 L1751.8 1588.4 L1752.2 1590.1 L1752.7 1592 L1753.1 1593.9 L1753.5 1595.8 L1753.8 1597.7 L1754.1 1599.6 L1754.4 1601.4 L1754.6 1603.1 L1754.9 1604.7 L1755.1 1606 L1755.2 1607.4 L1755.5 1609 L1755.8 1611.1 L1756.1 1613.5 L1756.5 1615.8 L1756.8 1617.9 L1757.1 1619.6 L1757.4 1621.1 L1757.7 1622.5 L1758 1623.8 L1758.4 1625 L1758.8 1626.2 L1759.2 1627.2 L1759.7 1628.2 L1760.2 1629 L1760.7 1629.7 L1761.3 1630.3 L1761.8 1630.8 L1762.3 1631.1 L1762.7 1631.3 L1763.1 1631.4 L1763.5 1631.1 L1764 1630.5 L1764.5 1629.5 L1765 1628.5 L1765.5 1627.4 L1766.1 1626.5 L1766.7 1625.6 L1767.4 1624.6 L1768 1623.8 L1768.6 1623 L1769.3 1622.2 L1769.9 1621.5 L1770.5 1620.8 L1771.1 1620.1 L1771.8 1619.3 L1772.4 1618.6 L1773 1617.9 L1773.7 1617.3 L1774.3 1616.7 L1774.9 1616.1 L1775.5 1615.7 L1776.2 1615.2 L1776.8 1614.9 L1777.4 1614.5 L1778 1614.2 L1778.7 1613.9 L1779.3 1613.5 L1779.9 1613.2 L1780.5 1612.7 L1781.2 1612.1 L1781.8 1611.3 L1782.4 1610.5 L1783.1 1609.8 L1783.7 1609 L1784.3 1608.3 L1784.9 1607.5 L1785.6 1606.8 L1786.2 1606.2 L1786.9 1605.6 L1787.5 1605 L1788.1 1604.6 L1788.5 1604.3 L1789 1604.2 L1789.3 1604.1 L1789.7 1604 L1790.1 1604 L1790.5 1604 L1790.9 1604.1 L1791.4 1604 L1792 1603.9 L1792.6 1603.7 L1793.3 1603.4 L1793.9 1603.1 L1794.5 1602.9 L1795.2 1602.7 L1795.8 1602.4 L1796.4 1602 L1797 1601.7 L1797.7 1601.3 L1798.3 1600.8 L1798.9 1600.2 L1799.6 1599.4 L1800.2 1598.5 L1800.8 1597.5 L1801.4 1596.5 L1802.1 1595.5 L1802.7 1594.5 L1803.3 1593.4 L1803.9 1592.1 L1804.6 1590.5 L1805.2 1588.6 L1805.9 1586.6 L1806.4 1584.7 L1806.9 1583.1 L1807.3 1581.5 L1807.7 1579.7 L1808.1 1577.4 L1808.5 1574.3 L1808.9 1570.7 L1809.3 1566.8 L1809.7 1562.6 L1810.1 1558.3 L1810.6 1553.7 L1811 1548.9 L1811.4 1544.2 L1811.8 1539.5 L1812.3 1534.8 L1812.7 1530.2 L1813.1 1525.8 L1813.4 1521.8 L1813.8 1518 L1814.1 1514.4 L1814.4 1511.1 L1814.7 1507.9 L1815 1504.9 L1815.3 1502.2 L1815.6 1500.1 L1815.8 1499.7 L1816 1500.5 L1816.2 1500.4 L1816.4 1497 L1816.6 1489.6 L1816.9 1479.6 L1817.2 1467.4 L1817.7 1453.3 L1818.6 1436.6 L1819.6 1417.4 L1820.8 1397.4 L1821.9 1378.4 L1823 1360 L1824.2 1341.6 L1825.3 1324.4 L1826.2 1310 L1826.9 1299.2 L1827.4 1291 L1827.9 1284.3 L1828.3 1278.1 L1828.9 1272.3 L1829.4 1267.3 L1829.9 1263 L1830.3 1259.5 L1830.7 1256.6 L1831 1254.3 L1831.3 1252.8 L1831.6 1252.3 L1831.8 1252.5 L1832.1 1253.3 L1832.4 1255.5 L1832.7 1259.5 L1833.1 1265.8 L1833.5 1274 L1833.9 1283.3 L1834.3 1292.9 L1834.7 1302.8 L1835.1 1313.2 L1835.4 1324.2 L1835.8 1335.9 L1836.2 1348.7 L1836.5 1362.5 L1836.9 1376.3 L1837.3 1389.1 L1837.7 1400 L1838.1 1409.8 L1838.5 1420 L1839 1432 L1839.5 1447.9 L1840.1 1466.3 L1840.7 1483.8 L1841.1 1497 L1841.4 1504 L1841.5 1506.9 L1841.7 1508.5 L1841.8 1511.1 L1842 1515.4 L1842.3 1520 L1842.5 1524.8 L1842.8 1529.5 L1843.1 1534 L1843.4 1538.5 L1843.7 1543.1 L1844 1547.9 L1844.3 1553.4 L1844.6 1559.2 L1844.8 1564.9 L1845.2 1570 L1845.5 1574.2 L1845.8 1577.8 L1846.2 1581.2 L1846.5 1584.7 L1846.8 1588.5 L1847.1 1592.3 L1847.5 1596 L1847.8 1599.5 L1848.2 1602.6 L1848.6 1605.4 L1849 1608 L1849.5 1610.5 L1850 1612.8 L1850.5 1614.9 L1851 1616.9 L1851.5 1618.6 L1852 1620.1 L1852.5 1621.5 L1853 1622.6 L1853.5 1623.8 L1854 1624.8 L1854.6 1625.8 L1855.1 1626.7 L1855.7 1627.4 L1856.3 1628 L1856.9 1628.4 L1857.5 1628.7 L1858.2 1628.9 L1859 1629.2 L1859.8 1629.4 L1860.7 1629.6 L1861.5 1629.7 L1862.4 1629.6 L1863.2 1629.4 L1864.1 1629.1 L1864.9 1628.9 L1865.6 1628.8 L1866.2 1628.7 L1866.8 1628.6 L1867.4 1628.6 L1868 1628.6 L1868.6 1628.8 L1869.2 1628.9 L1869.9 1628.9 L1870.6 1628.7 L1871.4 1628.4 L1872.2 1628 L1872.9 1627.4 L1873.4 1626.8 L1873.9 1626.1 L1874.4 1625.3 L1874.9 1624.5 L1875.5 1623.7 L1876.1 1622.8 L1876.8 1621.9 L1877.4 1620.8 L1878 1619.6 L1878.5 1618.3 L1879 1617 L1879.6 1615.7 L1880.1 1614.4 L1880.6 1613.2 L1881.1 1611.9 L1881.6 1610.5 L1882 1609 L1882.4 1607.4 L1882.8 1605.7 L1883.2 1603.9 L1883.7 1601.9 L1884.1 1599.9 L1884.5 1597.8 L1884.9 1595.8 L1885.3 1594 L1885.8 1592.3 L1886.2 1590.5 L1886.6 1588.4 L1887 1585.9 L1887.4 1583.1 L1887.8 1580.2 L1888.3 1577.4 L1888.7 1574.6 L1889.1 1571.9 L1889.5 1569.1 L1889.9 1566.3 L1890.3 1563.7 L1890.8 1561.2 L1891.2 1558.5 L1891.6 1555.3 L1892 1551.2 L1892.5 1546.5 L1892.9 1541.8 L1893.3 1537.6 L1893.6 1534.3 L1894 1531.5 L1894.3 1528.8 L1894.6 1525.8 L1894.9 1522.3 L1895.2 1518.6 L1895.5 1514.8 L1895.8 1511.1 L1896 1507.9 L1896.2 1505 L1896.4 1501.6 L1896.6 1497 L1896.9 1490.5 L1897.3 1482.8 L1897.6 1474.6 L1898 1466.6 L1898.4 1458.6 L1898.9 1450.5 L1899.3 1442.7 L1899.7 1436.2 L1900 1431.7 L1900.2 1428.7 L1900.5 1425.6 L1900.8 1421 L1901.3 1414.2 L1901.9 1406.1 L1902.4 1397.5 L1903 1389.1 L1903.5 1381.1 L1904.1 1373.1 L1904.6 1365.2 L1905.1 1357.2 L1905.7 1348.5 L1906.2 1339.5 L1906.8 1331.2 L1907.2 1324.9 L1907.6 1321.1 L1907.8 1319.2 L1908.1 1318.3 L1908.3 1317.3 L1908.6 1316.1 L1908.9 1315.1 L1909.1 1314.5 L1909.4 1314.2 L1909.6 1314.3 L1909.8 1314.7 L1910 1315.3 L1910.2 1316.1 L1910.4 1316.6 L1910.6 1316.9 L1910.8 1318 L1911.1 1320.7 L1911.4 1325.2 L1911.8 1331 L1912.2 1338.1 L1912.6 1346.1 L1913.1 1355.6 L1913.6 1366.5 L1914.2 1377.9 L1914.7 1389.1 L1915.2 1399.8 L1915.8 1410.6 L1916.3 1421.3 L1916.8 1432 L1917.4 1443.2 L1917.9 1454.6 L1918.5 1465.4 L1919 1474.6 L1919.5 1481.8 L1920 1487.5 L1920.5 1492.4 L1920.8 1497 L1921.1 1501.1 L1921.3 1504.5 L1921.5 1507.7 L1921.7 1511.1 L1922 1514.7 L1922.3 1518.2 L1922.6 1521.9 L1923 1525.8 L1923.5 1530.3 L1924 1535.3 L1924.5 1540.1 L1925 1544.2 L1925.5 1547.5 L1925.9 1550.2 L1926.3 1552.7 L1926.7 1555.3 L1927.1 1558.1 L1927.5 1561 L1927.9 1563.8 L1928.4 1566.3 L1928.8 1568.5 L1929.2 1570.5 L1929.6 1572.2 L1930 1573.7 L1930.4 1574.8 L1930.9 1575.6 L1931.3 1576.4 L1931.7 1577.4 L1932.1 1578.8 L1932.5 1580.4 L1933 1581.9 L1933.4 1583.3 L1933.8 1584.2 L1934.1 1584.9 L1934.5 1585.5 L1935 1586.2 L1935.8 1587.1 L1936.6 1588.1 L1937.5 1589 L1938.4 1589.9 L1939.2 1590.7 L1940.1 1591.4 L1940.9 1592.1 L1941.7 1592.8 L1942.6 1593.6 L1943.4 1594.4 L1944.2 1595.1 L1945.1 1595.8 L1945.9 1596.4 L1946.7 1596.9 L1947.6 1597.4 L1948.4 1598 L1949.2 1598.7 L1950.1 1599.4 L1950.9 1600.1 L1951.8 1600.9 L1952.6 1601.8 L1953.4 1602.7 L1954.3 1603.6 L1955.1 1604.6 L1955.9 1605.7 L1956.8 1606.8 L1957.6 1607.9 L1958.4 1609 L1959.3 1610.2 L1960.1 1611.3 L1960.9 1612.4 L1961.8 1613.5 L1962.6 1614.4 L1963.4 1615.3 L1964.3 1616.2 L1965.1 1617.1 L1966 1618.1 L1966.8 1619 L1967.6 1620 L1968.5 1620.8 L1969.3 1621.6 L1970.1 1622.4 L1971 1623.1 L1971.8 1623.8 L1972.6 1624.4 L1973.5 1624.9 L1974.3 1625.4 L1975.1 1626 L1976 1626.5 L1976.8 1627.1 L1977.6 1627.7 L1978.5 1628.2 L1979.3 1628.6 L1980.2 1629 L1981 1629.3 L1981.8 1629.7 L1982.7 1630 L1983.5 1630.3 L1984.3 1630.5 L1985.2 1630.8 L1986 1630.9 L1986.8 1631 L1987.7 1631.1 L1988.5 1631.1 L1989.4 1631.2 L1990.3 1631.3 L1991.2 1631.4 L1991.9 1631.5 L1992.1 1631.7 L1992.1 1632 L1992.6 1632.1 L1993.8 1632.1 L1995.5 1632.1 L1997.3 1632 L1999.1 1631.8 L2000.7 1631.7 L2002.4 1631.6 L2004.1 1631.4 L2005.5 1631.2 L2006.7 1630.9 L2007.8 1630.6 L2008.8 1630.3 L2009.8 1629.9 L2010.9 1629.6 L2012 1629.3 L2013.1 1629 L2014.1 1628.8 L2014.9 1628.8 L2015.7 1628.8 L2016.4 1628.9 L2017.3 1629 L2018.5 1629.1 L2019.8 1629.2 L2021.2 1629.4 L2022.7 1629.6 L2024.2 1629.8 L2025.9 1630.1 L2027.5 1630.3 L2029.1 1630.5 L2030.8 1630.7 L2032.4 1630.8 L2034 1630.8 L2035.6 1630.9 L2037.1 1630.9 L2038.7 1630.9 L2040.3 1630.9 L2042 1630.9 L2044.1 1630.9 L2046.3 1630.9 L2048.6 1630.9 L2050.6 1630.9 L2052.3 1630.8 L2053.8 1630.6 L2055.3 1630.4 L2057.1 1630.2 L2059.1 1630 L2061.2 1629.9 L2063.5 1629.7 L2065.7 1629.5 L2067.8 1629.3 L2070.1 1629.1 L2072.2 1629 L2074.2 1628.8 L2076 1628.7 L2077.6 1628.6 L2079.1 1628.5 L2080.7 1628.4 L2082.2 1628.4 L2083.8 1628.5 L2085.4 1628.5 L2087.1 1628.6 L2089.1 1628.7 L2091.3 1628.8 L2093.5 1629 L2095.7 1629.1 L2097.8 1629.2 L2099.7 1629.4 L2101.9 1629.5 L2104.3 1629.6 L2107.2 1629.6 L2110.5 1629.6 L2113.9 1629.6 L2117.2 1629.6 L2120.4 1629.5 L2123.6 1629.5 L2126.9 1629.5 L2130.1 1629.5 L2133.4 1629.6 L2136.8 1629.7 L2140 1629.8 L2143 1629.9 L2145.3 1630.1 L2147.3 1630.2 L2149.2 1630.3 L2151.6 1630.3 L2154.5 1630.3 L2157.7 1630.3 L2161.1 1630.2 L2164.4 1630.1 L2167.7 1630.1 L2170.9 1630 L2174.1 1629.9 L2177.3 1629.9 L2180.5 1629.8 L2183.5 1629.7 L2186.7 1629.6 L2190.2 1629.6 L2194.2 1629.6 L2198.5 1629.6 L2203 1629.7 L2207.4 1629.8 L2211.7 1629.8 L2216 1629.9 L2220.3 1629.9 L2224.6 1629.9 L2228.9 1629.9 L2233.2 1629.9 L2237.5 1629.8 L2241.8 1629.8 L2246.1 1629.8 L2250.4 1629.8 L2254.6 1629.9 L2258.9 1629.9 L2263.2 1630 L2267.5 1630.2 L2271.8 1630.3 L2276.1 1630.3 L2280.5 1630.3 L2285 1630.3 L2289.3 1630.2 L2293.3 1630.1 L2296.8 1630 L2300 1629.8 L2303.1 1629.7 L2306.2 1629.6 L2309.4 1629.6 L2312.6 1629.7 L2315.9 1629.8 L2319.1 1629.9 L2322.3 1630.1 L2325.5 1630.2 L2328.7 1630.3 L2332 1630.3 L2335.2 1630.3 L2338.4 1630.2 L2341.6 1630.1 L2344.9 1630 L2348 1630 L2351 1629.9 L2354.2 1629.8 L2357.7 1629.8 L2361.7 1629.7 L2366.1 1629.6 L2370.5 1629.6 L2374.9 1629.6 L2379.2 1629.6 L2383.5 1629.7 L2387.8 1629.7 L2392.1 1629.8 L2396.7 1629.7 L2401.5 1629.7 L2405.9 1629.6 L2408.9 1629.6 L2408.9 1660 L1633.2 1660 Z" fill="#d3d3d3"/><path d="M1633.2 1636.3 L1633.2 1635 L1633.3 1633.1 L1633.4 1630.9 L1633.5 1628.9 L1633.6 1627.1 L1633.6 1625.2 L1633.7 1623.4 L1633.8 1621.6 L1634 1619.5 L1634.3 1617.4 L1634.6 1615.5 L1634.8 1614.2 L1635.1 1613.8 L1635.4 1614 L1635.7 1614.5 L1636 1614.9 L1636.3 1615.5 L1636.5 1616.2 L1636.7 1616.8 L1636.9 1617.1 L1637.1 1617.1 L1637.3 1616.8 L1637.5 1616.3 L1637.7 1615.7 L1637.9 1614.7 L1638.1 1613.4 L1638.3 1612.2 L1638.5 1611.2 L1638.7 1610.7 L1638.9 1610.4 L1639.2 1610.3 L1639.4 1610.5 L1639.6 1611 L1639.7 1611.8 L1640 1612.9 L1640.2 1614.2 L1640.5 1615.8 L1640.8 1617.6 L1641.2 1619.6 L1641.5 1621.6 L1641.8 1623.4 L1642.1 1625.2 L1642.4 1627.1 L1642.7 1628.9 L1642.9 1630.9 L1643.1 1633 L1643.3 1634.9 L1643.5 1636.3 L1643.7 1637.1 L1643.9 1637.6 L1644.1 1637.7 L1644.4 1637.8 L1644.6 1637.7 L1644.9 1637.4 L1645.3 1636.9 L1645.5 1636.3 L1645.8 1635.4 L1646.1 1634.2 L1646.3 1633 L1646.5 1631.9 L1646.8 1630.9 L1647 1629.9 L1647.2 1629 L1647.4 1628.2 L1647.6 1627.5 L1647.7 1627 L1647.9 1626.5 L1648.2 1626 L1648.6 1625.4 L1649.2 1624.8 L1649.7 1624.2 L1650.2 1623.8 L1650.7 1623.4 L1651.1 1623.2 L1651.5 1623.1 L1651.9 1623 L1652.1 1623.1 L1652.3 1623.2 L1652.5 1623.4 L1652.7 1623.8 L1653.1 1624.4 L1653.5 1625.3 L1653.9 1626.1 L1654.4 1626.7 L1654.9 1627 L1655.5 1627.1 L1656.2 1627 L1656.9 1627.1 L1657.7 1627.2 L1658.6 1627.3 L1659.5 1627.4 L1660.2 1627.4 L1660.8 1627.5 L1661.1 1627.6 L1661.5 1627.7 L1661.9 1627.8 L1662.5 1628 L1663.1 1628.2 L1663.8 1628.4 L1664.4 1628.6 L1665 1628.6 L1665.6 1628.6 L1666.2 1628.6 L1666.9 1628.6 L1667.7 1628.5 L1668.6 1628.5 L1669.5 1628.4 L1670.3 1628.2 L1670.9 1627.9 L1671.5 1627.5 L1672.1 1627.1 L1672.8 1626.7 L1673.6 1626.2 L1674.5 1625.7 L1675.4 1625.2 L1676.1 1624.9 L1676.6 1624.7 L1677 1624.5 L1677.4 1624.5 L1677.8 1624.5 L1678.4 1624.5 L1679 1624.6 L1679.6 1624.8 L1680.3 1624.9 L1681 1625.1 L1681.7 1625.3 L1682.3 1625.4 L1682.8 1625.2 L1683.1 1624.8 L1683.3 1624.1 L1683.5 1623 L1683.6 1621.6 L1683.9 1619.3 L1684.1 1616.4 L1684.3 1613.5 L1684.5 1611.2 L1684.6 1609.8 L1684.7 1608.7 L1684.8 1608.1 L1685 1607.9 L1685.1 1608.1 L1685.3 1608.7 L1685.4 1609.8 L1685.6 1611.2 L1685.9 1613.4 L1686.1 1616.2 L1686.4 1619.1 L1686.6 1621.6 L1686.9 1623.4 L1687.2 1625 L1687.5 1626.3 L1687.8 1627.4 L1688.2 1628.4 L1688.6 1629.3 L1689 1629.9 L1689.5 1630.4 L1690.1 1630.7 L1690.7 1630.9 L1691.3 1631 L1692 1631 L1692.6 1630.9 L1693.2 1630.7 L1693.9 1630.4 L1694.5 1630 L1695.1 1629.6 L1695.8 1629 L1696.4 1628.4 L1697 1627.4 L1697.7 1626.2 L1698.3 1624.8 L1698.9 1623.2 L1699.5 1621.6 L1700 1619.8 L1700.4 1618 L1700.8 1616.1 L1701.2 1614.2 L1701.6 1612.4 L1702 1610.6 L1702.4 1608.8 L1702.9 1606.8 L1703.3 1604.7 L1703.7 1602.5 L1704.1 1600.3 L1704.5 1598 L1705 1595.7 L1705.6 1593.3 L1706.2 1590.9 L1706.7 1588.4 L1707.2 1585.7 L1707.7 1582.8 L1708.2 1579.9 L1708.7 1577.4 L1709.1 1575.3 L1709.5 1573.5 L1709.9 1571.8 L1710.4 1570 L1710.8 1568.3 L1711.3 1566.6 L1711.9 1564.7 L1712.4 1562.6 L1712.9 1560.2 L1713.4 1557.4 L1714 1554.6 L1714.5 1551.6 L1715.2 1548.5 L1715.8 1545.3 L1716.5 1542 L1717.1 1539.1 L1717.6 1536.5 L1718.1 1534.1 L1718.6 1531.8 L1719.1 1529.5 L1719.6 1527.1 L1720.1 1524.6 L1720.7 1522.2 L1721.2 1519.9 L1721.8 1517.7 L1722.5 1515.6 L1723.1 1513.6 L1723.7 1511.8 L1724.4 1510.3 L1725 1508.9 L1725.7 1507.7 L1726.2 1506.7 L1726.7 1505.8 L1727.1 1505.1 L1727.5 1504.5 L1727.9 1504.1 L1728.3 1503.8 L1728.8 1503.7 L1729.2 1503.7 L1729.6 1503.7 L1730 1503.9 L1730.4 1504.1 L1730.8 1504.4 L1731.3 1504.8 L1731.7 1505.3 L1732.1 1505.8 L1732.5 1506.5 L1732.9 1507.4 L1733.4 1508.6 L1734 1510 L1734.6 1511.6 L1735.1 1513.3 L1735.6 1515.3 L1736.1 1517.5 L1736.6 1519.8 L1737.1 1522.1 L1737.5 1524.5 L1738 1526.8 L1738.4 1529.2 L1738.8 1531.7 L1739.2 1534.4 L1739.6 1537.3 L1740 1540.2 L1740.4 1542.8 L1740.9 1545 L1741.3 1547.1 L1741.7 1549 L1742.1 1550.9 L1742.5 1552.7 L1742.9 1554.4 L1743.3 1556 L1743.8 1557.5 L1744.3 1558.9 L1744.8 1560.2 L1745.3 1561.4 L1745.8 1562.6 L1746.2 1563.7 L1746.5 1564.7 L1746.8 1565.7 L1747.1 1567.1 L1747.5 1568.8 L1747.9 1570.9 L1748.4 1573.1 L1748.8 1575.2 L1749.2 1577.3 L1749.7 1579.4 L1750.1 1581.4 L1750.5 1583.3 L1750.8 1584.7 L1751.1 1585.9 L1751.5 1587 L1751.8 1588.4 L1752.2 1590.1 L1752.7 1592 L1753.1 1593.9 L1753.5 1595.8 L1753.8 1597.7 L1754.1 1599.6 L1754.4 1601.4 L1754.6 1603.1 L1754.9 1604.7 L1755.1 1606 L1755.2 1607.4 L1755.5 1609 L1755.8 1611.1 L1756.1 1613.5 L1756.5 1615.8 L1756.8 1617.9 L1757.1 1619.6 L1757.4 1621.1 L1757.7 1622.5 L1758 1623.8 L1758.4 1625 L1758.8 1626.2 L1759.2 1627.2 L1759.7 1628.2 L1760.2 1629 L1760.7 1629.7 L1761.3 1630.3 L1761.8 1630.8 L1762.3 1631.1 L1762.7 1631.3 L1763.1 1631.4 L1763.5 1631.1 L1764 1630.5 L1764.5 1629.5 L1765 1628.5 L1765.5 1627.4 L1766.1 1626.5 L1766.7 1625.6 L1767.4 1624.6 L1768 1623.8 L1768.6 1623 L1769.3 1622.2 L1769.9 1621.5 L1770.5 1620.8 L1771.1 1620.1 L1771.8 1619.3 L1772.4 1618.6 L1773 1617.9 L1773.7 1617.3 L1774.3 1616.7 L1774.9 1616.1 L1775.5 1615.7 L1776.2 1615.2 L1776.8 1614.9 L1777.4 1614.5 L1778 1614.2 L1778.7 1613.9 L1779.3 1613.5 L1779.9 1613.2 L1780.5 1612.7 L1781.2 1612.1 L1781.8 1611.3 L1782.4 1610.5 L1783.1 1609.8 L1783.7 1609 L1784.3 1608.3 L1784.9 1607.5 L1785.6 1606.8 L1786.2 1606.2 L1786.9 1605.6 L1787.5 1605 L1788.1 1604.6 L1788.5 1604.3 L1789 1604.2 L1789.3 1604.1 L1789.7 1604 L1790.1 1604 L1790.5 1604 L1790.9 1604.1 L1791.4 1604 L1792 1603.9 L1792.6 1603.7 L1793.3 1603.4 L1793.9 1603.1 L1794.5 1602.9 L1795.2 1602.7 L1795.8 1602.4 L1796.4 1602 L1797 1601.7 L1797.7 1601.3 L1798.3 1600.8 L1798.9 1600.2 L1799.6 1599.4 L1800.2 1598.5 L1800.8 1597.5 L1801.4 1596.5 L1802.1 1595.5 L1802.7 1594.5 L1803.3 1593.4 L1803.9 1592.1 L1804.6 1590.5 L1805.2 1588.6 L1805.9 1586.6 L1806.4 1584.7 L1806.9 1583.1 L1807.3 1581.5 L1807.7 1579.7 L1808.1 1577.4 L1808.5 1574.3 L1808.9 1570.7 L1809.3 1566.8 L1809.7 1562.6 L1810.1 1558.3 L1810.6 1553.7 L1811 1548.9 L1811.4 1544.2 L1811.8 1539.5 L1812.3 1534.8 L1812.7 1530.2 L1813.1 1525.8 L1813.4 1521.8 L1813.8 1518 L1814.1 1514.4 L1814.4 1511.1 L1814.7 1507.9 L1815 1504.9 L1815.3 1502.2 L1815.6 1500.1 L1815.8 1499.7 L1816 1500.5 L1816.2 1500.4 L1816.4 1497 L1816.6 1489.6 L1816.9 1479.6 L1817.2 1467.4 L1817.7 1453.3 L1818.6 1436.6 L1819.6 1417.4 L1820.8 1397.4 L1821.9 1378.4 L1823 1360 L1824.2 1341.6 L1825.3 1324.4 L1826.2 1310 L1826.9 1299.2 L1827.4 1291 L1827.9 1284.3 L1828.3 1278.1 L1828.9 1272.3 L1829.4 1267.3 L1829.9 1263 L1830.3 1259.5 L1830.7 1256.6 L1831 1254.3 L1831.3 1252.8 L1831.6 1252.3 L1831.8 1252.5 L1832.1 1253.3 L1832.4 1255.5 L1832.7 1259.5 L1833.1 1265.8 L1833.5 1274 L1833.9 1283.3 L1834.3 1292.9 L1834.7 1302.8 L1835.1 1313.2 L1835.4 1324.2 L1835.8 1335.9 L1836.2 1348.7 L1836.5 1362.5 L1836.9 1376.3 L1837.3 1389.1 L1837.7 1400 L1838.1 1409.8 L1838.5 1420 L1839 1432 L1839.5 1447.9 L1840.1 1466.3 L1840.7 1483.8 L1841.1 1497 L1841.4 1504 L1841.5 1506.9 L1841.7 1508.5 L1841.8 1511.1 L1842 1515.4 L1842.3 1520 L1842.5 1524.8 L1842.8 1529.5 L1843.1 1534 L1843.4 1538.5 L1843.7 1543.1 L1844 1547.9 L1844.3 1553.4 L1844.6 1559.2 L1844.8 1564.9 L1845.2 1570 L1845.5 1574.2 L1845.8 1577.8 L1846.2 1581.2 L1846.5 1584.7 L1846.8 1588.5 L1847.1 1592.3 L1847.5 1596 L1847.8 1599.5 L1848.2 1602.6 L1848.6 1605.4 L1849 1608 L1849.5 1610.5 L1850 1612.8 L1850.5 1614.9 L1851 1616.9 L1851.5 1618.6 L1852 1620.1 L1852.5 1621.5 L1853 1622.6 L1853.5 1623.8 L1854 1624.8 L1854.6 1625.8 L1855.1 1626.7 L1855.7 1627.4 L1856.3 1628 L1856.9 1628.4 L1857.5 1628.7 L1858.2 1628.9 L1859 1629.2 L1859.8 1629.4 L1860.7 1629.6 L1861.5 1629.7 L1862.4 1629.6 L1863.2 1629.4 L1864.1 1629.1 L1864.9 1628.9 L1865.6 1628.8 L1866.2 1628.7 L1866.8 1628.6 L1867.4 1628.6 L1868 1628.6 L1868.6 1628.8 L1869.2 1628.9 L1869.9 1628.9 L1870.6 1628.7 L1871.4 1628.4 L1872.2 1628 L1872.9 1627.4 L1873.4 1626.8 L1873.9 1626.1 L1874.4 1625.3 L1874.9 1624.5 L1875.5 1623.7 L1876.1 1622.8 L1876.8 1621.9 L1877.4 1620.8 L1878 1619.6 L1878.5 1618.3 L1879 1617 L1879.6 1615.7 L1880.1 1614.4 L1880.6 1613.2 L1881.1 1611.9 L1881.6 1610.5 L1882 1609 L1882.4 1607.4 L1882.8 1605.7 L1883.2 1603.9 L1883.7 1601.9 L1884.1 1599.9 L1884.5 1597.8 L1884.9 1595.8 L1885.3 1594 L1885.8 1592.3 L1886.2 1590.5 L1886.6 1588.4 L1887 1585.9 L1887.4 1583.1 L1887.8 1580.2 L1888.3 1577.4 L1888.7 1574.6 L1889.1 1571.9 L1889.5 1569.1 L1889.9 1566.3 L1890.3 1563.7 L1890.8 1561.2 L1891.2 1558.5 L1891.6 1555.3 L1892 1551.2 L1892.5 1546.5 L1892.9 1541.8 L1893.3 1537.6 L1893.6 1534.3 L1894 1531.5 L1894.3 1528.8 L1894.6 1525.8 L1894.9 1522.3 L1895.2 1518.6 L1895.5 1514.8 L1895.8 1511.1 L1896 1507.9 L1896.2 1505 L1896.4 1501.6 L1896.6 1497 L1896.9 1490.5 L1897.3 1482.8 L1897.6 1474.6 L1898 1466.6 L1898.4 1458.6 L1898.9 1450.5 L1899.3 1442.7 L1899.7 1436.2 L1900 1431.7 L1900.2 1428.7 L1900.5 1425.6 L1900.8 1421 L1901.3 1414.2 L1901.9 1406.1 L1902.4 1397.5 L1903 1389.1 L1903.5 1381.1 L1904.1 1373.1 L1904.6 1365.2 L1905.1 1357.2 L1905.7 1348.5 L1906.2 1339.5 L1906.8 1331.2 L1907.2 1324.9 L1907.6 1321.1 L1907.8 1319.2 L1908.1 1318.3 L1908.3 1317.3 L1908.6 1316.1 L1908.9 1315.1 L1909.1 1314.5 L1909.4 1314.2 L1909.6 1314.3 L1909.8 1314.7 L1910 1315.3 L1910.2 1316.1 L1910.4 1316.6 L1910.6 1316.9 L1910.8 1318 L1911.1 1320.7 L1911.4 1325.2 L1911.8 1331 L1912.2 1338.1 L1912.6 1346.1 L1913.1 1355.6 L1913.6 1366.5 L1914.2 1377.9 L1914.7 1389.1 L1915.2 1399.8 L1915.8 1410.6 L1916.3 1421.3 L1916.8 1432 L1917.4 1443.2 L1917.9 1454.6 L1918.5 1465.4 L1919 1474.6 L1919.5 1481.8 L1920 1487.5 L1920.5 1492.4 L1920.8 1497 L1921.1 1501.1 L1921.3 1504.5 L1921.5 1507.7 L1921.7 1511.1 L1922 1514.7 L1922.3 1518.2 L1922.6 1521.9 L1923 1525.8 L1923.5 1530.3 L1924 1535.3 L1924.5 1540.1 L1925 1544.2 L1925.5 1547.5 L1925.9 1550.2 L1926.3 1552.7 L1926.7 1555.3 L1927.1 1558.1 L1927.5 1561 L1927.9 1563.8 L1928.4 1566.3 L1928.8 1568.5 L1929.2 1570.5 L1929.6 1572.2 L1930 1573.7 L1930.4 1574.8 L1930.9 1575.6 L1931.3 1576.4 L1931.7 1577.4 L1932.1 1578.8 L1932.5 1580.4 L1933 1581.9 L1933.4 1583.3 L1933.8 1584.2 L1934.1 1584.9 L1934.5 1585.5 L1935 1586.2 L1935.8 1587.1 L1936.6 1588.1 L1937.5 1589 L1938.4 1589.9 L1939.2 1590.7 L1940.1 1591.4 L1940.9 1592.1 L1941.7 1592.8 L1942.6 1593.6 L1943.4 1594.4 L1944.2 1595.1 L1945.1 1595.8 L1945.9 1596.4 L1946.7 1596.9 L1947.6 1597.4 L1948.4 1598 L1949.2 1598.7 L1950.1 1599.4 L1950.9 1600.1 L1951.8 1600.9 L1952.6 1601.8 L1953.4 1602.7 L1954.3 1603.6 L1955.1 1604.6 L1955.9 1605.7 L1956.8 1606.8 L1957.6 1607.9 L1958.4 1609 L1959.3 1610.2 L1960.1 1611.3 L1960.9 1612.4 L1961.8 1613.5 L1962.6 1614.4 L1963.4 1615.3 L1964.3 1616.2 L1965.1 1617.1 L1966 1618.1 L1966.8 1619 L1967.6 1620 L1968.5 1620.8 L1969.3 1621.6 L1970.1 1622.4 L1971 1623.1 L1971.8 1623.8 L1972.6 1624.4 L1973.5 1624.9 L1974.3 1625.4 L1975.1 1626 L1976 1626.5 L1976.8 1627.1 L1977.6 1627.7 L1978.5 1628.2 L1979.3 1628.6 L1980.2 1629 L1981 1629.3 L1981.8 1629.7 L1982.7 1630 L1983.5 1630.3 L1984.3 1630.5 L1985.2 1630.8 L1986 1630.9 L1986.8 1631 L1987.7 1631.1 L1988.5 1631.1 L1989.4 1631.2 L1990.3 1631.3 L1991.2 1631.4 L1991.9 1631.5 L1992.1 1631.7 L1992.1 1632 L1992.6 1632.1 L1993.8 1632.1 L1995.5 1632.1 L1997.3 1632 L1999.1 1631.8 L2000.7 1631.7 L2002.4 1631.6 L2004.1 1631.4 L2005.5 1631.2 L2006.7 1630.9 L2007.8 1630.6 L2008.8 1630.3 L2009.8 1629.9 L2010.9 1629.6 L2012 1629.3 L2013.1 1629 L2014.1 1628.8 L2014.9 1628.8 L2015.7 1628.8 L2016.4 1628.9 L2017.3 1629 L2018.5 1629.1 L2019.8 1629.2 L2021.2 1629.4 L2022.7 1629.6 L2024.2 1629.8 L2025.9 1630.1 L2027.5 1630.3 L2029.1 1630.5 L2030.8 1630.7 L2032.4 1630.8 L2034 1630.8 L2035.6 1630.9 L2037.1 1630.9 L2038.7 1630.9 L2040.3 1630.9 L2042 1630.9 L2044.1 1630.9 L2046.3 1630.9 L2048.6 1630.9 L2050.6 1630.9 L2052.3 1630.8 L2053.8 1630.6 L2055.3 1630.4 L2057.1 1630.2 L2059.1 1630 L2061.2 1629.9 L2063.5 1629.7 L2065.7 1629.5 L2067.8 1629.3 L2070.1 1629.1 L2072.2 1629 L2074.2 1628.8 L2076 1628.7 L2077.6 1628.6 L2079.1 1628.5 L2080.7 1628.4 L2082.2 1628.4 L2083.8 1628.5 L2085.4 1628.5 L2087.1 1628.6 L2089.1 1628.7 L2091.3 1628.8 L2093.5 1629 L2095.7 1629.1 L2097.8 1629.2 L2099.7 1629.4 L2101.9 1629.5 L2104.3 1629.6 L2107.2 1629.6 L2110.5 1629.6 L2113.9 1629.6 L2117.2 1629.6 L2120.4 1629.5 L2123.6 1629.5 L2126.9 1629.5 L2130.1 1629.5 L2133.4 1629.6 L2136.8 1629.7 L2140 1629.8 L2143 1629.9 L2145.3 1630.1 L2147.3 1630.2 L2149.2 1630.3 L2151.6 1630.3 L2154.5 1630.3 L2157.7 1630.3 L2161.1 1630.2 L2164.4 1630.1 L2167.7 1630.1 L2170.9 1630 L2174.1 1629.9 L2177.3 1629.9 L2180.5 1629.8 L2183.5 1629.7 L2186.7 1629.6 L2190.2 1629.6 L2194.2 1629.6 L2198.5 1629.6 L2203 1629.7 L2207.4 1629.8 L2211.7 1629.8 L2216 1629.9 L2220.3 1629.9 L2224.6 1629.9 L2228.9 1629.9 L2233.2 1629.9 L2237.5 1629.8 L2241.8 1629.8 L2246.1 1629.8 L2250.4 1629.8 L2254.6 1629.9 L2258.9 1629.9 L2263.2 1630 L2267.5 1630.2 L2271.8 1630.3 L2276.1 1630.3 L2280.5 1630.3 L2285 1630.3 L2289.3 1630.2 L2293.3 1630.1 L2296.8 1630 L2300 1629.8 L2303.1 1629.7 L2306.2 1629.6 L2309.4 1629.6 L2312.6 1629.7 L2315.9 1629.8 L2319.1 1629.9 L2322.3 1630.1 L2325.5 1630.2 L2328.7 1630.3 L2332 1630.3 L2335.2 1630.3 L2338.4 1630.2 L2341.6 1630.1 L2344.9 1630 L2348 1630 L2351 1629.9 L2354.2 1629.8 L2357.7 1629.8 L2361.7 1629.7 L2366.1 1629.6 L2370.5 1629.6 L2374.9 1629.6 L2379.2 1629.6 L2383.5 1629.7 L2387.8 1629.7 L2392.1 1629.8 L2396.7 1629.7 L2401.5 1629.7 L2405.9 1629.6 L2408.9 1629.6 L2408.9 1660" fill="none" stroke="#a0a0a0" stroke-width="2" stroke-linejoin="round"/></g>
<line x1="2385" y1="1629.7" x2="2385" y2="1648.2" stroke="#a0a0a0" stroke-width="2.2" stroke-linecap="butt"/>
<line x1="1633.5" y1="1250" x2="2385" y2="1250" stroke="#0000ff" stroke-width="5" stroke-linecap="round"/>
<line x1="1633.5" y1="1516" x2="2385" y2="1516" stroke="#00ffff" stroke-width="5" stroke-linecap="round"/>
<rect x="2005.9" y="1246" width="55.5" height="8" fill="#fff"/>
<rect x="2229.9" y="1512" width="102" height="8" fill="#fff"/>
<text transform="translate(2012.3,1285.8) scale(1.0474,1.03)" font-size="80" text-anchor="start" fill="#0000ff">3</text>
<text transform="translate(2235.5,1546.8) scale(1.0263,1.03)" font-size="80" text-anchor="start" fill="#00ffff">10</text>
<line x1="1633.5" y1="1193.5" x2="1633.5" y2="1649.7" stroke="#000" stroke-width="3" stroke-linecap="butt"/>
<line x1="1632" y1="1648.2" x2="2383.5" y2="1648.2" stroke="#000" stroke-width="3" stroke-linecap="butt"/>
<line x1="1664.9" y1="1648.2" x2="1664.9" y2="1652.7" stroke="#000" stroke-width="3" stroke-linecap="butt"/>
<line x1="1712.9" y1="1648.2" x2="1712.9" y2="1652.7" stroke="#000" stroke-width="3" stroke-linecap="butt"/>
<line x1="1760.9" y1="1648.2" x2="1760.9" y2="1652.7" stroke="#000" stroke-width="3" stroke-linecap="butt"/>
<line x1="1808.9" y1="1648.2" x2="1808.9" y2="1652.7" stroke="#000" stroke-width="3" stroke-linecap="butt"/>
<line x1="1857" y1="1648.2" x2="1857" y2="1652.7" stroke="#000" stroke-width="3" stroke-linecap="butt"/>
<line x1="1905" y1="1648.2" x2="1905" y2="1652.7" stroke="#000" stroke-width="3" stroke-linecap="butt"/>
<line x1="1953" y1="1648.2" x2="1953" y2="1652.7" stroke="#000" stroke-width="3" stroke-linecap="butt"/>
<line x1="2001" y1="1648.2" x2="2001" y2="1652.7" stroke="#000" stroke-width="3" stroke-linecap="butt"/>
<line x1="2049" y1="1648.2" x2="2049" y2="1652.7" stroke="#000" stroke-width="3" stroke-linecap="butt"/>
<line x1="2097" y1="1648.2" x2="2097" y2="1656.2" stroke="#000" stroke-width="3" stroke-linecap="butt"/>
<line x1="2145" y1="1648.2" x2="2145" y2="1652.7" stroke="#000" stroke-width="3" stroke-linecap="butt"/>
<line x1="2193" y1="1648.2" x2="2193" y2="1652.7" stroke="#000" stroke-width="3" stroke-linecap="butt"/>
<line x1="2241" y1="1648.2" x2="2241" y2="1652.7" stroke="#000" stroke-width="3" stroke-linecap="butt"/>
<line x1="2289" y1="1648.2" x2="2289" y2="1652.7" stroke="#000" stroke-width="3" stroke-linecap="butt"/>
<line x1="2337.1" y1="1648.2" x2="2337.1" y2="1652.7" stroke="#000" stroke-width="3" stroke-linecap="butt"/>
<line x1="2385.1" y1="1648.2" x2="2385.1" y2="1652.7" stroke="#000" stroke-width="3" stroke-linecap="butt"/>
<line x1="1625.5" y1="1630" x2="1633.5" y2="1630" stroke="#000" stroke-width="3" stroke-linecap="butt"/>
<line x1="1629.5" y1="1535" x2="1633.5" y2="1535" stroke="#000" stroke-width="3" stroke-linecap="butt"/>
<line x1="1625.5" y1="1440" x2="1633.5" y2="1440" stroke="#000" stroke-width="3" stroke-linecap="butt"/>
<line x1="1629.5" y1="1345" x2="1633.5" y2="1345" stroke="#000" stroke-width="3" stroke-linecap="butt"/>
<line x1="1625.5" y1="1250" x2="1633.5" y2="1250" stroke="#000" stroke-width="3" stroke-linecap="butt"/>
<text transform="translate(1516.9,1274) scale(0.9392,1.03)" font-size="80" text-anchor="start" fill="#000">1.0</text>
<text transform="translate(1514.6,1462.7) scale(0.96,1.03)" font-size="80" text-anchor="start" fill="#000">0.5</text>
<text transform="translate(1514.6,1653.4) scale(0.96,1.03)" font-size="80" text-anchor="start" fill="#000">0.0</text>
<text transform="translate(2013.1,1721.6) scale(0.9521,1.03)" font-size="80" text-anchor="start" fill="#000">1000</text>
<text transform="translate(156.2,2025.7) scale(1.0076,1.03)" font-size="80" text-anchor="start" fill="#000">0.0</text>
<text transform="translate(156.2,1563) scale(1.0038,1.03)" font-size="80" text-anchor="start" fill="#000">0.2</text>
<text transform="translate(836.6,2117) scale(1.0228,1.03)" font-size="80" text-anchor="start" fill="#000">500</text>
<text transform="translate(1462.3,2117) scale(0.9941,1.03)" font-size="80" text-anchor="start" fill="#000">1000</text>
<text transform="translate(2099.9,2117) scale(1.0172,1.03)" font-size="80" text-anchor="start" fill="#000">1500</text>
<text transform="translate(38.8,1238.1) scale(1.0,1.0)" font-size="79" text-anchor="start" fill="#000" font-weight="bold">(b)</text>
<text transform="translate(76,1637.9) rotate(-90) scale(1,1.03)" font-size="81.6" text-anchor="middle">intensity (a.u.)</text>
<text transform="translate(1000.6,2261.5) scale(1.0,1.03)" font-size="81.6" text-anchor="start" fill="#000">Raman shift (cm</text>
<text transform="translate(1596,2216.6) scale(1.0,1.03)" font-size="49" text-anchor="start" fill="#000">−1</text>
<text transform="translate(1653,2261.5) scale(1.0,1.03)" font-size="81.6" text-anchor="start" fill="#000">)</text>
</svg>
</body></html>
